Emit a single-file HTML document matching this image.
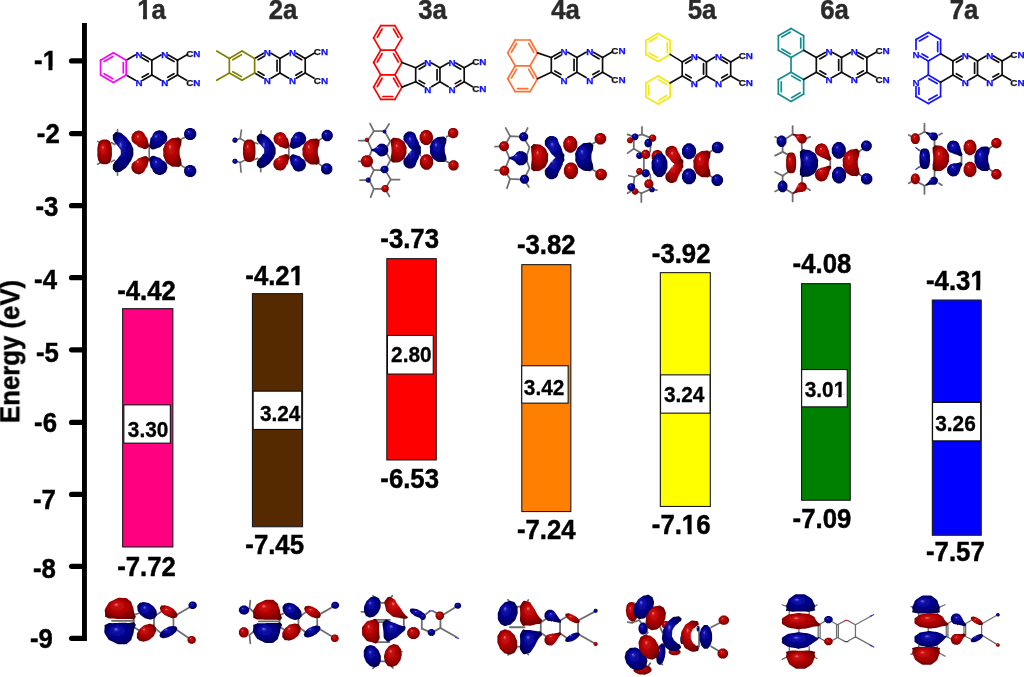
<!DOCTYPE html>
<html><head><meta charset="utf-8"><title>Energy levels</title>
<style>
html,body{margin:0;padding:0;background:#fff;}
body{width:1024px;height:677px;overflow:hidden;font-family:"Liberation Sans",sans-serif;}
svg{display:block;}
text{font-family:"Liberation Sans",sans-serif;font-weight:bold;}
.tk{font-size:27px;fill:#000;stroke:#000;stroke-width:0.45px;}
.yl{font-size:27px;fill:#000;stroke:#000;stroke-width:0.45px;}
.ev{font-size:27px;fill:#000;stroke:#000;stroke-width:0.45px;}
.gp{font-size:21.5px;fill:#000;stroke:#000;stroke-width:0.3px;}
.tt{font-size:27px;fill:#2b2b2b;stroke:#2b2b2b;stroke-width:0.45px;}
</style></head><body>
<svg width="1024" height="677" viewBox="0 0 1024 677">
<rect width="1024" height="677" fill="#fff"/>
<defs><filter id="soft" x="0" y="0" width="1024" height="677" filterUnits="userSpaceOnUse"><feGaussianBlur stdDeviation="0.38"/></filter></defs>
<g filter="url(#soft)">
<g id="axis">
<rect x="82" y="23" width="4.9" height="618.0" fill="#000"/>
<line x1="71.6" y1="60.9" x2="84" y2="60.9" stroke="#000" stroke-width="5.3" stroke-linecap="round"/>
<text transform="translate(34.1,69.9) scale(0.955,1)" text-anchor="start" class="tk">-1</text>
<line x1="71.6" y1="133.6" x2="84" y2="133.6" stroke="#000" stroke-width="5.3" stroke-linecap="round"/>
<text transform="translate(36.8,143.2) scale(0.955,1)" text-anchor="start" class="tk">-2</text>
<line x1="71.6" y1="205.7" x2="84" y2="205.7" stroke="#000" stroke-width="5.3" stroke-linecap="round"/>
<text transform="translate(35.4,215.5) scale(0.955,1)" text-anchor="start" class="tk">-3</text>
<line x1="71.6" y1="277.7" x2="84" y2="277.7" stroke="#000" stroke-width="5.3" stroke-linecap="round"/>
<text transform="translate(34.1,288.6) scale(0.955,1)" text-anchor="start" class="tk">-4</text>
<line x1="71.6" y1="349.8" x2="84" y2="349.8" stroke="#000" stroke-width="5.3" stroke-linecap="round"/>
<text transform="translate(36.0,362.4) scale(0.955,1)" text-anchor="start" class="tk">-5</text>
<line x1="71.6" y1="422.4" x2="84" y2="422.4" stroke="#000" stroke-width="5.3" stroke-linecap="round"/>
<text transform="translate(34.1,432.1) scale(0.955,1)" text-anchor="start" class="tk">-6</text>
<line x1="71.6" y1="494.4" x2="84" y2="494.4" stroke="#000" stroke-width="5.3" stroke-linecap="round"/>
<text transform="translate(32.9,509.1) scale(0.955,1)" text-anchor="start" class="tk">-7</text>
<line x1="71.6" y1="566.3" x2="84" y2="566.3" stroke="#000" stroke-width="5.3" stroke-linecap="round"/>
<text transform="translate(32.9,577.7) scale(0.955,1)" text-anchor="start" class="tk">-8</text>
<line x1="71.6" y1="638.3" x2="84" y2="638.3" stroke="#000" stroke-width="5.3" stroke-linecap="round"/>
<text transform="translate(30.0,647.8) scale(0.955,1)" text-anchor="start" class="tk">-9</text>
<text transform="translate(19.3,351.5) rotate(-90) scale(0.955,1)" text-anchor="middle" class="yl">Energy (eV)</text>
</g>
<g id="bars">
<rect x="122.65" y="308.65" width="50.20" height="238.30" fill="#ff0080" stroke="#1a1a1a" stroke-width="1.1"/>
<rect x="123.85" y="404.85" width="46.50" height="38.30" fill="#fff" stroke="#111" stroke-width="1.1"/>
<text transform="translate(127.8,436.6) scale(0.970,1)" text-anchor="start" class="gp">3.30</text>
<text transform="translate(117.2,299.9) scale(0.955,1)" text-anchor="start" class="ev">-4.42</text>
<text transform="translate(117.2,576.2) scale(0.955,1)" text-anchor="start" class="ev">-7.72</text>
<rect x="252.45" y="293.65" width="50.10" height="233.10" fill="#562b00" stroke="#1a1a1a" stroke-width="1.1"/>
<rect x="253.15" y="391.15" width="48.60" height="38.30" fill="#fff" stroke="#111" stroke-width="1.1"/>
<text transform="translate(259.9,420.7) scale(0.970,1)" text-anchor="start" class="gp">3.24</text>
<text transform="translate(245.3,284.9) scale(0.955,1)" text-anchor="start" class="ev">-4.21</text>
<text transform="translate(245.3,553.5) scale(0.955,1)" text-anchor="start" class="ev">-7.45</text>
<rect x="386.80" y="258.65" width="49.45" height="201.30" fill="#ff0000" stroke="#1a1a1a" stroke-width="1.1"/>
<rect x="387.45" y="335.45" width="45.80" height="38.60" fill="#fff" stroke="#111" stroke-width="1.1"/>
<text transform="translate(391.1,361.8) scale(0.970,1)" text-anchor="start" class="gp">2.80</text>
<text transform="translate(380.3,248.2) scale(0.955,1)" text-anchor="start" class="ev">-3.73</text>
<text transform="translate(380.3,487.8) scale(0.955,1)" text-anchor="start" class="ev">-6.53</text>
<rect x="521.80" y="264.65" width="49.05" height="246.90" fill="#ff8000" stroke="#1a1a1a" stroke-width="1.1"/>
<rect x="521.75" y="365.75" width="46.40" height="37.40" fill="#fff" stroke="#111" stroke-width="1.1"/>
<text transform="translate(523.8,395.3) scale(0.970,1)" text-anchor="start" class="gp">3.42</text>
<text transform="translate(516.9,253.8) scale(0.955,1)" text-anchor="start" class="ev">-3.82</text>
<text transform="translate(516.9,538.7) scale(0.955,1)" text-anchor="start" class="ev">-7.24</text>
<rect x="660.35" y="272.65" width="50.00" height="233.80" fill="#ffff00" stroke="#1a1a1a" stroke-width="1.1"/>
<rect x="660.55" y="374.85" width="49.50" height="38.30" fill="#fff" stroke="#111" stroke-width="1.1"/>
<text transform="translate(663.9,402.2) scale(0.970,1)" text-anchor="start" class="gp">3.24</text>
<text transform="translate(651.8,262.7) scale(0.955,1)" text-anchor="start" class="ev">-3.92</text>
<text transform="translate(651.8,533.9) scale(0.955,1)" text-anchor="start" class="ev">-7.16</text>
<rect x="801.55" y="283.65" width="48.70" height="216.60" fill="#008000" stroke="#1a1a1a" stroke-width="1.1"/>
<rect x="801.65" y="369.55" width="45.60" height="37.30" fill="#fff" stroke="#111" stroke-width="1.1"/>
<text transform="translate(804.7,397.0) scale(0.970,1)" text-anchor="start" class="gp">3.01</text>
<text transform="translate(792.6,272.7) scale(0.955,1)" text-anchor="start" class="ev">-4.08</text>
<text transform="translate(792.6,527.5) scale(0.955,1)" text-anchor="start" class="ev">-7.09</text>
<rect x="932.35" y="300.05" width="48.90" height="235.20" fill="#0000ff" stroke="#1a1a1a" stroke-width="1.1"/>
<rect x="932.55" y="402.45" width="48.10" height="38.40" fill="#fff" stroke="#111" stroke-width="1.1"/>
<text transform="translate(935.2,431.0) scale(0.970,1)" text-anchor="start" class="gp">3.26</text>
<text transform="translate(926.0,289.9) scale(0.955,1)" text-anchor="start" class="ev">-4.31</text>
<text transform="translate(926.0,561.3) scale(0.955,1)" text-anchor="start" class="ev">-7.57</text>
</g>
<g id="titles">
<text transform="translate(151.5,18.8) scale(0.955,1)" text-anchor="middle" class="tt">1a</text>
<text transform="translate(283.0,18.8) scale(0.955,1)" text-anchor="middle" class="tt">2a</text>
<text transform="translate(432.5,18.8) scale(0.955,1)" text-anchor="middle" class="tt">3a</text>
<text transform="translate(565.5,18.8) scale(0.955,1)" text-anchor="middle" class="tt">4a</text>
<text transform="translate(702.0,18.8) scale(0.955,1)" text-anchor="middle" class="tt">5a</text>
<text transform="translate(834.5,18.8) scale(0.955,1)" text-anchor="middle" class="tt">6a</text>
<text transform="translate(964.0,18.8) scale(0.955,1)" text-anchor="middle" class="tt">7a</text>
</g>
<g id="mols" stroke-linecap="round" fill="none">
<line x1="126.22" y1="60.20" x2="135.31" y2="54.95" stroke="#111" stroke-width="1.70"/>
<line x1="142.76" y1="54.95" x2="151.85" y2="60.20" stroke="#111" stroke-width="1.70"/>
<line x1="151.85" y1="60.20" x2="151.85" y2="75.00" stroke="#111" stroke-width="1.70"/>
<line x1="151.85" y1="75.00" x2="142.76" y2="80.25" stroke="#111" stroke-width="1.70"/>
<line x1="135.31" y1="80.25" x2="126.22" y2="75.00" stroke="#111" stroke-width="1.70"/>
<line x1="151.85" y1="60.20" x2="160.94" y2="54.95" stroke="#111" stroke-width="1.70"/>
<line x1="168.39" y1="54.95" x2="177.49" y2="60.20" stroke="#111" stroke-width="1.70"/>
<line x1="177.49" y1="60.20" x2="177.49" y2="75.00" stroke="#111" stroke-width="1.70"/>
<line x1="177.49" y1="75.00" x2="168.39" y2="80.25" stroke="#111" stroke-width="1.70"/>
<line x1="160.94" y1="80.25" x2="151.85" y2="75.00" stroke="#111" stroke-width="1.70"/>
<line x1="142.17" y1="57.96" x2="148.35" y2="61.53" stroke="#111" stroke-width="1.70"/>
<line x1="142.17" y1="77.24" x2="148.35" y2="73.67" stroke="#111" stroke-width="1.70"/>
<line x1="167.81" y1="57.96" x2="173.99" y2="61.53" stroke="#111" stroke-width="1.70"/>
<line x1="167.81" y1="77.24" x2="173.99" y2="73.67" stroke="#111" stroke-width="1.70"/>
<text x="139.03" y="57.53" text-anchor="middle" font-size="9.8" fill="#0a0aff" stroke="#0a0aff" stroke-width="0.25">N</text>
<text x="139.03" y="86.23" text-anchor="middle" font-size="9.8" fill="#0a0aff" stroke="#0a0aff" stroke-width="0.25">N</text>
<text x="164.67" y="57.53" text-anchor="middle" font-size="9.8" fill="#0a0aff" stroke="#0a0aff" stroke-width="0.25">N</text>
<text x="164.67" y="86.23" text-anchor="middle" font-size="9.8" fill="#0a0aff" stroke="#0a0aff" stroke-width="0.25">N</text>
<line x1="177.49" y1="60.20" x2="186.58" y2="54.95" stroke="#111" stroke-width="1.70"/>
<text x="186.20" y="56.75" font-size="9.9"><tspan fill="#111" stroke="#111" stroke-width="0.25">C</tspan><tspan fill="#0a0aff" stroke="#0a0aff" stroke-width="0.25">N</tspan></text>
<line x1="177.49" y1="75.00" x2="186.58" y2="80.25" stroke="#111" stroke-width="1.70"/>
<text x="186.20" y="85.75" font-size="9.9"><tspan fill="#111" stroke="#111" stroke-width="0.25">C</tspan><tspan fill="#0a0aff" stroke="#0a0aff" stroke-width="0.25">N</tspan></text>
<line x1="113.40" y1="52.80" x2="126.22" y2="60.20" stroke="#ff00ff" stroke-width="1.70"/>
<line x1="126.22" y1="60.20" x2="126.22" y2="75.00" stroke="#ff00ff" stroke-width="1.70"/>
<line x1="126.22" y1="75.00" x2="113.40" y2="82.40" stroke="#ff00ff" stroke-width="1.70"/>
<line x1="113.40" y1="82.40" x2="100.58" y2="75.00" stroke="#ff00ff" stroke-width="1.70"/>
<line x1="100.58" y1="75.00" x2="100.58" y2="60.20" stroke="#ff00ff" stroke-width="1.70"/>
<line x1="100.58" y1="60.20" x2="113.40" y2="52.80" stroke="#ff00ff" stroke-width="1.70"/>
<line x1="104.08" y1="61.53" x2="112.80" y2="56.50" stroke="#ff00ff" stroke-width="1.70"/>
<line x1="123.32" y1="62.57" x2="123.32" y2="72.63" stroke="#ff00ff" stroke-width="1.70"/>
<line x1="112.80" y1="78.70" x2="104.08" y2="73.67" stroke="#ff00ff" stroke-width="1.70"/>
<line x1="254.64" y1="58.40" x2="263.56" y2="53.25" stroke="#111" stroke-width="1.70"/>
<line x1="271.01" y1="53.25" x2="279.93" y2="58.40" stroke="#111" stroke-width="1.70"/>
<line x1="279.93" y1="58.40" x2="279.93" y2="73.00" stroke="#111" stroke-width="1.70"/>
<line x1="279.93" y1="73.00" x2="271.01" y2="78.15" stroke="#111" stroke-width="1.70"/>
<line x1="263.56" y1="78.15" x2="254.64" y2="73.00" stroke="#111" stroke-width="1.70"/>
<line x1="279.93" y1="58.40" x2="288.85" y2="53.25" stroke="#111" stroke-width="1.70"/>
<line x1="296.30" y1="53.25" x2="305.22" y2="58.40" stroke="#111" stroke-width="1.70"/>
<line x1="305.22" y1="58.40" x2="305.22" y2="73.00" stroke="#111" stroke-width="1.70"/>
<line x1="305.22" y1="73.00" x2="296.30" y2="78.15" stroke="#111" stroke-width="1.70"/>
<line x1="288.85" y1="78.15" x2="279.93" y2="73.00" stroke="#111" stroke-width="1.70"/>
<line x1="258.12" y1="59.74" x2="264.15" y2="56.26" stroke="#111" stroke-width="1.70"/>
<line x1="258.12" y1="71.66" x2="264.15" y2="75.14" stroke="#111" stroke-width="1.70"/>
<line x1="277.03" y1="60.30" x2="277.03" y2="71.10" stroke="#111" stroke-width="1.70"/>
<line x1="295.72" y1="56.26" x2="301.75" y2="59.74" stroke="#111" stroke-width="1.70"/>
<line x1="295.72" y1="75.14" x2="301.75" y2="71.66" stroke="#111" stroke-width="1.70"/>
<text x="267.29" y="55.83" text-anchor="middle" font-size="9.8" fill="#0a0aff" stroke="#0a0aff" stroke-width="0.25">N</text>
<text x="267.29" y="84.13" text-anchor="middle" font-size="9.8" fill="#0a0aff" stroke="#0a0aff" stroke-width="0.25">N</text>
<text x="292.58" y="55.83" text-anchor="middle" font-size="9.8" fill="#0a0aff" stroke="#0a0aff" stroke-width="0.25">N</text>
<text x="292.58" y="84.13" text-anchor="middle" font-size="9.8" fill="#0a0aff" stroke="#0a0aff" stroke-width="0.25">N</text>
<line x1="305.22" y1="58.40" x2="314.14" y2="53.25" stroke="#111" stroke-width="1.70"/>
<text x="313.76" y="55.05" font-size="9.9"><tspan fill="#111" stroke="#111" stroke-width="0.25">C</tspan><tspan fill="#0a0aff" stroke="#0a0aff" stroke-width="0.25">N</tspan></text>
<line x1="305.22" y1="73.00" x2="314.14" y2="78.15" stroke="#111" stroke-width="1.70"/>
<text x="313.76" y="83.65" font-size="9.9"><tspan fill="#111" stroke="#111" stroke-width="0.25">C</tspan><tspan fill="#0a0aff" stroke="#0a0aff" stroke-width="0.25">N</tspan></text>
<line x1="242.00" y1="51.10" x2="254.64" y2="58.40" stroke="#808000" stroke-width="1.70"/>
<line x1="254.64" y1="58.40" x2="254.64" y2="73.00" stroke="#808000" stroke-width="1.70"/>
<line x1="254.64" y1="73.00" x2="242.00" y2="80.30" stroke="#808000" stroke-width="1.70"/>
<line x1="242.00" y1="80.30" x2="229.36" y2="73.00" stroke="#808000" stroke-width="1.70"/>
<line x1="229.36" y1="73.00" x2="229.36" y2="58.40" stroke="#808000" stroke-width="1.70"/>
<line x1="229.36" y1="58.40" x2="242.00" y2="51.10" stroke="#808000" stroke-width="1.70"/>
<line x1="232.83" y1="59.74" x2="241.43" y2="54.78" stroke="#808000" stroke-width="1.70"/>
<line x1="241.43" y1="76.62" x2="232.83" y2="71.66" stroke="#808000" stroke-width="1.70"/>
<line x1="229.36" y1="58.40" x2="216.71" y2="51.10" stroke="#808000" stroke-width="1.70"/>
<line x1="229.36" y1="73.00" x2="216.71" y2="80.30" stroke="#808000" stroke-width="1.70"/>
<line x1="380.70" y1="25.60" x2="394.90" y2="25.60" stroke="#ff0000" stroke-width="1.70"/>
<line x1="394.90" y1="25.60" x2="402.00" y2="37.90" stroke="#ff0000" stroke-width="1.70"/>
<line x1="402.00" y1="37.90" x2="394.90" y2="50.20" stroke="#ff0000" stroke-width="1.70"/>
<line x1="394.90" y1="50.20" x2="380.70" y2="50.20" stroke="#ff0000" stroke-width="1.70"/>
<line x1="380.70" y1="50.20" x2="373.60" y2="37.90" stroke="#ff0000" stroke-width="1.70"/>
<line x1="373.60" y1="37.90" x2="380.70" y2="25.60" stroke="#ff0000" stroke-width="1.70"/>
<line x1="394.90" y1="50.20" x2="402.00" y2="62.50" stroke="#ff0000" stroke-width="1.70"/>
<line x1="402.00" y1="62.50" x2="394.90" y2="74.79" stroke="#ff0000" stroke-width="1.70"/>
<line x1="394.90" y1="74.79" x2="380.70" y2="74.79" stroke="#ff0000" stroke-width="1.70"/>
<line x1="380.70" y1="74.79" x2="373.60" y2="62.50" stroke="#ff0000" stroke-width="1.70"/>
<line x1="373.60" y1="62.50" x2="380.70" y2="50.20" stroke="#ff0000" stroke-width="1.70"/>
<line x1="394.90" y1="74.79" x2="402.00" y2="87.09" stroke="#ff0000" stroke-width="1.70"/>
<line x1="402.00" y1="87.09" x2="394.90" y2="99.39" stroke="#ff0000" stroke-width="1.70"/>
<line x1="394.90" y1="99.39" x2="380.70" y2="99.39" stroke="#ff0000" stroke-width="1.70"/>
<line x1="380.70" y1="99.39" x2="373.60" y2="87.09" stroke="#ff0000" stroke-width="1.70"/>
<line x1="373.60" y1="87.09" x2="380.70" y2="74.79" stroke="#ff0000" stroke-width="1.70"/>
<line x1="377.25" y1="37.38" x2="382.08" y2="29.02" stroke="#ff0000" stroke-width="1.70"/>
<line x1="393.52" y1="29.02" x2="398.35" y2="37.38" stroke="#ff0000" stroke-width="1.70"/>
<line x1="377.25" y1="61.98" x2="382.08" y2="53.62" stroke="#ff0000" stroke-width="1.70"/>
<line x1="393.52" y1="53.62" x2="398.35" y2="61.98" stroke="#ff0000" stroke-width="1.70"/>
<line x1="377.25" y1="86.57" x2="382.08" y2="78.21" stroke="#ff0000" stroke-width="1.70"/>
<line x1="393.52" y1="78.21" x2="398.35" y2="86.57" stroke="#ff0000" stroke-width="1.70"/>
<line x1="392.63" y1="96.49" x2="382.97" y2="96.49" stroke="#ff0000" stroke-width="1.70"/>
<line x1="415.70" y1="67.79" x2="424.10" y2="62.94" stroke="#111" stroke-width="1.70"/>
<line x1="431.55" y1="62.94" x2="439.95" y2="67.79" stroke="#111" stroke-width="1.70"/>
<line x1="439.95" y1="67.79" x2="439.95" y2="81.79" stroke="#111" stroke-width="1.70"/>
<line x1="439.95" y1="81.79" x2="431.55" y2="86.64" stroke="#111" stroke-width="1.70"/>
<line x1="424.10" y1="86.64" x2="415.70" y2="81.79" stroke="#111" stroke-width="1.70"/>
<line x1="415.70" y1="81.79" x2="415.70" y2="67.79" stroke="#111" stroke-width="1.70"/>
<line x1="439.95" y1="67.79" x2="448.35" y2="62.94" stroke="#111" stroke-width="1.70"/>
<line x1="455.80" y1="62.94" x2="464.20" y2="67.79" stroke="#111" stroke-width="1.70"/>
<line x1="464.20" y1="67.79" x2="464.20" y2="81.79" stroke="#111" stroke-width="1.70"/>
<line x1="464.20" y1="81.79" x2="455.80" y2="86.64" stroke="#111" stroke-width="1.70"/>
<line x1="448.35" y1="86.64" x2="439.95" y2="81.79" stroke="#111" stroke-width="1.70"/>
<line x1="419.09" y1="69.18" x2="424.68" y2="65.95" stroke="#111" stroke-width="1.70"/>
<line x1="419.09" y1="80.40" x2="424.68" y2="83.63" stroke="#111" stroke-width="1.70"/>
<line x1="437.05" y1="69.61" x2="437.05" y2="79.97" stroke="#111" stroke-width="1.70"/>
<line x1="455.21" y1="65.95" x2="460.81" y2="69.18" stroke="#111" stroke-width="1.70"/>
<line x1="455.21" y1="83.63" x2="460.81" y2="80.40" stroke="#111" stroke-width="1.70"/>
<text x="427.82" y="65.52" text-anchor="middle" font-size="9.8" fill="#0a0aff" stroke="#0a0aff" stroke-width="0.25">N</text>
<text x="427.82" y="92.62" text-anchor="middle" font-size="9.8" fill="#0a0aff" stroke="#0a0aff" stroke-width="0.25">N</text>
<text x="452.07" y="65.52" text-anchor="middle" font-size="9.8" fill="#0a0aff" stroke="#0a0aff" stroke-width="0.25">N</text>
<text x="452.07" y="92.62" text-anchor="middle" font-size="9.8" fill="#0a0aff" stroke="#0a0aff" stroke-width="0.25">N</text>
<line x1="464.20" y1="67.79" x2="472.60" y2="62.94" stroke="#111" stroke-width="1.70"/>
<text x="472.22" y="64.74" font-size="9.9"><tspan fill="#111" stroke="#111" stroke-width="0.25">C</tspan><tspan fill="#0a0aff" stroke="#0a0aff" stroke-width="0.25">N</tspan></text>
<line x1="464.20" y1="81.79" x2="472.60" y2="86.64" stroke="#111" stroke-width="1.70"/>
<text x="472.22" y="92.14" font-size="9.9"><tspan fill="#111" stroke="#111" stroke-width="0.25">C</tspan><tspan fill="#0a0aff" stroke="#0a0aff" stroke-width="0.25">N</tspan></text>
<line x1="402.00" y1="62.50" x2="415.70" y2="67.79" stroke="#111" stroke-width="1.70"/>
<line x1="402.00" y1="87.09" x2="415.70" y2="81.79" stroke="#111" stroke-width="1.70"/>
<line x1="515.15" y1="40.00" x2="530.05" y2="40.00" stroke="#ff7033" stroke-width="1.70"/>
<line x1="530.05" y1="40.00" x2="537.50" y2="52.90" stroke="#ff7033" stroke-width="1.70"/>
<line x1="537.50" y1="52.90" x2="530.05" y2="65.80" stroke="#ff7033" stroke-width="1.70"/>
<line x1="530.05" y1="65.80" x2="515.15" y2="65.80" stroke="#ff7033" stroke-width="1.70"/>
<line x1="515.15" y1="65.80" x2="507.70" y2="52.90" stroke="#ff7033" stroke-width="1.70"/>
<line x1="507.70" y1="52.90" x2="515.15" y2="40.00" stroke="#ff7033" stroke-width="1.70"/>
<line x1="530.05" y1="65.80" x2="537.50" y2="78.71" stroke="#ff7033" stroke-width="1.70"/>
<line x1="537.50" y1="78.71" x2="530.05" y2="91.61" stroke="#ff7033" stroke-width="1.70"/>
<line x1="530.05" y1="91.61" x2="515.15" y2="91.61" stroke="#ff7033" stroke-width="1.70"/>
<line x1="515.15" y1="91.61" x2="507.70" y2="78.71" stroke="#ff7033" stroke-width="1.70"/>
<line x1="507.70" y1="78.71" x2="515.15" y2="65.80" stroke="#ff7033" stroke-width="1.70"/>
<line x1="511.40" y1="52.29" x2="516.47" y2="43.51" stroke="#ff7033" stroke-width="1.70"/>
<line x1="528.73" y1="43.51" x2="533.80" y2="52.29" stroke="#ff7033" stroke-width="1.70"/>
<line x1="511.40" y1="78.09" x2="516.47" y2="69.32" stroke="#ff7033" stroke-width="1.70"/>
<line x1="528.73" y1="69.32" x2="533.80" y2="78.09" stroke="#ff7033" stroke-width="1.70"/>
<line x1="527.67" y1="88.71" x2="517.53" y2="88.71" stroke="#ff7033" stroke-width="1.70"/>
<line x1="551.30" y1="57.50" x2="560.39" y2="52.25" stroke="#111" stroke-width="1.70"/>
<line x1="567.84" y1="52.25" x2="576.93" y2="57.50" stroke="#111" stroke-width="1.70"/>
<line x1="576.93" y1="57.50" x2="576.93" y2="72.30" stroke="#111" stroke-width="1.70"/>
<line x1="576.93" y1="72.30" x2="567.84" y2="77.55" stroke="#111" stroke-width="1.70"/>
<line x1="560.39" y1="77.55" x2="551.30" y2="72.30" stroke="#111" stroke-width="1.70"/>
<line x1="551.30" y1="72.30" x2="551.30" y2="57.50" stroke="#111" stroke-width="1.70"/>
<line x1="576.93" y1="57.50" x2="586.03" y2="52.25" stroke="#111" stroke-width="1.70"/>
<line x1="593.48" y1="52.25" x2="602.57" y2="57.50" stroke="#111" stroke-width="1.70"/>
<line x1="602.57" y1="57.50" x2="602.57" y2="72.30" stroke="#111" stroke-width="1.70"/>
<line x1="602.57" y1="72.30" x2="593.48" y2="77.55" stroke="#111" stroke-width="1.70"/>
<line x1="586.03" y1="77.55" x2="576.93" y2="72.30" stroke="#111" stroke-width="1.70"/>
<line x1="554.80" y1="58.83" x2="560.98" y2="55.27" stroke="#111" stroke-width="1.70"/>
<line x1="554.80" y1="70.98" x2="560.98" y2="74.54" stroke="#111" stroke-width="1.70"/>
<line x1="574.03" y1="59.43" x2="574.03" y2="70.38" stroke="#111" stroke-width="1.70"/>
<line x1="592.89" y1="55.27" x2="599.07" y2="58.83" stroke="#111" stroke-width="1.70"/>
<line x1="592.89" y1="74.54" x2="599.07" y2="70.98" stroke="#111" stroke-width="1.70"/>
<text x="564.12" y="54.83" text-anchor="middle" font-size="9.8" fill="#0a0aff" stroke="#0a0aff" stroke-width="0.25">N</text>
<text x="564.12" y="83.53" text-anchor="middle" font-size="9.8" fill="#0a0aff" stroke="#0a0aff" stroke-width="0.25">N</text>
<text x="589.75" y="54.83" text-anchor="middle" font-size="9.8" fill="#0a0aff" stroke="#0a0aff" stroke-width="0.25">N</text>
<text x="589.75" y="83.53" text-anchor="middle" font-size="9.8" fill="#0a0aff" stroke="#0a0aff" stroke-width="0.25">N</text>
<line x1="602.57" y1="57.50" x2="611.66" y2="52.25" stroke="#111" stroke-width="1.70"/>
<text x="611.29" y="54.05" font-size="9.9"><tspan fill="#111" stroke="#111" stroke-width="0.25">C</tspan><tspan fill="#0a0aff" stroke="#0a0aff" stroke-width="0.25">N</tspan></text>
<line x1="602.57" y1="72.30" x2="611.66" y2="77.55" stroke="#111" stroke-width="1.70"/>
<text x="611.29" y="83.05" font-size="9.9"><tspan fill="#111" stroke="#111" stroke-width="0.25">C</tspan><tspan fill="#0a0aff" stroke="#0a0aff" stroke-width="0.25">N</tspan></text>
<line x1="537.50" y1="52.90" x2="551.30" y2="57.50" stroke="#111" stroke-width="1.70"/>
<line x1="537.50" y1="78.71" x2="551.30" y2="72.30" stroke="#111" stroke-width="1.70"/>
<line x1="682.20" y1="61.90" x2="690.60" y2="57.05" stroke="#111" stroke-width="1.70"/>
<line x1="698.05" y1="57.05" x2="706.45" y2="61.90" stroke="#111" stroke-width="1.70"/>
<line x1="706.45" y1="61.90" x2="706.45" y2="75.90" stroke="#111" stroke-width="1.70"/>
<line x1="706.45" y1="75.90" x2="698.05" y2="80.75" stroke="#111" stroke-width="1.70"/>
<line x1="690.60" y1="80.75" x2="682.20" y2="75.90" stroke="#111" stroke-width="1.70"/>
<line x1="682.20" y1="75.90" x2="682.20" y2="61.90" stroke="#111" stroke-width="1.70"/>
<line x1="706.45" y1="61.90" x2="714.85" y2="57.05" stroke="#111" stroke-width="1.70"/>
<line x1="722.30" y1="57.05" x2="730.70" y2="61.90" stroke="#111" stroke-width="1.70"/>
<line x1="730.70" y1="61.90" x2="730.70" y2="75.90" stroke="#111" stroke-width="1.70"/>
<line x1="730.70" y1="75.90" x2="722.30" y2="80.75" stroke="#111" stroke-width="1.70"/>
<line x1="714.85" y1="80.75" x2="706.45" y2="75.90" stroke="#111" stroke-width="1.70"/>
<line x1="685.59" y1="63.29" x2="691.18" y2="60.06" stroke="#111" stroke-width="1.70"/>
<line x1="685.59" y1="74.51" x2="691.18" y2="77.74" stroke="#111" stroke-width="1.70"/>
<line x1="703.55" y1="63.72" x2="703.55" y2="74.08" stroke="#111" stroke-width="1.70"/>
<line x1="721.71" y1="60.06" x2="727.31" y2="63.29" stroke="#111" stroke-width="1.70"/>
<line x1="721.71" y1="77.74" x2="727.31" y2="74.51" stroke="#111" stroke-width="1.70"/>
<text x="694.32" y="59.63" text-anchor="middle" font-size="9.8" fill="#0a0aff" stroke="#0a0aff" stroke-width="0.25">N</text>
<text x="694.32" y="86.73" text-anchor="middle" font-size="9.8" fill="#0a0aff" stroke="#0a0aff" stroke-width="0.25">N</text>
<text x="718.57" y="59.63" text-anchor="middle" font-size="9.8" fill="#0a0aff" stroke="#0a0aff" stroke-width="0.25">N</text>
<text x="718.57" y="86.73" text-anchor="middle" font-size="9.8" fill="#0a0aff" stroke="#0a0aff" stroke-width="0.25">N</text>
<line x1="730.70" y1="61.90" x2="739.10" y2="57.05" stroke="#111" stroke-width="1.70"/>
<text x="738.72" y="58.85" font-size="9.9"><tspan fill="#111" stroke="#111" stroke-width="0.25">C</tspan><tspan fill="#0a0aff" stroke="#0a0aff" stroke-width="0.25">N</tspan></text>
<line x1="730.70" y1="75.90" x2="739.10" y2="80.75" stroke="#111" stroke-width="1.70"/>
<text x="738.72" y="86.25" font-size="9.9"><tspan fill="#111" stroke="#111" stroke-width="0.25">C</tspan><tspan fill="#0a0aff" stroke="#0a0aff" stroke-width="0.25">N</tspan></text>
<line x1="658.00" y1="33.40" x2="670.12" y2="40.40" stroke="#f2ea10" stroke-width="1.70"/>
<line x1="670.12" y1="40.40" x2="670.12" y2="54.40" stroke="#f2ea10" stroke-width="1.70"/>
<line x1="670.12" y1="54.40" x2="658.00" y2="61.40" stroke="#f2ea10" stroke-width="1.70"/>
<line x1="658.00" y1="61.40" x2="645.88" y2="54.40" stroke="#f2ea10" stroke-width="1.70"/>
<line x1="645.88" y1="54.40" x2="645.88" y2="40.40" stroke="#f2ea10" stroke-width="1.70"/>
<line x1="645.88" y1="40.40" x2="658.00" y2="33.40" stroke="#f2ea10" stroke-width="1.70"/>
<line x1="658.00" y1="76.00" x2="670.12" y2="83.00" stroke="#f2ea10" stroke-width="1.70"/>
<line x1="670.12" y1="83.00" x2="670.12" y2="97.00" stroke="#f2ea10" stroke-width="1.70"/>
<line x1="670.12" y1="97.00" x2="658.00" y2="104.00" stroke="#f2ea10" stroke-width="1.70"/>
<line x1="658.00" y1="104.00" x2="645.88" y2="97.00" stroke="#f2ea10" stroke-width="1.70"/>
<line x1="645.88" y1="97.00" x2="645.88" y2="83.00" stroke="#f2ea10" stroke-width="1.70"/>
<line x1="645.88" y1="83.00" x2="658.00" y2="76.00" stroke="#f2ea10" stroke-width="1.70"/>
<line x1="649.27" y1="41.79" x2="657.51" y2="37.03" stroke="#f2ea10" stroke-width="1.70"/>
<line x1="667.22" y1="42.64" x2="667.22" y2="52.16" stroke="#f2ea10" stroke-width="1.70"/>
<line x1="657.51" y1="57.77" x2="649.27" y2="53.01" stroke="#f2ea10" stroke-width="1.70"/>
<line x1="658.49" y1="79.63" x2="666.73" y2="84.39" stroke="#f2ea10" stroke-width="1.70"/>
<line x1="666.73" y1="95.61" x2="658.49" y2="100.37" stroke="#f2ea10" stroke-width="1.70"/>
<line x1="648.78" y1="94.76" x2="648.78" y2="85.24" stroke="#f2ea10" stroke-width="1.70"/>
<line x1="670.12" y1="54.40" x2="682.20" y2="61.90" stroke="#111" stroke-width="1.70"/>
<line x1="670.12" y1="83.00" x2="682.20" y2="75.90" stroke="#111" stroke-width="1.70"/>
<line x1="816.30" y1="57.60" x2="825.22" y2="52.45" stroke="#111" stroke-width="1.70"/>
<line x1="832.67" y1="52.45" x2="841.59" y2="57.60" stroke="#111" stroke-width="1.70"/>
<line x1="841.59" y1="57.60" x2="841.59" y2="72.20" stroke="#111" stroke-width="1.70"/>
<line x1="841.59" y1="72.20" x2="832.67" y2="77.35" stroke="#111" stroke-width="1.70"/>
<line x1="825.22" y1="77.35" x2="816.30" y2="72.20" stroke="#111" stroke-width="1.70"/>
<line x1="816.30" y1="72.20" x2="816.30" y2="57.60" stroke="#111" stroke-width="1.70"/>
<line x1="841.59" y1="57.60" x2="850.51" y2="52.45" stroke="#111" stroke-width="1.70"/>
<line x1="857.96" y1="52.45" x2="866.88" y2="57.60" stroke="#111" stroke-width="1.70"/>
<line x1="866.88" y1="57.60" x2="866.88" y2="72.20" stroke="#111" stroke-width="1.70"/>
<line x1="866.88" y1="72.20" x2="857.96" y2="77.35" stroke="#111" stroke-width="1.70"/>
<line x1="850.51" y1="77.35" x2="841.59" y2="72.20" stroke="#111" stroke-width="1.70"/>
<line x1="819.77" y1="58.94" x2="825.80" y2="55.46" stroke="#111" stroke-width="1.70"/>
<line x1="819.77" y1="70.86" x2="825.80" y2="74.34" stroke="#111" stroke-width="1.70"/>
<line x1="838.69" y1="59.50" x2="838.69" y2="70.30" stroke="#111" stroke-width="1.70"/>
<line x1="857.37" y1="55.46" x2="863.40" y2="58.94" stroke="#111" stroke-width="1.70"/>
<line x1="857.37" y1="74.34" x2="863.40" y2="70.86" stroke="#111" stroke-width="1.70"/>
<text x="828.94" y="55.03" text-anchor="middle" font-size="9.8" fill="#0a0aff" stroke="#0a0aff" stroke-width="0.25">N</text>
<text x="828.94" y="83.33" text-anchor="middle" font-size="9.8" fill="#0a0aff" stroke="#0a0aff" stroke-width="0.25">N</text>
<text x="854.23" y="55.03" text-anchor="middle" font-size="9.8" fill="#0a0aff" stroke="#0a0aff" stroke-width="0.25">N</text>
<text x="854.23" y="83.33" text-anchor="middle" font-size="9.8" fill="#0a0aff" stroke="#0a0aff" stroke-width="0.25">N</text>
<line x1="866.88" y1="57.60" x2="875.80" y2="52.45" stroke="#111" stroke-width="1.70"/>
<text x="875.42" y="54.25" font-size="9.9"><tspan fill="#111" stroke="#111" stroke-width="0.25">C</tspan><tspan fill="#0a0aff" stroke="#0a0aff" stroke-width="0.25">N</tspan></text>
<line x1="866.88" y1="72.20" x2="875.80" y2="77.35" stroke="#111" stroke-width="1.70"/>
<text x="875.42" y="82.85" font-size="9.9"><tspan fill="#111" stroke="#111" stroke-width="0.25">C</tspan><tspan fill="#0a0aff" stroke="#0a0aff" stroke-width="0.25">N</tspan></text>
<line x1="791.01" y1="28.40" x2="803.66" y2="35.70" stroke="#198c8c" stroke-width="1.70"/>
<line x1="803.66" y1="35.70" x2="803.66" y2="50.30" stroke="#198c8c" stroke-width="1.70"/>
<line x1="803.66" y1="50.30" x2="791.01" y2="57.60" stroke="#198c8c" stroke-width="1.70"/>
<line x1="791.01" y1="57.60" x2="778.37" y2="50.30" stroke="#198c8c" stroke-width="1.70"/>
<line x1="778.37" y1="50.30" x2="778.37" y2="35.70" stroke="#198c8c" stroke-width="1.70"/>
<line x1="778.37" y1="35.70" x2="791.01" y2="28.40" stroke="#198c8c" stroke-width="1.70"/>
<line x1="791.01" y1="72.20" x2="803.66" y2="79.50" stroke="#198c8c" stroke-width="1.70"/>
<line x1="803.66" y1="79.50" x2="803.66" y2="94.10" stroke="#198c8c" stroke-width="1.70"/>
<line x1="803.66" y1="94.10" x2="791.01" y2="101.40" stroke="#198c8c" stroke-width="1.70"/>
<line x1="791.01" y1="101.40" x2="778.37" y2="94.10" stroke="#198c8c" stroke-width="1.70"/>
<line x1="778.37" y1="94.10" x2="778.37" y2="79.50" stroke="#198c8c" stroke-width="1.70"/>
<line x1="778.37" y1="79.50" x2="791.01" y2="72.20" stroke="#198c8c" stroke-width="1.70"/>
<line x1="781.84" y1="37.04" x2="790.44" y2="32.08" stroke="#198c8c" stroke-width="1.70"/>
<line x1="800.76" y1="38.04" x2="800.76" y2="47.96" stroke="#198c8c" stroke-width="1.70"/>
<line x1="790.44" y1="53.92" x2="781.84" y2="48.96" stroke="#198c8c" stroke-width="1.70"/>
<line x1="791.59" y1="75.88" x2="800.18" y2="80.84" stroke="#198c8c" stroke-width="1.70"/>
<line x1="800.18" y1="92.76" x2="791.59" y2="97.72" stroke="#198c8c" stroke-width="1.70"/>
<line x1="781.27" y1="91.76" x2="781.27" y2="81.84" stroke="#198c8c" stroke-width="1.70"/>
<line x1="791.01" y1="57.60" x2="791.01" y2="72.20" stroke="#198c8c" stroke-width="1.70"/>
<line x1="803.66" y1="50.30" x2="816.30" y2="57.60" stroke="#111" stroke-width="1.70"/>
<line x1="803.66" y1="79.50" x2="816.30" y2="72.20" stroke="#111" stroke-width="1.70"/>
<line x1="952.90" y1="60.90" x2="961.47" y2="55.95" stroke="#111" stroke-width="1.70"/>
<line x1="968.92" y1="55.95" x2="977.50" y2="60.90" stroke="#111" stroke-width="1.70"/>
<line x1="977.50" y1="60.90" x2="977.50" y2="75.10" stroke="#111" stroke-width="1.70"/>
<line x1="977.50" y1="75.10" x2="968.92" y2="80.05" stroke="#111" stroke-width="1.70"/>
<line x1="961.47" y1="80.05" x2="952.90" y2="75.10" stroke="#111" stroke-width="1.70"/>
<line x1="952.90" y1="75.10" x2="952.90" y2="60.90" stroke="#111" stroke-width="1.70"/>
<line x1="977.50" y1="60.90" x2="986.07" y2="55.95" stroke="#111" stroke-width="1.70"/>
<line x1="993.52" y1="55.95" x2="1002.09" y2="60.90" stroke="#111" stroke-width="1.70"/>
<line x1="1002.09" y1="60.90" x2="1002.09" y2="75.10" stroke="#111" stroke-width="1.70"/>
<line x1="1002.09" y1="75.10" x2="993.52" y2="80.05" stroke="#111" stroke-width="1.70"/>
<line x1="986.07" y1="80.05" x2="977.50" y2="75.10" stroke="#111" stroke-width="1.70"/>
<line x1="956.32" y1="62.28" x2="962.06" y2="58.96" stroke="#111" stroke-width="1.70"/>
<line x1="956.32" y1="73.72" x2="962.06" y2="77.04" stroke="#111" stroke-width="1.70"/>
<line x1="974.60" y1="62.75" x2="974.60" y2="73.25" stroke="#111" stroke-width="1.70"/>
<line x1="992.93" y1="58.96" x2="998.67" y2="62.28" stroke="#111" stroke-width="1.70"/>
<line x1="992.93" y1="77.04" x2="998.67" y2="73.72" stroke="#111" stroke-width="1.70"/>
<text x="965.20" y="58.53" text-anchor="middle" font-size="9.8" fill="#0a0aff" stroke="#0a0aff" stroke-width="0.25">N</text>
<text x="965.20" y="86.03" text-anchor="middle" font-size="9.8" fill="#0a0aff" stroke="#0a0aff" stroke-width="0.25">N</text>
<text x="989.79" y="58.53" text-anchor="middle" font-size="9.8" fill="#0a0aff" stroke="#0a0aff" stroke-width="0.25">N</text>
<text x="989.79" y="86.03" text-anchor="middle" font-size="9.8" fill="#0a0aff" stroke="#0a0aff" stroke-width="0.25">N</text>
<line x1="1002.09" y1="60.90" x2="1010.66" y2="55.95" stroke="#111" stroke-width="1.70"/>
<text x="1010.29" y="57.75" font-size="9.9"><tspan fill="#111" stroke="#111" stroke-width="0.25">C</tspan><tspan fill="#0a0aff" stroke="#0a0aff" stroke-width="0.25">N</tspan></text>
<line x1="1002.09" y1="75.10" x2="1010.66" y2="80.05" stroke="#111" stroke-width="1.70"/>
<text x="1010.29" y="85.55" font-size="9.9"><tspan fill="#111" stroke="#111" stroke-width="0.25">C</tspan><tspan fill="#0a0aff" stroke="#0a0aff" stroke-width="0.25">N</tspan></text>
<line x1="928.30" y1="32.50" x2="940.60" y2="39.60" stroke="#1414ff" stroke-width="1.70"/>
<line x1="940.60" y1="39.60" x2="940.60" y2="53.80" stroke="#1414ff" stroke-width="1.70"/>
<line x1="940.60" y1="53.80" x2="928.30" y2="60.90" stroke="#1414ff" stroke-width="1.70"/>
<line x1="928.30" y1="60.90" x2="919.73" y2="55.95" stroke="#1414ff" stroke-width="1.70"/>
<line x1="916.01" y1="49.50" x2="916.01" y2="39.60" stroke="#1414ff" stroke-width="1.70"/>
<line x1="916.01" y1="39.60" x2="928.30" y2="32.50" stroke="#1414ff" stroke-width="1.70"/>
<line x1="919.42" y1="40.98" x2="927.79" y2="36.15" stroke="#1414ff" stroke-width="1.70"/>
<line x1="937.70" y1="41.87" x2="937.70" y2="51.53" stroke="#1414ff" stroke-width="1.70"/>
<line x1="927.79" y1="57.25" x2="922.05" y2="53.94" stroke="#1414ff" stroke-width="1.70"/>
<line x1="928.30" y1="75.10" x2="940.60" y2="82.20" stroke="#1414ff" stroke-width="1.70"/>
<line x1="940.60" y1="82.20" x2="940.60" y2="96.40" stroke="#1414ff" stroke-width="1.70"/>
<line x1="940.60" y1="96.40" x2="928.30" y2="103.50" stroke="#1414ff" stroke-width="1.70"/>
<line x1="928.30" y1="103.50" x2="916.01" y2="96.40" stroke="#1414ff" stroke-width="1.70"/>
<line x1="916.01" y1="96.40" x2="916.01" y2="86.50" stroke="#1414ff" stroke-width="1.70"/>
<line x1="919.73" y1="80.05" x2="928.30" y2="75.10" stroke="#1414ff" stroke-width="1.70"/>
<line x1="928.82" y1="78.75" x2="937.18" y2="83.58" stroke="#1414ff" stroke-width="1.70"/>
<line x1="937.18" y1="95.02" x2="928.82" y2="99.85" stroke="#1414ff" stroke-width="1.70"/>
<line x1="918.91" y1="94.13" x2="918.91" y2="87.50" stroke="#1414ff" stroke-width="1.70"/>
<text x="916.01" y="57.73" text-anchor="middle" font-size="9.8" fill="#1414ff" stroke="#1414ff" stroke-width="0.25">N</text>
<text x="916.01" y="86.13" text-anchor="middle" font-size="9.8" fill="#1414ff" stroke="#1414ff" stroke-width="0.25">N</text>
<line x1="928.30" y1="60.90" x2="928.30" y2="75.10" stroke="#1414ff" stroke-width="1.70"/>
<line x1="940.60" y1="53.80" x2="952.90" y2="60.90" stroke="#111" stroke-width="1.70"/>
<line x1="940.60" y1="82.20" x2="952.90" y2="75.10" stroke="#111" stroke-width="1.70"/>
</g>
<defs>
<radialGradient id="gr" cx="0.5" cy="0.5" r="0.62" fx="0.36" fy="0.30">
<stop offset="0" stop-color="#f27878"/><stop offset="0.14" stop-color="#cc1010"/><stop offset="0.5" stop-color="#ac0000"/><stop offset="1" stop-color="#560000"/></radialGradient>
<radialGradient id="gb" cx="0.5" cy="0.5" r="0.62" fx="0.36" fy="0.30">
<stop offset="0" stop-color="#7474ec"/><stop offset="0.14" stop-color="#1414ae"/><stop offset="0.5" stop-color="#000088"/><stop offset="1" stop-color="#00003e"/></radialGradient>
<filter id="bl" x="-10%" y="-10%" width="120%" height="120%"><feGaussianBlur stdDeviation="5"/></filter>
</defs>
<g transform="translate(90.00,115.00) scale(0.11719)" filter="url(#bl)" stroke-linecap="round"><line x1="235" y1="125" x2="235" y2="155" stroke="#6e6e6e" stroke-width="14"/><line x1="235" y1="480" x2="235" y2="515" stroke="#6e6e6e" stroke-width="14"/><line x1="65" y1="225" x2="95" y2="242" stroke="#6e6e6e" stroke-width="14"/><line x1="65" y1="420" x2="95" y2="403" stroke="#6e6e6e" stroke-width="14"/><line x1="180" y1="235" x2="212" y2="252" stroke="#6e6e6e" stroke-width="14"/><line x1="180" y1="400" x2="208" y2="385" stroke="#6e6e6e" stroke-width="14"/><line x1="505" y1="262" x2="505" y2="385" stroke="#6e6e6e" stroke-width="14"/><line x1="770" y1="210" x2="818" y2="185" stroke="#6e6e6e" stroke-width="14"/><line x1="770" y1="425" x2="818" y2="455" stroke="#6e6e6e" stroke-width="14"/><path d="M187.0 315.0C187.0 349.4 188.1 339.5 183.5 366.5C178.8 393.6 182.3 380.4 173.0 396.2C163.6 412.1 171.4 406.1 155.4 414.0C139.4 421.9 145.3 420.0 125.0 420.0C104.7 420.0 110.6 421.9 94.6 414.0C78.6 406.1 86.4 412.1 77.0 396.2C67.7 380.4 71.2 393.6 66.5 366.5C61.9 339.5 63.0 349.4 63.0 315.0C63.0 280.6 61.9 290.5 66.5 263.5C71.2 236.4 67.7 249.6 77.0 233.8C86.4 217.9 78.6 223.9 94.6 216.0C110.6 208.1 104.7 210.0 125.0 210.0C145.3 210.0 139.4 208.1 155.4 216.0C171.4 223.9 163.6 217.9 173.0 233.8C182.3 249.6 178.8 236.4 183.5 263.5C188.1 290.5 187.0 280.6 187.0 315.0Z" fill="url(#gr)"/><path d="M238.8 148.0C265.0 152.0 255.7 147.4 286.0 170.0C316.3 192.6 305.2 184.2 329.8 215.8C354.2 247.4 346.1 231.1 359.5 265.0C372.9 298.9 370.0 282.5 370.0 317.5C370.0 352.5 372.9 336.1 359.5 370.0C346.1 403.9 354.2 387.6 329.8 419.2C305.2 450.8 316.3 442.4 286.0 465.0C255.7 487.6 265.0 483.6 238.8 487.0C212.5 490.4 221.8 489.3 207.2 475.1C192.7 461.0 195.0 467.8 195.0 444.6C195.0 421.5 191.8 432.2 207.2 405.6C222.7 379.1 222.7 394.3 241.4 365.0C260.1 335.6 263.2 349.1 263.2 317.5C263.2 285.9 260.1 299.4 241.4 270.0C222.7 240.7 222.7 256.5 207.2 229.4C191.8 202.2 195.0 212.4 195.0 188.7C195.0 164.9 192.7 171.7 207.2 158.2C221.8 144.6 212.5 144.0 238.8 148.0Z" fill="url(#gb)"/><path d="M392.1 252.5C371.7 238.4 380.0 249.7 367.6 234.3C355.1 219.0 358.3 225.9 354.9 206.5C351.5 187.1 350.9 194.7 357.4 176.0C363.8 157.4 359.6 163.7 374.3 150.6C389.0 137.4 382.2 140.9 401.5 136.5C420.7 132.1 413.1 131.9 432.0 137.4C451.0 142.9 444.4 139.0 458.3 153.1C472.2 167.1 461.9 157.7 473.7 179.5C485.5 201.3 487.6 184.4 493.6 218.5C499.7 252.7 513.6 262.6 492.0 282.0C470.4 301.4 462.0 286.5 428.8 276.7C395.5 266.8 412.5 266.7 392.1 252.5Z" fill="url(#gr)"/><path d="M473.5 461.2C461.7 482.7 471.9 473.6 457.8 487.4C443.8 501.3 450.4 497.5 431.4 502.8C412.3 508.1 420.0 507.9 400.8 503.3C381.6 498.7 388.3 502.3 373.8 489.0C359.2 475.6 363.4 482.0 357.1 463.3C350.9 444.6 351.4 452.2 355.0 432.8C358.7 413.4 355.4 420.3 368.0 405.1C380.6 389.9 372.4 400.8 392.8 387.2C413.1 373.5 396.0 373.2 429.1 364.2C462.2 355.1 470.6 340.4 492.0 360.0C513.4 379.6 499.5 389.3 493.3 423.0C487.1 456.8 485.4 439.7 473.5 461.2Z" fill="url(#gr)"/><path d="M531.0 179.9C542.3 157.2 532.3 166.6 546.8 151.3C561.2 136.1 554.3 140.4 574.4 134.0C594.4 127.7 586.3 128.1 606.9 132.3C627.5 136.5 620.2 132.9 636.2 146.6C652.2 160.2 647.5 153.6 654.9 173.3C662.2 193.0 661.4 184.9 658.3 205.7C655.1 226.5 658.3 219.0 645.5 235.7C632.7 252.3 640.4 241.0 619.8 255.7C599.2 270.3 617.6 269.8 583.7 279.5C549.8 289.3 541.5 305.1 518.0 285.0C494.5 264.9 508.8 254.3 513.1 219.3C517.5 184.2 519.8 202.5 531.0 179.9Z" fill="url(#gb)"/><path d="M619.5 386.2C640.0 400.6 632.4 389.5 645.3 406.1C658.2 422.7 655.0 415.2 658.2 436.0C661.5 456.7 662.3 448.7 655.0 468.4C647.8 488.1 652.4 481.4 636.5 495.2C620.6 508.9 627.9 505.3 607.3 509.6C586.7 513.9 594.8 514.3 574.7 508.1C554.6 501.8 561.6 506.1 547.0 490.9C532.5 475.7 542.4 484.9 531.1 462.5C519.9 440.0 517.7 458.4 513.3 423.5C508.9 388.7 494.6 378.2 518.0 358.0C541.4 337.8 549.7 353.5 583.5 362.9C617.3 372.3 598.9 371.8 619.5 386.2Z" fill="url(#gb)"/><path d="M730.7 195.0C696.8 199.1 702.0 192.5 669.1 217.2C636.3 241.9 646.5 235.3 632.2 269.1C617.8 302.9 625.0 283.9 626.0 318.5C627.0 353.1 618.8 337.4 635.2 372.8C651.7 408.2 642.4 401.7 675.3 424.7C708.1 447.8 702.0 439.5 733.8 442.0C765.6 444.5 755.4 446.1 770.8 432.1C786.2 418.1 782.1 437.9 780.0 400.0C777.9 362.1 764.6 372.8 764.6 318.5C764.6 264.2 777.9 274.9 780.0 237.0C782.1 199.1 787.2 218.9 770.8 204.9C754.3 190.9 764.6 190.9 730.7 195.0Z" fill="url(#gr)"/><path d="M907.0 162.0C907.0 179.3 908.7 173.0 900.0 188.0C891.4 203.0 896.0 198.4 881.0 207.0C866.0 215.7 872.3 214.0 855.0 214.0C837.7 214.0 844.0 215.7 829.0 207.0C814.0 198.4 818.6 203.0 810.0 188.0C801.3 173.0 803.0 179.3 803.0 162.0C803.0 144.7 801.3 151.0 810.0 136.0C818.6 121.0 814.0 125.6 829.0 117.0C844.0 108.3 837.7 110.0 855.0 110.0C872.3 110.0 866.0 108.3 881.0 117.0C896.0 125.6 891.4 121.0 900.0 136.0C908.7 151.0 907.0 144.7 907.0 162.0Z" fill="url(#gb)"/><path d="M907.0 478.0C907.0 495.3 908.7 489.0 900.0 504.0C891.4 519.0 896.0 514.4 881.0 523.0C866.0 531.7 872.3 530.0 855.0 530.0C837.7 530.0 844.0 531.7 829.0 523.0C814.0 514.4 818.6 519.0 810.0 504.0C801.3 489.0 803.0 495.3 803.0 478.0C803.0 460.7 801.3 467.0 810.0 452.0C818.6 437.0 814.0 441.6 829.0 433.0C844.0 424.3 837.7 426.0 855.0 426.0C872.3 426.0 866.0 424.3 881.0 433.0C896.0 441.6 891.4 437.0 900.0 452.0C908.7 467.0 907.0 460.7 907.0 478.0Z" fill="url(#gb)"/></g>
<g transform="translate(225.00,115.00) scale(0.11719)" filter="url(#bl)" stroke-linecap="round"><line x1="140" y1="128" x2="130" y2="200" stroke="#6e6e6e" stroke-width="14"/><line x1="130" y1="200" x2="170" y2="225" stroke="#6e6e6e" stroke-width="14"/><line x1="130" y1="200" x2="95" y2="212" stroke="#6e6e6e" stroke-width="14"/><line x1="130" y1="405" x2="137" y2="487" stroke="#6e6e6e" stroke-width="14"/><line x1="130" y1="405" x2="170" y2="385" stroke="#6e6e6e" stroke-width="14"/><line x1="130" y1="405" x2="95" y2="395" stroke="#6e6e6e" stroke-width="14"/><line x1="308" y1="135" x2="308" y2="165" stroke="#6e6e6e" stroke-width="14"/><line x1="305" y1="450" x2="305" y2="485" stroke="#6e6e6e" stroke-width="14"/><line x1="545" y1="262" x2="545" y2="370" stroke="#6e6e6e" stroke-width="14"/><line x1="800" y1="215" x2="835" y2="195" stroke="#6e6e6e" stroke-width="14"/><line x1="800" y1="415" x2="835" y2="440" stroke="#6e6e6e" stroke-width="14"/><line x1="250" y1="235" x2="280" y2="245" stroke="#6e6e6e" stroke-width="14"/><line x1="250" y1="380" x2="280" y2="370" stroke="#6e6e6e" stroke-width="14"/><path d="M107.0 215.0C107.0 222.3 107.7 219.6 104.1 226.0C100.4 232.4 102.4 230.4 96.0 234.1C89.6 237.7 92.3 237.0 85.0 237.0C77.7 237.0 80.4 237.7 74.0 234.1C67.6 230.4 69.6 232.4 65.9 226.0C62.3 219.6 63.0 222.3 63.0 215.0C63.0 207.7 62.3 210.4 65.9 204.0C69.6 197.6 67.6 199.6 74.0 195.9C80.4 192.3 77.7 193.0 85.0 193.0C92.3 193.0 89.6 192.3 96.0 195.9C102.4 199.6 100.4 197.6 104.1 204.0C107.7 210.4 107.0 207.7 107.0 215.0Z" fill="url(#gb)"/><path d="M107.0 395.0C107.0 402.3 107.7 399.6 104.1 406.0C100.4 412.4 102.4 410.4 96.0 414.1C89.6 417.7 92.3 417.0 85.0 417.0C77.7 417.0 80.4 417.7 74.0 414.1C67.6 410.4 69.6 412.4 65.9 406.0C62.3 399.6 63.0 402.3 63.0 395.0C63.0 387.7 62.3 390.4 65.9 384.0C69.6 377.6 67.6 379.6 74.0 375.9C80.4 372.3 77.7 373.0 85.0 373.0C92.3 373.0 89.6 372.3 96.0 375.9C102.4 379.6 100.4 377.6 104.1 384.0C107.7 390.4 107.0 387.7 107.0 395.0Z" fill="url(#gb)"/><path d="M260.0 305.0C260.0 336.4 261.0 327.4 257.0 352.1C253.0 376.9 256.0 364.8 248.0 379.3C240.0 393.7 246.7 388.3 233.0 395.5C219.4 402.8 224.3 401.0 207.0 401.0C189.7 401.0 194.6 402.8 181.0 395.5C167.3 388.3 174.0 393.7 166.0 379.3C158.0 364.8 161.0 376.9 157.0 352.1C153.0 327.4 154.0 336.4 154.0 305.0C154.0 273.6 153.0 282.6 157.0 257.9C161.0 233.1 158.0 245.2 166.0 230.7C174.0 216.3 167.3 221.7 181.0 214.5C194.6 207.2 189.7 209.0 207.0 209.0C224.3 209.0 219.4 207.2 233.0 214.5C246.7 221.7 240.0 216.3 248.0 230.7C256.0 245.2 253.0 233.1 257.0 257.9C261.0 282.6 260.0 273.6 260.0 305.0Z" fill="url(#gr)"/><path d="M312.0 162.0C336.0 165.4 327.5 161.5 355.2 180.8C382.9 200.2 372.8 192.9 395.2 220.0C417.6 247.1 410.1 233.1 422.4 262.1C434.7 291.1 432.0 277.0 432.0 307.0C432.0 337.0 434.7 323.0 422.4 352.0C410.1 381.0 417.6 366.9 395.2 394.0C372.8 421.1 382.9 413.8 355.2 433.2C327.5 452.5 336.0 449.1 312.0 452.0C288.0 454.9 296.5 453.9 283.2 441.8C269.9 429.8 272.0 435.6 272.0 415.8C272.0 395.9 269.1 405.1 283.2 382.4C297.3 359.7 297.4 372.7 314.4 347.6C331.5 322.5 334.4 334.1 334.4 307.0C334.4 279.9 331.5 291.5 314.4 266.4C297.4 241.3 297.3 254.8 283.2 231.6C269.1 208.4 272.0 217.1 272.0 196.8C272.0 176.5 269.9 182.3 283.2 170.7C296.5 159.1 288.0 158.6 312.0 162.0Z" fill="url(#gb)"/><path d="M450.0 254.9C431.6 242.4 438.8 252.3 427.5 238.2C416.1 224.1 419.0 230.5 415.8 212.7C412.7 194.8 412.2 201.8 418.1 184.7C424.0 167.6 420.1 173.4 433.6 161.3C447.1 149.2 440.9 152.4 458.6 148.4C476.2 144.4 469.2 144.2 486.6 149.2C504.0 154.3 498.0 150.7 510.8 163.6C523.5 176.4 514.4 168.2 524.9 187.8C535.4 207.5 537.1 191.8 542.2 222.5C547.2 253.2 559.9 262.2 540.0 280.0C520.1 297.8 512.6 284.2 482.6 275.9C452.6 267.5 468.4 267.5 450.0 254.9Z" fill="url(#gr)"/><path d="M522.6 434.3C511.6 453.8 521.0 445.7 507.9 458.3C494.9 470.8 501.0 467.4 483.5 472.1C466.0 476.8 473.0 476.7 455.4 472.3C437.9 467.9 444.0 471.3 430.8 458.9C417.5 446.6 421.3 452.5 415.7 435.2C410.1 418.0 410.6 425.0 414.1 407.2C417.5 389.4 414.5 395.7 426.2 381.9C437.9 368.0 430.4 377.9 449.1 365.7C467.8 353.4 452.1 353.0 482.4 345.1C512.7 337.2 520.5 323.8 540.0 342.0C559.5 360.2 546.6 368.9 540.8 399.7C535.0 430.5 533.5 414.8 522.6 434.3Z" fill="url(#gr)"/><path d="M576.3 186.6C586.9 166.7 577.9 174.6 591.4 161.2C604.9 147.7 598.6 151.4 616.9 146.2C635.3 141.0 627.9 141.2 646.5 145.6C665.1 149.9 658.6 146.5 672.7 159.3C686.8 172.2 682.8 166.0 688.9 184.1C695.0 202.2 694.5 194.8 691.0 213.6C687.6 232.4 690.7 225.7 678.6 240.4C666.5 255.2 673.5 245.5 654.7 257.9C635.9 270.2 652.7 270.2 622.2 277.5C591.6 284.9 583.8 298.9 563.0 280.0C542.2 261.1 555.4 252.0 559.8 220.9C564.3 189.7 565.8 206.5 576.3 186.6Z" fill="url(#gb)"/><path d="M653.9 368.6C672.3 381.3 665.6 371.5 677.4 386.5C689.2 401.5 686.2 394.8 689.2 413.6C692.3 432.5 693.0 425.1 686.5 443.1C680.0 461.0 684.2 454.9 669.8 467.5C655.4 480.0 662.0 476.7 643.3 480.7C624.6 484.7 632.0 485.0 613.8 479.4C595.5 473.9 601.8 477.7 588.5 464.0C575.3 450.2 584.0 458.3 574.0 438.2C564.0 418.2 562.1 435.0 558.4 403.9C554.8 372.8 541.8 363.5 563.0 345.0C584.2 326.5 591.7 340.6 622.0 348.5C652.2 356.4 635.4 355.9 653.9 368.6Z" fill="url(#gb)"/><path d="M759.9 203.0C728.2 206.7 733.0 200.8 702.3 222.7C671.6 244.6 681.2 238.8 667.8 268.7C654.3 298.6 661.0 281.8 662.0 312.5C663.0 343.2 655.3 329.3 670.6 360.7C686.0 392.1 677.4 386.2 708.1 406.7C738.8 427.1 733.0 419.8 762.8 422.0C792.6 424.2 783.0 425.7 797.4 413.2C811.8 400.8 807.9 418.3 806.0 384.8C804.1 351.2 791.6 360.7 791.6 312.5C791.6 264.3 804.1 273.8 806.0 240.2C807.9 206.7 812.7 224.2 797.4 211.8C782.0 199.3 791.6 199.3 759.9 203.0Z" fill="url(#gr)"/><path d="M920.0 175.0C920.0 191.0 921.6 185.1 913.6 199.0C905.6 212.9 909.9 208.6 896.0 216.6C882.1 224.6 888.0 223.0 872.0 223.0C856.0 223.0 861.9 224.6 848.0 216.6C834.1 208.6 838.4 212.9 830.4 199.0C822.4 185.1 824.0 191.0 824.0 175.0C824.0 159.0 822.4 164.9 830.4 151.0C838.4 137.1 834.1 141.4 848.0 133.4C861.9 125.4 856.0 127.0 872.0 127.0C888.0 127.0 882.1 125.4 896.0 133.4C909.9 141.4 905.6 137.1 913.6 151.0C921.6 164.9 920.0 159.0 920.0 175.0Z" fill="url(#gb)"/><path d="M916.0 460.0C916.0 476.0 917.6 470.1 909.6 484.0C901.6 497.9 905.9 493.6 892.0 501.6C878.1 509.6 884.0 508.0 868.0 508.0C852.0 508.0 857.9 509.6 844.0 501.6C830.1 493.6 834.4 497.9 826.4 484.0C818.4 470.1 820.0 476.0 820.0 460.0C820.0 444.0 818.4 449.9 826.4 436.0C834.4 422.1 830.1 426.4 844.0 418.4C857.9 410.4 852.0 412.0 868.0 412.0C884.0 412.0 878.1 410.4 892.0 418.4C905.9 426.4 901.6 422.1 909.6 436.0C917.6 449.9 916.0 444.0 916.0 460.0Z" fill="url(#gb)"/></g>
<g transform="translate(355.00,118.00) scale(0.12552)" filter="url(#bl)" stroke-linecap="round"><path d="M150 105 L235 105 L280 185 L240 258 L135 255 L100 180Z" fill="none" stroke="#6e6e6e" stroke-width="14" stroke-linejoin="round"/><path d="M135 255 L100 340 L150 415 L240 415 L282 335 L240 258" fill="none" stroke="#6e6e6e" stroke-width="14" stroke-linejoin="round"/><path d="M150 415 L112 495 L150 565 L240 565 L285 490 L240 415" fill="none" stroke="#6e6e6e" stroke-width="14" stroke-linejoin="round"/><line x1="120" y1="45" x2="150" y2="105" stroke="#6e6e6e" stroke-width="14"/><line x1="272" y1="48" x2="235" y2="105" stroke="#6e6e6e" stroke-width="14"/><line x1="30" y1="180" x2="100" y2="180" stroke="#6e6e6e" stroke-width="14"/><line x1="285" y1="490" x2="355" y2="490" stroke="#6e6e6e" stroke-width="14"/><line x1="40" y1="495" x2="112" y2="495" stroke="#6e6e6e" stroke-width="14"/><line x1="150" y1="565" x2="125" y2="630" stroke="#6e6e6e" stroke-width="14"/><line x1="240" y1="565" x2="275" y2="625" stroke="#6e6e6e" stroke-width="14"/><line x1="30" y1="345" x2="60" y2="345" stroke="#6e6e6e" stroke-width="14"/><line x1="730" y1="150" x2="760" y2="135" stroke="#6e6e6e" stroke-width="14"/><line x1="725" y1="345" x2="760" y2="362" stroke="#6e6e6e" stroke-width="14"/><line x1="505" y1="215" x2="520" y2="300" stroke="#6e6e6e" stroke-width="14"/><path d="M250.0 108.0C250.0 113.0 250.5 111.2 248.0 115.5C245.5 119.8 246.8 118.5 242.5 121.0C238.2 123.5 240.0 123.0 235.0 123.0C230.0 123.0 231.8 123.5 227.5 121.0C223.2 118.5 224.5 119.8 222.0 115.5C219.5 111.2 220.0 113.0 220.0 108.0C220.0 103.0 219.5 104.8 222.0 100.5C224.5 96.2 223.2 97.5 227.5 95.0C231.8 92.5 230.0 93.0 235.0 93.0C240.0 93.0 238.2 92.5 242.5 95.0C246.8 97.5 245.5 96.2 248.0 100.5C250.5 104.8 250.0 103.0 250.0 108.0Z" fill="url(#gb)"/><path d="M112.0 175.0C112.0 180.7 112.6 178.6 109.7 183.5C106.9 188.4 108.4 186.9 103.5 189.7C98.6 192.6 100.7 192.0 95.0 192.0C89.3 192.0 91.4 192.6 86.5 189.7C81.6 186.9 83.1 188.4 80.3 183.5C77.4 178.6 78.0 180.7 78.0 175.0C78.0 169.3 77.4 171.4 80.3 166.5C83.1 161.6 81.6 163.1 86.5 160.3C91.4 157.4 89.3 158.0 95.0 158.0C100.7 158.0 98.6 157.4 103.5 160.3C108.4 163.1 106.9 161.6 109.7 166.5C112.6 171.4 112.0 169.3 112.0 175.0Z" fill="url(#gr)"/><path d="M193.0 210.1C211.2 199.8 201.4 204.2 217.5 205.1C233.7 205.9 227.7 204.0 241.4 212.6C255.2 221.1 250.9 216.6 258.7 230.7C266.6 244.9 265.0 238.8 265.0 255.0C265.0 271.2 266.6 265.1 258.7 279.3C250.9 293.4 255.2 288.9 241.4 297.4C227.7 306.0 233.7 304.1 217.5 304.9C201.4 305.8 211.2 310.2 193.0 299.9C174.7 289.5 184.5 288.9 162.8 273.9C141.1 258.9 128.0 267.6 128.0 255.0C128.0 242.4 141.1 251.1 162.8 236.1C184.5 221.1 174.7 220.5 193.0 210.1Z" fill="url(#gb)"/><path d="M143.0 345.0C143.0 361.0 144.6 355.1 136.6 369.0C128.6 382.9 132.9 378.6 119.0 386.6C105.1 394.6 111.0 393.0 95.0 393.0C79.0 393.0 84.9 394.6 71.0 386.6C57.1 378.6 61.4 382.9 53.4 369.0C45.4 355.1 47.0 361.0 47.0 345.0C47.0 329.0 45.4 334.9 53.4 321.0C61.4 307.1 57.1 311.4 71.0 303.4C84.9 295.4 79.0 297.0 95.0 297.0C111.0 297.0 105.1 295.4 119.0 303.4C132.9 311.4 128.6 307.1 136.6 321.0C144.6 334.9 143.0 329.0 143.0 345.0Z" fill="url(#gr)"/><path d="M267.0 410.0C267.0 420.0 268.0 416.3 262.7 425.0C257.4 433.7 260.2 431.0 251.0 436.0C241.8 441.0 245.7 440.0 235.0 440.0C224.3 440.0 228.2 441.0 219.0 436.0C209.8 431.0 212.6 433.7 207.3 425.0C202.0 416.3 203.0 420.0 203.0 410.0C203.0 400.0 202.0 403.7 207.3 395.0C212.6 386.3 209.8 389.0 219.0 384.0C228.2 379.0 224.3 380.0 235.0 380.0C245.7 380.0 241.8 379.0 251.0 384.0C260.2 389.0 257.4 386.3 262.7 395.0C268.0 403.7 267.0 400.0 267.0 410.0Z" fill="url(#gb)"/><path d="M125.0 495.0C125.0 501.7 125.7 499.2 122.3 505.0C119.0 510.8 120.8 509.0 115.0 512.3C109.2 515.7 111.7 515.0 105.0 515.0C98.3 515.0 100.8 515.7 95.0 512.3C89.2 509.0 91.0 510.8 87.7 505.0C84.3 499.2 85.0 501.7 85.0 495.0C85.0 488.3 84.3 490.8 87.7 485.0C91.0 479.2 89.2 481.0 95.0 477.7C100.8 474.3 98.3 475.0 105.0 475.0C111.7 475.0 109.2 474.3 115.0 477.7C120.8 481.0 119.0 479.2 122.3 485.0C125.7 490.8 125.0 488.3 125.0 495.0Z" fill="url(#gb)"/><path d="M269.0 563.0C269.0 572.7 269.9 569.1 265.1 577.5C260.3 585.9 262.9 583.3 254.5 588.1C246.1 592.9 249.7 592.0 240.0 592.0C230.3 592.0 233.9 592.9 225.5 588.1C217.1 583.3 219.7 585.9 214.9 577.5C210.1 569.1 211.0 572.7 211.0 563.0C211.0 553.3 210.1 556.9 214.9 548.5C219.7 540.1 217.1 542.7 225.5 537.9C233.9 533.1 230.3 534.0 240.0 534.0C249.7 534.0 246.1 533.1 254.5 537.9C262.9 542.7 260.3 540.1 265.1 548.5C269.9 556.9 269.0 553.3 269.0 563.0Z" fill="url(#gr)"/><path d="M325.0 160.0C352.5 163.2 348.3 158.1 375.0 177.6C401.7 197.1 393.3 191.8 405.0 218.5C416.7 245.2 410.8 230.2 410.0 257.5C409.2 284.8 415.8 272.4 402.5 300.4C389.2 328.3 396.7 323.2 370.0 341.4C343.3 359.6 348.3 353.1 322.5 355.0C296.7 356.9 305.0 358.2 292.5 347.2C280.0 336.1 285.4 351.8 285.0 321.9C284.6 292.0 291.2 300.4 291.2 257.5C291.2 214.6 284.6 223.1 285.0 193.2C285.4 163.2 279.2 178.9 292.5 167.8C305.8 156.8 297.5 156.8 325.0 160.0Z" fill="url(#gr)"/><path d="M409.5 203.5C388.8 179.6 399.8 199.1 392.0 184.2C384.1 169.3 385.6 175.6 386.0 158.8C386.4 142.0 384.6 148.3 393.1 133.7C401.6 119.2 397.0 123.8 411.5 115.3C426.0 106.7 419.7 108.5 436.5 108.0C453.4 107.5 447.0 106.1 462.0 113.8C476.9 121.6 472.0 117.2 481.3 131.3C490.6 145.3 478.9 126.3 489.8 155.9C500.8 185.6 505.9 175.5 514.3 220.2C522.7 264.9 535.0 278.1 515.0 290.0C495.0 301.9 489.3 284.6 454.1 255.8C419.0 227.0 430.2 227.4 409.5 203.5Z" fill="url(#gb)"/><path d="M489.8 354.1C478.9 383.7 490.6 364.7 481.3 378.7C472.0 392.8 476.9 388.4 462.0 396.2C447.0 403.9 453.4 402.5 436.5 402.0C419.7 401.5 426.0 403.3 411.5 394.7C397.0 386.2 401.6 390.8 393.1 376.3C384.6 361.7 386.4 368.0 386.0 351.2C385.6 334.4 384.1 340.7 392.0 325.8C399.8 310.9 388.8 330.4 409.5 306.5C430.2 282.6 419.0 283.0 454.1 254.2C489.3 225.4 495.0 208.1 515.0 220.0C535.0 231.9 522.7 245.1 514.3 289.8C505.9 334.5 500.8 324.4 489.8 354.1Z" fill="url(#gb)"/><path d="M621.0 155.0C621.0 175.0 622.7 167.7 613.9 185.0C605.1 202.3 609.8 197.0 594.5 207.0C579.2 217.0 585.7 215.0 568.0 215.0C550.3 215.0 556.8 217.0 541.5 207.0C526.2 197.0 530.9 202.3 522.1 185.0C513.3 167.7 515.0 175.0 515.0 155.0C515.0 135.0 513.3 142.3 522.1 125.0C530.9 107.7 526.2 113.0 541.5 103.0C556.8 93.0 550.3 95.0 568.0 95.0C585.7 95.0 579.2 93.0 594.5 103.0C609.8 113.0 605.1 107.7 613.9 125.0C622.7 142.3 621.0 135.0 621.0 155.0Z" fill="url(#gr)"/><path d="M623.0 350.0C623.0 370.7 624.7 363.1 615.9 381.0C607.1 398.9 611.8 393.4 596.5 403.7C581.2 414.0 587.7 412.0 570.0 412.0C552.3 412.0 558.8 414.0 543.5 403.7C528.2 393.4 532.9 398.9 524.1 381.0C515.3 363.1 517.0 370.7 517.0 350.0C517.0 329.3 515.3 336.9 524.1 319.0C532.9 301.1 528.2 306.6 543.5 296.3C558.8 286.0 552.3 288.0 570.0 288.0C587.7 288.0 581.2 286.0 596.5 296.3C611.8 306.6 607.1 301.1 615.9 319.0C624.7 336.9 623.0 329.3 623.0 350.0Z" fill="url(#gr)"/><path d="M686.4 150.0C657.8 153.3 662.1 148.0 634.4 168.0C606.7 188.0 615.3 182.7 603.2 210.0C591.1 237.3 597.1 222.0 598.0 250.0C598.9 278.0 591.9 265.3 605.8 294.0C619.7 322.7 611.9 317.3 639.6 336.0C667.3 354.7 662.1 348.0 689.0 350.0C715.9 352.0 707.2 353.3 720.2 342.0C733.2 330.7 729.7 346.7 728.0 316.0C726.3 285.3 715.0 294.0 715.0 250.0C715.0 206.0 726.3 214.7 728.0 184.0C729.7 153.3 734.1 169.3 720.2 158.0C706.3 146.7 715.0 146.7 686.4 150.0Z" fill="url(#gb)"/><path d="M823.0 120.0C823.0 133.7 824.3 128.7 817.5 140.5C810.7 152.3 814.3 148.7 802.5 155.5C790.7 162.3 795.7 161.0 782.0 161.0C768.3 161.0 773.3 162.3 761.5 155.5C749.7 148.7 753.3 152.3 746.5 140.5C739.7 128.7 741.0 133.7 741.0 120.0C741.0 106.3 739.7 111.3 746.5 99.5C753.3 87.7 749.7 91.3 761.5 84.5C773.3 77.7 768.3 79.0 782.0 79.0C795.7 79.0 790.7 77.7 802.5 84.5C814.3 91.3 810.7 87.7 817.5 99.5C824.3 111.3 823.0 106.3 823.0 120.0Z" fill="url(#gr)"/><path d="M826.0 378.0C826.0 391.7 827.3 386.7 820.5 398.5C813.7 410.3 817.3 406.7 805.5 413.5C793.7 420.3 798.7 419.0 785.0 419.0C771.3 419.0 776.3 420.3 764.5 413.5C752.7 406.7 756.3 410.3 749.5 398.5C742.7 386.7 744.0 391.7 744.0 378.0C744.0 364.3 742.7 369.3 749.5 357.5C756.3 345.7 752.7 349.3 764.5 342.5C776.3 335.7 771.3 337.0 785.0 337.0C798.7 337.0 793.7 335.7 805.5 342.5C817.3 349.3 813.7 345.7 820.5 357.5C827.3 369.3 826.0 364.3 826.0 378.0Z" fill="url(#gr)"/></g>
<g transform="translate(490.00,118.00) scale(0.12552)" filter="url(#bl)" stroke-linecap="round"><path d="M160 145 L265 150 L315 235 L285 320 L155 320 L115 225Z" fill="none" stroke="#6e6e6e" stroke-width="14" stroke-linejoin="round"/><path d="M155 320 L115 420 L160 485 L270 490 L315 400 L285 320" fill="none" stroke="#6e6e6e" stroke-width="14" stroke-linejoin="round"/><line x1="125" y1="80" x2="160" y2="145" stroke="#6e6e6e" stroke-width="14"/><line x1="300" y1="80" x2="265" y2="150" stroke="#6e6e6e" stroke-width="14"/><line x1="40" y1="228" x2="115" y2="225" stroke="#6e6e6e" stroke-width="14"/><line x1="40" y1="415" x2="115" y2="420" stroke="#6e6e6e" stroke-width="14"/><line x1="160" y1="485" x2="135" y2="560" stroke="#6e6e6e" stroke-width="14"/><line x1="270" y1="490" x2="310" y2="550" stroke="#6e6e6e" stroke-width="14"/><line x1="810" y1="210" x2="845" y2="190" stroke="#6e6e6e" stroke-width="14"/><line x1="815" y1="410" x2="850" y2="430" stroke="#6e6e6e" stroke-width="14"/><line x1="570" y1="270" x2="575" y2="370" stroke="#6e6e6e" stroke-width="14"/><path d="M304.0 150.0C304.0 162.0 305.2 157.6 299.2 168.0C293.2 178.4 296.4 175.2 286.0 181.2C275.6 187.2 280.0 186.0 268.0 186.0C256.0 186.0 260.4 187.2 250.0 181.2C239.6 175.2 242.8 178.4 236.8 168.0C230.8 157.6 232.0 162.0 232.0 150.0C232.0 138.0 230.8 142.4 236.8 132.0C242.8 121.6 239.6 124.8 250.0 118.8C260.4 112.8 256.0 114.0 268.0 114.0C280.0 114.0 275.6 112.8 286.0 118.8C296.4 124.8 293.2 121.6 299.2 132.0C305.2 142.4 304.0 138.0 304.0 150.0Z" fill="url(#gb)"/><path d="M151.0 225.0C151.0 238.0 152.3 233.2 145.8 244.5C139.3 255.8 142.8 252.3 131.5 258.8C120.2 265.3 125.0 264.0 112.0 264.0C99.0 264.0 103.8 265.3 92.5 258.8C81.2 252.3 84.7 255.8 78.2 244.5C71.7 233.2 73.0 238.0 73.0 225.0C73.0 212.0 71.7 216.8 78.2 205.5C84.7 194.2 81.2 197.7 92.5 191.2C103.8 184.7 99.0 186.0 112.0 186.0C125.0 186.0 120.2 184.7 131.5 191.2C142.8 197.7 139.3 194.2 145.8 205.5C152.3 216.8 151.0 212.0 151.0 225.0Z" fill="url(#gr)"/><path d="M220.3 269.7C239.9 258.1 229.7 263.2 247.8 264.1C265.9 265.0 259.2 262.9 274.6 272.5C290.0 282.1 285.2 277.0 294.0 292.8C302.8 308.7 301.0 301.9 301.0 320.0C301.0 338.1 302.8 331.3 294.0 347.2C285.2 363.0 290.0 357.9 274.6 367.5C259.2 377.1 265.9 375.0 247.8 375.9C229.7 376.8 239.9 381.9 220.3 370.3C200.8 358.7 212.0 357.9 189.2 341.2C166.4 324.4 152.0 334.1 152.0 320.0C152.0 305.9 166.4 315.6 189.2 298.8C212.0 282.1 200.8 281.3 220.3 269.7Z" fill="url(#gb)"/><path d="M154.0 420.0C154.0 433.0 155.3 428.2 148.8 439.5C142.3 450.8 145.8 447.3 134.5 453.8C123.2 460.3 128.0 459.0 115.0 459.0C102.0 459.0 106.8 460.3 95.5 453.8C84.2 447.3 87.7 450.8 81.2 439.5C74.7 428.2 76.0 433.0 76.0 420.0C76.0 407.0 74.7 411.8 81.2 400.5C87.7 389.2 84.2 392.7 95.5 386.2C106.8 379.7 102.0 381.0 115.0 381.0C128.0 381.0 123.2 379.7 134.5 386.2C145.8 392.7 142.3 389.2 148.8 400.5C155.3 411.8 154.0 407.0 154.0 420.0Z" fill="url(#gr)"/><path d="M311.0 488.0C311.0 500.0 312.2 495.6 306.2 506.0C300.2 516.4 303.4 513.2 293.0 519.2C282.6 525.2 287.0 524.0 275.0 524.0C263.0 524.0 267.4 525.2 257.0 519.2C246.6 513.2 249.8 516.4 243.8 506.0C237.8 495.6 239.0 500.0 239.0 488.0C239.0 476.0 237.8 480.4 243.8 470.0C249.8 459.6 246.6 462.8 257.0 456.8C267.4 450.8 263.0 452.0 275.0 452.0C287.0 452.0 282.6 450.8 293.0 456.8C303.4 462.8 300.2 459.6 306.2 470.0C312.2 480.4 311.0 476.0 311.0 488.0Z" fill="url(#gb)"/><path d="M370.9 210.0C400.4 213.5 395.9 207.9 424.5 229.1C453.1 250.3 444.1 244.6 456.6 273.6C469.1 302.6 462.9 286.3 462.0 316.0C461.1 345.7 468.3 332.3 454.0 362.6C439.7 393.0 447.7 387.4 419.1 407.2C390.5 426.9 395.9 419.9 368.2 422.0C340.5 424.1 349.4 425.5 336.0 413.5C322.6 401.5 329.3 418.5 328.0 386.0C326.7 353.5 332.0 362.6 332.0 316.0C332.0 269.4 326.7 278.5 328.0 246.0C329.3 213.5 321.7 230.5 336.0 218.5C350.3 206.5 341.4 206.5 370.9 210.0Z" fill="url(#gr)"/><path d="M461.9 244.0C438.2 215.9 451.6 239.3 443.3 223.6C435.0 207.8 436.6 214.5 437.0 196.7C437.4 179.0 435.5 185.6 444.5 170.2C453.5 154.9 448.7 159.7 464.0 150.7C479.3 141.6 472.7 143.5 490.5 143.0C508.3 142.5 501.5 141.0 517.3 149.2C533.1 157.4 528.0 152.8 537.8 167.6C547.7 182.4 533.5 159.4 546.8 193.7C560.1 227.9 566.1 218.3 577.8 270.4C589.5 322.5 603.2 337.4 582.0 350.0C560.8 362.6 554.2 343.4 514.2 308.0C474.1 272.7 485.5 272.1 461.9 244.0Z" fill="url(#gb)"/><path d="M546.8 436.3C533.5 470.6 547.7 447.6 537.8 462.4C528.0 477.2 533.1 472.6 517.3 480.8C501.5 489.0 508.3 487.5 490.5 487.0C472.7 486.5 479.3 488.4 464.0 479.3C448.7 470.3 453.5 475.1 444.5 459.8C435.5 444.4 437.4 451.0 437.0 433.3C436.6 415.5 435.0 422.2 443.3 406.4C451.6 390.7 438.2 414.1 461.9 386.0C485.5 357.9 474.1 357.3 514.2 322.0C554.2 286.6 560.8 267.4 582.0 280.0C603.2 292.6 589.5 307.5 577.8 359.6C566.1 411.7 560.1 402.1 546.8 436.3Z" fill="url(#gb)"/><path d="M696.0 210.0C696.0 232.0 697.8 223.9 688.5 243.0C679.2 262.1 684.2 256.2 668.0 267.2C651.8 278.2 658.7 276.0 640.0 276.0C621.3 276.0 628.2 278.2 612.0 267.2C595.8 256.2 600.8 262.1 591.5 243.0C582.2 223.9 584.0 232.0 584.0 210.0C584.0 188.0 582.2 196.1 591.5 177.0C600.8 157.9 595.8 163.8 612.0 152.8C628.2 141.8 621.3 144.0 640.0 144.0C658.7 144.0 651.8 141.8 668.0 152.8C684.2 163.8 679.2 157.9 688.5 177.0C697.8 196.1 696.0 188.0 696.0 210.0Z" fill="url(#gr)"/><path d="M701.0 420.0C701.0 442.0 702.8 433.9 693.5 453.0C684.2 472.1 689.2 466.2 673.0 477.2C656.8 488.2 663.7 486.0 645.0 486.0C626.3 486.0 633.2 488.2 617.0 477.2C600.8 466.2 605.8 472.1 596.5 453.0C587.2 433.9 589.0 442.0 589.0 420.0C589.0 398.0 587.2 406.1 596.5 387.0C605.8 367.9 600.8 373.8 617.0 362.8C633.2 351.8 626.3 354.0 645.0 354.0C663.7 354.0 656.8 351.8 673.0 362.8C689.2 373.8 684.2 367.9 693.5 387.0C702.8 406.1 701.0 398.0 701.0 420.0Z" fill="url(#gr)"/><path d="M776.6 198.0C745.3 201.7 750.1 195.8 719.8 218.2C689.5 240.6 698.9 234.6 685.7 265.2C672.4 295.8 679.1 278.6 680.0 310.0C680.9 341.4 673.4 327.2 688.5 359.3C703.7 391.4 695.1 385.4 725.4 406.3C755.7 427.2 750.1 419.8 779.4 422.0C808.7 424.2 799.3 425.7 813.5 413.0C827.7 400.3 823.9 418.3 822.0 383.9C820.1 349.6 807.8 359.3 807.8 310.0C807.8 260.7 820.1 270.4 822.0 236.1C823.9 201.7 828.6 219.7 813.5 207.0C798.3 194.3 807.8 194.3 776.6 198.0Z" fill="url(#gb)"/><path d="M926.0 165.0C926.0 180.3 927.5 174.7 919.8 188.0C912.2 201.3 916.3 197.2 903.0 204.8C889.7 212.5 895.3 211.0 880.0 211.0C864.7 211.0 870.3 212.5 857.0 204.8C843.7 197.2 847.8 201.3 840.2 188.0C832.5 174.7 834.0 180.3 834.0 165.0C834.0 149.7 832.5 155.3 840.2 142.0C847.8 128.7 843.7 132.8 857.0 125.2C870.3 117.5 864.7 119.0 880.0 119.0C895.3 119.0 889.7 117.5 903.0 125.2C916.3 132.8 912.2 128.7 919.8 142.0C927.5 155.3 926.0 149.7 926.0 165.0Z" fill="url(#gr)"/><path d="M931.0 450.0C931.0 465.3 932.5 459.7 924.8 473.0C917.2 486.3 921.3 482.2 908.0 489.8C894.7 497.5 900.3 496.0 885.0 496.0C869.7 496.0 875.3 497.5 862.0 489.8C848.7 482.2 852.8 486.3 845.2 473.0C837.5 459.7 839.0 465.3 839.0 450.0C839.0 434.7 837.5 440.3 845.2 427.0C852.8 413.7 848.7 417.8 862.0 410.2C875.3 402.5 869.7 404.0 885.0 404.0C900.3 404.0 894.7 402.5 908.0 410.2C921.3 417.8 917.2 413.7 924.8 427.0C932.5 440.3 931.0 434.7 931.0 450.0Z" fill="url(#gr)"/></g>
<g transform="translate(620.00,118.00) scale(0.12552)" filter="url(#bl)" stroke-linecap="round"><line x1="175" y1="70" x2="175" y2="130" stroke="#6e6e6e" stroke-width="14"/><line x1="60" y1="130" x2="110" y2="150" stroke="#6e6e6e" stroke-width="14"/><line x1="175" y1="130" x2="110" y2="150" stroke="#6e6e6e" stroke-width="14"/><line x1="175" y1="130" x2="250" y2="160" stroke="#6e6e6e" stroke-width="14"/><line x1="110" y1="150" x2="110" y2="245" stroke="#6e6e6e" stroke-width="14"/><line x1="60" y1="280" x2="110" y2="245" stroke="#6e6e6e" stroke-width="14"/><line x1="110" y1="245" x2="190" y2="290" stroke="#6e6e6e" stroke-width="14"/><line x1="250" y1="160" x2="240" y2="270" stroke="#6e6e6e" stroke-width="14"/><line x1="170" y1="600" x2="170" y2="670" stroke="#6e6e6e" stroke-width="14"/><line x1="60" y1="600" x2="100" y2="575" stroke="#6e6e6e" stroke-width="14"/><line x1="70" y1="460" x2="115" y2="470" stroke="#6e6e6e" stroke-width="14"/><line x1="260" y1="570" x2="295" y2="575" stroke="#6e6e6e" stroke-width="14"/><line x1="115" y1="470" x2="105" y2="570" stroke="#6e6e6e" stroke-width="14"/><line x1="105" y1="570" x2="170" y2="600" stroke="#6e6e6e" stroke-width="14"/><line x1="170" y1="600" x2="250" y2="565" stroke="#6e6e6e" stroke-width="14"/><line x1="250" y1="565" x2="240" y2="450" stroke="#6e6e6e" stroke-width="14"/><line x1="115" y1="470" x2="190" y2="430" stroke="#6e6e6e" stroke-width="14"/><line x1="190" y1="290" x2="190" y2="430" stroke="#6e6e6e" stroke-width="14"/><line x1="715" y1="270" x2="745" y2="252" stroke="#6e6e6e" stroke-width="14"/><line x1="715" y1="460" x2="745" y2="478" stroke="#6e6e6e" stroke-width="14"/><line x1="490" y1="330" x2="490" y2="420" stroke="#6e6e6e" stroke-width="14"/><path d="M104.0 178.0C104.0 186.0 104.8 183.1 100.8 190.0C96.8 196.9 98.9 194.8 92.0 198.8C85.1 202.8 88.0 202.0 80.0 202.0C72.0 202.0 74.9 202.8 68.0 198.8C61.1 194.8 63.2 196.9 59.2 190.0C55.2 183.1 56.0 186.0 56.0 178.0C56.0 170.0 55.2 172.9 59.2 166.0C63.2 159.1 61.1 161.2 68.0 157.2C74.9 153.2 72.0 154.0 80.0 154.0C88.0 154.0 85.1 153.2 92.0 157.2C98.9 161.2 96.8 159.1 100.8 166.0C104.8 172.9 104.0 170.0 104.0 178.0Z" fill="url(#gr)"/><path d="M147.0 150.0C147.0 159.0 147.9 155.7 143.4 163.5C138.9 171.3 141.3 168.9 133.5 173.4C125.7 177.9 129.0 177.0 120.0 177.0C111.0 177.0 114.3 177.9 106.5 173.4C98.7 168.9 101.1 171.3 96.6 163.5C92.1 155.7 93.0 159.0 93.0 150.0C93.0 141.0 92.1 144.3 96.6 136.5C101.1 128.7 98.7 131.1 106.5 126.6C114.3 122.1 111.0 123.0 120.0 123.0C129.0 123.0 125.7 122.1 133.5 126.6C141.3 131.1 138.9 128.7 143.4 136.5C147.9 144.3 147.0 141.0 147.0 150.0Z" fill="url(#gb)"/><path d="M289.0 160.0C289.0 169.7 289.9 166.1 285.1 174.5C280.3 182.9 282.9 180.3 274.5 185.1C266.1 189.9 269.7 189.0 260.0 189.0C250.3 189.0 253.9 189.9 245.5 185.1C237.1 180.3 239.7 182.9 234.9 174.5C230.1 166.1 231.0 169.7 231.0 160.0C231.0 150.3 230.1 153.9 234.9 145.5C239.7 137.1 237.1 139.7 245.5 134.9C253.9 130.1 250.3 131.0 260.0 131.0C269.7 131.0 266.1 130.1 274.5 134.9C282.9 139.7 280.3 137.1 285.1 145.5C289.9 153.9 289.0 150.3 289.0 160.0Z" fill="url(#gr)"/><path d="M255.0 200.0C255.0 211.3 256.0 207.2 251.0 217.0C246.0 226.8 248.7 223.8 240.0 229.4C231.3 235.1 235.0 234.0 225.0 234.0C215.0 234.0 218.7 235.1 210.0 229.4C201.3 223.8 204.0 226.8 199.0 217.0C194.0 207.2 195.0 211.3 195.0 200.0C195.0 188.7 194.0 192.8 199.0 183.0C204.0 173.2 201.3 176.2 210.0 170.6C218.7 164.9 215.0 166.0 225.0 166.0C235.0 166.0 231.3 164.9 240.0 170.6C248.7 176.2 246.0 173.2 251.0 183.0C256.0 192.8 255.0 188.7 255.0 200.0Z" fill="url(#gb)"/><path d="M181.0 300.0C181.0 308.7 181.8 305.5 177.5 313.0C173.2 320.5 175.5 318.2 168.0 322.5C160.5 326.8 163.7 326.0 155.0 326.0C146.3 326.0 149.5 326.8 142.0 322.5C134.5 318.2 136.8 320.5 132.5 313.0C128.2 305.5 129.0 308.7 129.0 300.0C129.0 291.3 128.2 294.5 132.5 287.0C136.8 279.5 134.5 281.8 142.0 277.5C149.5 273.2 146.3 274.0 155.0 274.0C163.7 274.0 160.5 273.2 168.0 277.5C175.5 281.8 173.2 279.5 177.5 287.0C181.8 294.5 181.0 291.3 181.0 300.0Z" fill="url(#gb)"/><path d="M241.0 290.0C241.0 302.0 242.2 297.6 236.2 308.0C230.2 318.4 233.4 315.2 223.0 321.2C212.6 327.2 217.0 326.0 205.0 326.0C193.0 326.0 197.4 327.2 187.0 321.2C176.6 315.2 179.8 318.4 173.8 308.0C167.8 297.6 169.0 302.0 169.0 290.0C169.0 278.0 167.8 282.4 173.8 272.0C179.8 261.6 176.6 264.8 187.0 258.8C197.4 252.8 193.0 254.0 205.0 254.0C217.0 254.0 212.6 252.8 223.0 258.8C233.4 264.8 230.2 261.6 236.2 272.0C242.2 282.4 241.0 278.0 241.0 290.0Z" fill="url(#gr)"/><path d="M181.0 425.0C181.0 433.7 181.8 430.5 177.5 438.0C173.2 445.5 175.5 443.2 168.0 447.5C160.5 451.8 163.7 451.0 155.0 451.0C146.3 451.0 149.5 451.8 142.0 447.5C134.5 443.2 136.8 445.5 132.5 438.0C128.2 430.5 129.0 433.7 129.0 425.0C129.0 416.3 128.2 419.5 132.5 412.0C136.8 404.5 134.5 406.8 142.0 402.5C149.5 398.2 146.3 399.0 155.0 399.0C163.7 399.0 160.5 398.2 168.0 402.5C175.5 406.8 173.2 404.5 177.5 412.0C181.8 419.5 181.0 416.3 181.0 425.0Z" fill="url(#gr)"/><path d="M237.0 440.0C237.0 450.7 238.0 446.8 232.7 456.0C227.4 465.2 230.2 462.4 221.0 467.7C211.8 473.0 215.7 472.0 205.0 472.0C194.3 472.0 198.2 473.0 189.0 467.7C179.8 462.4 182.6 465.2 177.3 456.0C172.0 446.8 173.0 450.7 173.0 440.0C173.0 429.3 172.0 433.2 177.3 424.0C182.6 414.8 179.8 417.6 189.0 412.3C198.2 407.0 194.3 408.0 205.0 408.0C215.7 408.0 211.8 407.0 221.0 412.3C230.2 417.6 227.4 414.8 232.7 424.0C238.0 433.2 237.0 429.3 237.0 440.0Z" fill="url(#gb)"/><path d="M277.0 570.0C277.0 577.3 277.7 574.6 274.1 581.0C270.4 587.4 272.4 585.4 266.0 589.1C259.6 592.7 262.3 592.0 255.0 592.0C247.7 592.0 250.4 592.7 244.0 589.1C237.6 585.4 239.6 587.4 235.9 581.0C232.3 574.6 233.0 577.3 233.0 570.0C233.0 562.7 232.3 565.4 235.9 559.0C239.6 552.6 237.6 554.6 244.0 550.9C250.4 547.3 247.7 548.0 255.0 548.0C262.3 548.0 259.6 547.3 266.0 550.9C272.4 554.6 270.4 552.6 274.1 559.0C277.7 565.4 277.0 562.7 277.0 570.0Z" fill="url(#gb)"/><path d="M266.0 525.0C266.0 537.0 267.2 532.6 261.2 543.0C255.2 553.4 258.4 550.2 248.0 556.2C237.6 562.2 242.0 561.0 230.0 561.0C218.0 561.0 222.4 562.2 212.0 556.2C201.6 550.2 204.8 553.4 198.8 543.0C192.8 532.6 194.0 537.0 194.0 525.0C194.0 513.0 192.8 517.4 198.8 507.0C204.8 496.6 201.6 499.8 212.0 493.8C222.4 487.8 218.0 489.0 230.0 489.0C242.0 489.0 237.6 487.8 248.0 493.8C258.4 499.8 255.2 496.6 261.2 507.0C267.2 517.4 266.0 513.0 266.0 525.0Z" fill="url(#gr)"/><path d="M146.0 585.0C146.0 593.7 146.8 590.5 142.5 598.0C138.2 605.5 140.5 603.2 133.0 607.5C125.5 611.8 128.7 611.0 120.0 611.0C111.3 611.0 114.5 611.8 107.0 607.5C99.5 603.2 101.8 605.5 97.5 598.0C93.2 590.5 94.0 593.7 94.0 585.0C94.0 576.3 93.2 579.5 97.5 572.0C101.8 564.5 99.5 566.8 107.0 562.5C114.5 558.2 111.3 559.0 120.0 559.0C128.7 559.0 125.5 558.2 133.0 562.5C140.5 566.8 138.2 564.5 142.5 572.0C146.8 579.5 146.0 576.3 146.0 585.0Z" fill="url(#gr)"/><path d="M121.0 550.0C121.0 560.3 122.0 556.6 116.8 565.5C111.7 574.4 114.4 571.7 105.5 576.8C96.6 582.0 100.3 581.0 90.0 581.0C79.7 581.0 83.4 582.0 74.5 576.8C65.6 571.7 68.3 574.4 63.2 565.5C58.0 556.6 59.0 560.3 59.0 550.0C59.0 539.7 58.0 543.4 63.2 534.5C68.3 525.6 65.6 528.3 74.5 523.2C83.4 518.0 79.7 519.0 90.0 519.0C100.3 519.0 96.6 518.0 105.5 523.2C114.4 528.3 111.7 525.6 116.8 534.5C122.0 543.4 121.0 539.7 121.0 550.0Z" fill="url(#gb)"/><path d="M344.0 305.0C344.0 321.7 345.5 315.6 337.8 330.0C330.2 344.4 334.3 340.0 321.0 348.3C307.7 356.6 313.3 355.0 298.0 355.0C282.7 355.0 288.3 356.6 275.0 348.3C261.7 340.0 265.8 344.4 258.2 330.0C250.5 315.6 252.0 321.7 252.0 305.0C252.0 288.3 250.5 294.4 258.2 280.0C265.8 265.6 261.7 270.0 275.0 261.7C288.3 253.4 282.7 255.0 298.0 255.0C313.3 255.0 307.7 253.4 321.0 261.7C334.3 270.0 330.2 265.6 337.8 280.0C345.5 294.4 344.0 288.3 344.0 305.0Z" fill="url(#gr)"/><path d="M378.0 375.0C378.0 407.0 380.1 395.3 369.6 423.0C359.1 450.7 364.7 442.1 346.5 458.1C328.3 474.1 336.0 471.0 315.0 471.0C294.0 471.0 301.7 474.1 283.5 458.1C265.3 442.1 270.9 450.7 260.4 423.0C249.9 395.3 252.0 407.0 252.0 375.0C252.0 343.0 249.9 354.7 260.4 327.0C270.9 299.3 265.3 307.9 283.5 291.9C301.7 275.9 294.0 279.0 315.0 279.0C336.0 279.0 328.3 275.9 346.5 291.9C364.7 307.9 359.1 299.3 369.6 327.0C380.1 354.7 378.0 343.0 378.0 375.0Z" fill="url(#gb)"/><path d="M386.6 315.0C364.7 291.7 377.0 311.2 368.9 297.3C360.7 283.3 362.4 289.3 362.0 273.2C361.6 257.0 360.2 263.1 367.7 248.8C375.2 234.4 371.0 239.1 384.6 230.2C398.1 221.3 392.2 223.3 408.3 222.1C424.4 220.9 418.3 219.8 433.0 226.6C447.7 233.4 442.8 229.4 452.4 242.5C461.9 255.5 448.9 236.5 461.6 265.8C474.3 295.1 479.0 285.6 490.5 330.4C502.0 375.1 514.7 387.7 496.0 400.0C477.3 412.3 470.8 395.6 434.3 367.2C397.8 338.9 408.4 338.4 386.6 315.0Z" fill="url(#gr)"/><path d="M461.8 472.5C449.2 503.7 462.4 482.8 453.3 496.1C444.2 509.5 448.9 505.4 434.5 512.7C420.0 519.9 426.2 518.6 410.0 518.0C393.8 517.3 399.8 519.1 386.0 510.7C372.2 502.3 376.5 506.8 368.5 492.7C360.5 478.7 362.2 484.7 362.0 468.5C361.8 452.4 360.3 458.4 368.0 444.2C375.7 430.0 363.2 451.3 385.1 425.9C407.0 400.4 396.7 399.7 433.7 367.7C470.7 335.8 476.9 318.4 496.0 330.0C515.1 341.6 502.5 355.2 491.1 402.7C479.7 450.2 474.4 441.4 461.8 472.5Z" fill="url(#gr)"/><path d="M606.0 265.0C606.0 286.0 607.8 278.3 598.5 296.5C589.2 314.7 594.2 309.1 578.0 319.6C561.8 330.1 568.7 328.0 550.0 328.0C531.3 328.0 538.2 330.1 522.0 319.6C505.8 309.1 510.8 314.7 501.5 296.5C492.2 278.3 494.0 286.0 494.0 265.0C494.0 244.0 492.2 251.7 501.5 233.5C510.8 215.3 505.8 220.9 522.0 210.4C538.2 199.9 531.3 202.0 550.0 202.0C568.7 202.0 561.8 199.9 578.0 210.4C594.2 220.9 589.2 215.3 598.5 233.5C607.8 251.7 606.0 244.0 606.0 265.0Z" fill="url(#gb)"/><path d="M606.0 465.0C606.0 486.0 607.8 478.3 598.5 496.5C589.2 514.7 594.2 509.1 578.0 519.6C561.8 530.1 568.7 528.0 550.0 528.0C531.3 528.0 538.2 530.1 522.0 519.6C505.8 509.1 510.8 514.7 501.5 496.5C492.2 478.3 494.0 486.0 494.0 465.0C494.0 444.0 492.2 451.7 501.5 433.5C510.8 415.3 505.8 420.9 522.0 410.4C538.2 399.9 531.3 402.0 550.0 402.0C568.7 402.0 561.8 399.9 578.0 410.4C594.2 420.9 589.2 415.3 598.5 433.5C607.8 451.7 606.0 444.0 606.0 465.0Z" fill="url(#gb)"/><path d="M677.1 260.0C647.6 263.5 652.1 257.9 623.5 279.1C594.9 300.3 603.9 294.6 591.4 323.6C578.9 352.6 585.1 336.3 586.0 366.0C586.9 395.7 579.7 382.3 594.0 412.6C608.3 443.0 600.3 437.4 628.9 457.2C657.5 476.9 652.1 469.9 679.8 472.0C707.5 474.1 698.6 475.5 712.0 463.5C725.4 451.5 721.8 468.5 720.0 436.0C718.2 403.5 706.6 412.6 706.6 366.0C706.6 319.4 718.2 328.5 720.0 296.0C721.8 263.5 726.3 280.5 712.0 268.5C697.7 256.5 706.6 256.5 677.1 260.0Z" fill="url(#gr)"/><path d="M824.0 235.0C824.0 250.3 825.5 244.7 817.8 258.0C810.2 271.3 814.3 267.2 801.0 274.8C787.7 282.5 793.3 281.0 778.0 281.0C762.7 281.0 768.3 282.5 755.0 274.8C741.7 267.2 745.8 271.3 738.2 258.0C730.5 244.7 732.0 250.3 732.0 235.0C732.0 219.7 730.5 225.3 738.2 212.0C745.8 198.7 741.7 202.8 755.0 195.2C768.3 187.5 762.7 189.0 778.0 189.0C793.3 189.0 787.7 187.5 801.0 195.2C814.3 202.8 810.2 198.7 817.8 212.0C825.5 225.3 824.0 219.7 824.0 235.0Z" fill="url(#gb)"/><path d="M821.0 495.0C821.0 510.3 822.5 504.7 814.8 518.0C807.2 531.3 811.3 527.2 798.0 534.8C784.7 542.5 790.3 541.0 775.0 541.0C759.7 541.0 765.3 542.5 752.0 534.8C738.7 527.2 742.8 531.3 735.2 518.0C727.5 504.7 729.0 510.3 729.0 495.0C729.0 479.7 727.5 485.3 735.2 472.0C742.8 458.7 738.7 462.8 752.0 455.2C765.3 447.5 759.7 449.0 775.0 449.0C790.3 449.0 784.7 447.5 798.0 455.2C811.3 462.8 807.2 458.7 814.8 472.0C822.5 485.3 821.0 479.7 821.0 495.0Z" fill="url(#gb)"/></g>
<g transform="translate(760.00,118.00) scale(0.12552)" filter="url(#bl)" stroke-linecap="round"><line x1="260" y1="65" x2="260" y2="130" stroke="#6e6e6e" stroke-width="14"/><line x1="260" y1="130" x2="205" y2="165" stroke="#6e6e6e" stroke-width="14"/><line x1="260" y1="130" x2="315" y2="150" stroke="#6e6e6e" stroke-width="14"/><line x1="120" y1="150" x2="150" y2="165" stroke="#6e6e6e" stroke-width="14"/><line x1="375" y1="160" x2="400" y2="150" stroke="#6e6e6e" stroke-width="14"/><line x1="180" y1="225" x2="180" y2="270" stroke="#6e6e6e" stroke-width="14"/><line x1="120" y1="300" x2="180" y2="270" stroke="#6e6e6e" stroke-width="14"/><line x1="180" y1="270" x2="222" y2="292" stroke="#6e6e6e" stroke-width="14"/><line x1="332" y1="205" x2="335" y2="255" stroke="#6e6e6e" stroke-width="14"/><line x1="120" y1="430" x2="180" y2="460" stroke="#6e6e6e" stroke-width="14"/><line x1="180" y1="460" x2="180" y2="500" stroke="#6e6e6e" stroke-width="14"/><line x1="180" y1="460" x2="225" y2="430" stroke="#6e6e6e" stroke-width="14"/><line x1="335" y1="468" x2="335" y2="515" stroke="#6e6e6e" stroke-width="14"/><line x1="260" y1="600" x2="260" y2="665" stroke="#6e6e6e" stroke-width="14"/><line x1="260" y1="600" x2="212" y2="572" stroke="#6e6e6e" stroke-width="14"/><line x1="120" y1="585" x2="150" y2="570" stroke="#6e6e6e" stroke-width="14"/><line x1="375" y1="560" x2="400" y2="575" stroke="#6e6e6e" stroke-width="14"/><line x1="560" y1="320" x2="560" y2="400" stroke="#6e6e6e" stroke-width="14"/><line x1="785" y1="270" x2="815" y2="250" stroke="#6e6e6e" stroke-width="14"/><line x1="785" y1="445" x2="815" y2="465" stroke="#6e6e6e" stroke-width="14"/><path d="M211.0 185.0C211.0 200.3 212.3 194.7 205.8 208.0C199.3 221.3 202.8 217.2 191.5 224.8C180.2 232.5 185.0 231.0 172.0 231.0C159.0 231.0 163.8 232.5 152.5 224.8C141.2 217.2 144.7 221.3 138.2 208.0C131.7 194.7 133.0 200.3 133.0 185.0C133.0 169.7 131.7 175.3 138.2 162.0C144.7 148.7 141.2 152.8 152.5 145.2C163.8 137.5 159.0 139.0 172.0 139.0C185.0 139.0 180.2 137.5 191.5 145.2C202.8 152.8 199.3 148.7 205.8 162.0C212.3 175.3 211.0 169.7 211.0 185.0Z" fill="url(#gb)"/><path d="M335.5 127.0C354.2 127.7 343.2 125.9 353.9 132.0C364.5 138.1 361.1 134.8 367.5 145.3C373.9 155.8 372.5 151.3 373.0 163.6C373.4 175.9 374.5 171.2 368.9 182.2C363.3 193.1 366.5 189.6 356.3 196.5C346.1 203.4 350.6 201.8 338.3 202.9C326.1 203.9 330.8 204.7 319.6 199.7C308.3 194.7 316.3 202.6 304.6 187.9C293.0 173.2 298.9 175.6 284.7 155.6C270.5 135.7 257.7 136.5 262.0 128.0C266.3 119.5 273.2 130.3 297.7 130.0C322.2 129.7 316.8 126.3 335.5 127.0Z" fill="url(#gr)"/><path d="M288.0 358.0C288.0 385.2 288.7 377.3 285.7 398.7C282.7 420.1 285.0 409.7 278.9 422.2C272.9 434.7 278.0 430.0 267.6 436.3C257.3 442.5 261.1 441.0 248.0 441.0C234.9 441.0 238.7 442.5 228.4 436.3C218.0 430.0 223.1 434.7 217.1 422.2C211.0 409.7 213.3 420.1 210.3 398.7C207.3 377.3 208.0 385.2 208.0 358.0C208.0 330.8 207.3 338.7 210.3 317.3C213.3 295.9 211.0 306.3 217.1 293.8C223.1 281.3 218.0 286.0 228.4 279.7C238.7 273.5 234.9 275.0 248.0 275.0C261.1 275.0 257.3 273.5 267.6 279.7C278.0 286.0 272.9 281.3 278.9 293.8C285.0 306.3 282.7 295.9 285.7 317.3C288.7 338.7 288.0 330.8 288.0 358.0Z" fill="url(#gr)"/><path d="M364.1 252.0C395.8 255.6 391.0 249.8 421.7 271.4C452.4 293.0 442.8 287.3 456.2 316.8C469.7 346.3 463.0 329.8 462.0 360.0C461.0 390.2 468.7 376.6 453.4 407.5C438.0 438.5 446.6 432.7 415.9 452.9C385.2 473.0 391.0 465.8 361.2 468.0C331.4 470.2 341.0 471.6 326.6 459.4C312.2 447.1 319.0 464.4 318.0 431.3C317.0 398.2 323.8 407.5 323.8 360.0C323.8 312.5 317.0 321.8 318.0 288.7C319.0 255.6 311.3 272.9 326.6 260.6C342.0 248.4 332.4 248.4 364.1 252.0Z" fill="url(#gb)"/><path d="M219.0 545.0C219.0 560.3 220.3 554.7 213.8 568.0C207.3 581.3 210.8 577.2 199.5 584.8C188.2 592.5 193.0 591.0 180.0 591.0C167.0 591.0 171.8 592.5 160.5 584.8C149.2 577.2 152.7 581.3 146.2 568.0C139.7 554.7 141.0 560.3 141.0 545.0C141.0 529.7 139.7 535.3 146.2 522.0C152.7 508.7 149.2 512.8 160.5 505.2C171.8 497.5 167.0 499.0 180.0 499.0C193.0 499.0 188.2 497.5 199.5 505.2C210.8 512.8 207.3 508.7 213.8 522.0C220.3 535.3 219.0 529.7 219.0 545.0Z" fill="url(#gb)"/><path d="M301.6 531.9C312.1 514.7 304.2 524.6 314.5 518.0C324.9 511.4 320.4 512.8 332.7 512.1C344.9 511.3 340.3 510.4 351.4 515.7C362.5 521.0 358.8 517.9 366.0 528.0C373.1 538.0 371.4 533.5 372.8 545.7C374.1 558.0 374.8 553.3 370.1 564.6C365.4 576.0 368.2 572.2 358.6 579.8C348.9 587.4 360.8 583.1 341.2 587.5C321.5 591.9 325.9 588.1 299.5 592.9C273.1 597.7 267.6 609.8 262.0 602.0C256.4 594.2 269.7 592.9 282.9 569.5C296.1 546.1 291.0 549.1 301.6 531.9Z" fill="url(#gr)"/><path d="M470.6 303.3C449.8 291.8 460.2 300.8 449.6 287.8C439.0 274.7 441.7 280.6 438.8 264.1C435.9 247.5 435.4 254.0 440.8 238.1C446.3 222.2 442.7 227.6 455.2 216.3C467.7 205.1 461.9 208.1 478.3 204.3C494.7 200.6 488.2 200.4 504.4 205.0C520.6 209.7 515.0 206.4 526.8 218.3C538.7 230.2 530.9 218.9 540.0 240.8C549.2 262.7 547.0 252.6 554.3 284.0C561.6 315.4 576.1 322.3 562.0 335.0C547.9 347.7 542.6 332.6 512.1 322.0C481.6 311.4 491.4 314.7 470.6 303.3Z" fill="url(#gr)"/><path d="M538.6 470.6C528.9 490.3 536.3 481.0 523.5 491.8C510.6 502.6 516.4 499.8 499.9 503.0C483.4 506.3 489.9 506.7 473.9 501.4C457.9 496.2 463.4 499.7 451.9 487.4C440.5 475.1 443.6 480.8 439.5 464.5C435.5 448.2 435.4 454.7 439.8 438.4C444.2 422.2 441.0 427.8 452.7 415.8C464.4 403.7 454.6 410.5 475.0 402.2C495.3 394.0 484.8 396.8 513.9 391.0C542.9 385.3 549.1 371.1 562.0 385.0C574.9 398.9 560.4 404.1 552.5 432.6C544.7 461.1 548.3 450.8 538.6 470.6Z" fill="url(#gr)"/><path d="M684.0 258.0C684.0 280.0 685.8 271.9 676.5 291.0C667.2 310.1 672.2 304.2 656.0 315.2C639.8 326.2 646.7 324.0 628.0 324.0C609.3 324.0 616.2 326.2 600.0 315.2C583.8 304.2 588.8 310.1 579.5 291.0C570.2 271.9 572.0 280.0 572.0 258.0C572.0 236.0 570.2 244.1 579.5 225.0C588.8 205.9 583.8 211.8 600.0 200.8C616.2 189.8 609.3 192.0 628.0 192.0C646.7 192.0 639.8 189.8 656.0 200.8C672.2 211.8 667.2 205.9 676.5 225.0C685.8 244.1 684.0 236.0 684.0 258.0Z" fill="url(#gb)"/><path d="M686.0 455.0C686.0 477.0 687.8 468.9 678.5 488.0C669.2 507.1 674.2 501.2 658.0 512.2C641.8 523.2 648.7 521.0 630.0 521.0C611.3 521.0 618.2 523.2 602.0 512.2C585.8 501.2 590.8 507.1 581.5 488.0C572.2 468.9 574.0 477.0 574.0 455.0C574.0 433.0 572.2 441.1 581.5 422.0C590.8 402.9 585.8 408.8 602.0 397.8C618.2 386.8 611.3 389.0 630.0 389.0C648.7 389.0 641.8 386.8 658.0 397.8C674.2 408.8 669.2 402.9 678.5 422.0C687.8 441.1 686.0 433.0 686.0 455.0Z" fill="url(#gb)"/><path d="M749.8 248.0C720.7 251.6 725.1 245.9 697.0 267.3C668.8 288.7 677.6 283.0 665.3 312.2C653.0 341.4 659.1 325.0 660.0 355.0C660.9 385.0 653.8 371.4 667.9 402.1C682.0 432.8 674.1 427.0 702.2 447.0C730.4 467.0 725.1 459.9 752.4 462.0C779.7 464.1 770.9 465.6 784.1 453.4C797.3 441.3 793.8 458.4 792.0 425.6C790.2 392.8 778.8 402.1 778.8 355.0C778.8 307.9 790.2 317.2 792.0 284.4C793.8 251.6 798.2 268.7 784.1 256.6C770.0 244.4 778.8 244.4 749.8 248.0Z" fill="url(#gr)"/><path d="M891.0 222.0C891.0 236.3 892.4 231.1 885.2 243.5C878.1 255.9 881.9 252.1 869.5 259.2C857.1 266.4 862.3 265.0 848.0 265.0C833.7 265.0 838.9 266.4 826.5 259.2C814.1 252.1 817.9 255.9 810.8 243.5C803.6 231.1 805.0 236.3 805.0 222.0C805.0 207.7 803.6 212.9 810.8 200.5C817.9 188.1 814.1 191.9 826.5 184.8C838.9 177.6 833.7 179.0 848.0 179.0C862.3 179.0 857.1 177.6 869.5 184.8C881.9 191.9 878.1 188.1 885.2 200.5C892.4 212.9 891.0 207.7 891.0 222.0Z" fill="url(#gb)"/><path d="M895.0 485.0C895.0 500.0 896.5 494.5 889.0 507.5C881.5 520.5 885.5 516.5 872.5 524.0C859.5 531.5 865.0 530.0 850.0 530.0C835.0 530.0 840.5 531.5 827.5 524.0C814.5 516.5 818.5 520.5 811.0 507.5C803.5 494.5 805.0 500.0 805.0 485.0C805.0 470.0 803.5 475.5 811.0 462.5C818.5 449.5 814.5 453.5 827.5 446.0C840.5 438.5 835.0 440.0 850.0 440.0C865.0 440.0 859.5 438.5 872.5 446.0C885.5 453.5 881.5 449.5 889.0 462.5C896.5 475.5 895.0 470.0 895.0 485.0Z" fill="url(#gb)"/></g>
<g transform="translate(900.00,118.00) scale(0.12552)" filter="url(#bl)" stroke-linecap="round"><line x1="195" y1="45" x2="195" y2="110" stroke="#6e6e6e" stroke-width="14"/><line x1="195" y1="110" x2="150" y2="135" stroke="#6e6e6e" stroke-width="14"/><line x1="195" y1="110" x2="230" y2="125" stroke="#6e6e6e" stroke-width="14"/><line x1="70" y1="135" x2="95" y2="150" stroke="#6e6e6e" stroke-width="14"/><line x1="310" y1="135" x2="335" y2="122" stroke="#6e6e6e" stroke-width="14"/><line x1="275" y1="175" x2="275" y2="228" stroke="#6e6e6e" stroke-width="14"/><line x1="150" y1="255" x2="185" y2="272" stroke="#6e6e6e" stroke-width="14"/><line x1="195" y1="540" x2="195" y2="605" stroke="#6e6e6e" stroke-width="14"/><line x1="195" y1="540" x2="150" y2="515" stroke="#6e6e6e" stroke-width="14"/><line x1="195" y1="540" x2="230" y2="525" stroke="#6e6e6e" stroke-width="14"/><line x1="70" y1="520" x2="95" y2="505" stroke="#6e6e6e" stroke-width="14"/><line x1="310" y1="520" x2="335" y2="535" stroke="#6e6e6e" stroke-width="14"/><line x1="275" y1="418" x2="275" y2="470" stroke="#6e6e6e" stroke-width="14"/><line x1="150" y1="392" x2="185" y2="378" stroke="#6e6e6e" stroke-width="14"/><line x1="490" y1="290" x2="490" y2="372" stroke="#6e6e6e" stroke-width="14"/><line x1="708" y1="245" x2="740" y2="222" stroke="#6e6e6e" stroke-width="14"/><line x1="708" y1="405" x2="740" y2="428" stroke="#6e6e6e" stroke-width="14"/><line x1="125" y1="235" x2="150" y2="255" stroke="#3030e0" stroke-width="9"/><line x1="125" y1="410" x2="150" y2="392" stroke="#3030e0" stroke-width="9"/><path d="M158.0 165.0C158.0 179.3 159.2 174.1 153.2 186.5C147.2 198.9 150.4 195.1 140.0 202.2C129.6 209.4 134.0 208.0 122.0 208.0C110.0 208.0 114.4 209.4 104.0 202.2C93.6 195.1 96.8 198.9 90.8 186.5C84.8 174.1 86.0 179.3 86.0 165.0C86.0 150.7 84.8 155.9 90.8 143.5C96.8 131.1 93.6 134.9 104.0 127.8C114.4 120.6 110.0 122.0 122.0 122.0C134.0 122.0 129.6 120.6 140.0 127.8C150.4 134.9 147.2 131.1 153.2 143.5C159.2 155.9 158.0 150.7 158.0 165.0Z" fill="url(#gr)"/><path d="M270.4 116.0C286.9 116.9 276.9 115.1 285.9 120.2C294.9 125.4 292.0 122.6 297.4 131.4C302.7 140.3 301.6 136.5 302.0 146.8C302.4 157.2 303.2 153.3 298.5 162.5C293.8 171.7 296.5 168.7 287.9 174.5C279.3 180.3 283.1 179.0 272.8 179.9C262.5 180.8 266.4 181.4 257.0 177.2C247.5 173.0 254.9 180.0 244.4 167.2C233.9 154.5 238.7 156.4 225.5 139.0C212.4 121.6 201.3 122.2 205.0 115.0C208.7 107.8 214.7 117.1 236.5 117.4C258.3 117.7 254.0 115.1 270.4 116.0Z" fill="url(#gb)"/><path d="M239.0 325.0C239.0 351.8 239.8 344.1 236.6 365.3C233.4 386.4 235.8 376.1 229.5 388.4C223.2 400.8 228.4 396.1 217.6 402.3C206.8 408.5 210.7 407.0 197.0 407.0C183.3 407.0 187.2 408.5 176.4 402.3C165.6 396.1 170.8 400.8 164.5 388.4C158.2 376.1 160.6 386.4 157.4 365.3C154.2 344.1 155.0 351.8 155.0 325.0C155.0 298.2 154.2 305.9 157.4 284.7C160.6 263.6 158.2 273.9 164.5 261.6C170.8 249.2 165.6 253.9 176.4 247.7C187.2 241.5 183.3 243.0 197.0 243.0C210.7 243.0 206.8 241.5 217.6 247.7C228.4 253.9 223.2 249.2 229.5 261.6C235.8 273.9 233.4 263.6 236.6 284.7C239.8 305.9 239.0 298.2 239.0 325.0Z" fill="url(#gb)"/><path d="M301.6 220.0C330.2 223.4 325.9 218.0 353.6 238.2C381.3 258.4 372.7 253.0 384.8 280.6C396.9 308.2 390.9 292.7 390.0 321.0C389.1 349.3 396.1 336.5 382.2 365.4C368.3 394.4 376.1 389.0 348.4 407.9C320.7 426.7 325.9 420.0 299.0 422.0C272.1 424.0 280.8 425.4 267.8 413.9C254.8 402.5 260.9 418.6 260.0 387.7C259.1 356.7 265.2 365.4 265.2 321.0C265.2 276.6 259.1 285.3 260.0 254.3C260.9 223.4 253.9 239.5 267.8 228.1C281.7 216.6 273.0 216.6 301.6 220.0Z" fill="url(#gr)"/><path d="M158.0 485.0C158.0 499.3 159.2 494.1 153.2 506.5C147.2 518.9 150.4 515.1 140.0 522.2C129.6 529.4 134.0 528.0 122.0 528.0C110.0 528.0 114.4 529.4 104.0 522.2C93.6 515.1 96.8 518.9 90.8 506.5C84.8 494.1 86.0 499.3 86.0 485.0C86.0 470.7 84.8 475.9 90.8 463.5C96.8 451.1 93.6 454.9 104.0 447.8C114.4 440.6 110.0 442.0 122.0 442.0C134.0 442.0 129.6 440.6 140.0 447.8C150.4 454.9 147.2 451.1 153.2 463.5C159.2 475.9 158.0 470.7 158.0 485.0Z" fill="url(#gr)"/><path d="M244.0 481.4C254.3 468.3 246.9 475.5 256.3 471.1C265.6 466.7 261.7 467.4 272.0 468.1C282.4 468.7 278.6 467.5 287.3 473.1C296.0 478.6 293.3 475.7 298.2 484.8C303.1 493.9 302.1 490.1 302.0 500.4C301.9 510.8 302.9 506.9 297.8 515.9C292.6 524.9 295.4 522.0 286.6 527.4C277.7 532.7 287.8 530.6 271.2 532.0C254.6 533.4 258.8 530.6 236.7 531.7C214.7 532.7 208.8 542.1 205.0 535.0C201.2 527.9 212.3 528.2 225.3 510.3C238.3 492.5 233.6 494.5 244.0 481.4Z" fill="url(#gb)"/><path d="M407.8 276.9C388.4 267.6 397.8 274.9 387.2 262.7C376.6 250.5 379.4 256.1 376.1 240.2C372.7 224.4 372.5 230.6 377.2 215.2C382.0 199.7 378.7 205.1 390.4 193.9C402.1 182.7 396.7 185.7 412.3 181.6C427.9 177.5 421.7 177.6 437.4 181.6C453.0 185.6 447.6 182.5 459.3 193.6C471.1 204.7 464.1 195.0 472.7 214.9C481.2 234.7 478.5 224.7 484.9 253.1C491.4 281.5 505.1 287.4 492.0 300.0C478.9 312.6 473.5 298.6 445.5 290.9C417.4 283.2 427.2 286.3 407.8 276.9Z" fill="url(#gb)"/><path d="M470.5 435.7C461.2 453.1 467.7 445.6 454.7 455.2C441.7 464.8 447.5 462.5 431.5 464.6C415.4 466.7 421.6 467.4 406.6 461.5C391.6 455.5 396.6 459.2 386.4 446.7C376.1 434.2 378.7 439.9 375.8 424.0C372.9 408.1 372.5 414.3 377.6 399.0C382.8 383.7 379.4 388.9 391.4 378.0C403.3 367.1 394.7 372.0 413.5 366.3C432.4 360.6 421.7 363.0 447.9 360.9C474.0 358.8 480.5 345.9 492.0 360.0C503.5 374.1 489.7 377.9 482.5 403.1C475.4 428.3 479.8 418.4 470.5 435.7Z" fill="url(#gb)"/><path d="M609.0 235.0C609.0 255.3 610.7 247.9 602.2 265.5C593.7 283.1 598.2 277.7 583.5 287.8C568.8 298.0 575.0 296.0 558.0 296.0C541.0 296.0 547.2 298.0 532.5 287.8C517.8 277.7 522.3 283.1 513.8 265.5C505.3 247.9 507.0 255.3 507.0 235.0C507.0 214.7 505.3 222.1 513.8 204.5C522.3 186.9 517.8 192.3 532.5 182.2C547.2 172.0 541.0 174.0 558.0 174.0C575.0 174.0 568.8 172.0 583.5 182.2C598.2 192.3 593.7 186.9 602.2 204.5C610.7 222.1 609.0 214.7 609.0 235.0Z" fill="url(#gr)"/><path d="M609.0 410.0C609.0 430.3 610.7 422.9 602.2 440.5C593.7 458.1 598.2 452.7 583.5 462.8C568.8 473.0 575.0 471.0 558.0 471.0C541.0 471.0 547.2 473.0 532.5 462.8C517.8 452.7 522.3 458.1 513.8 440.5C505.3 422.9 507.0 430.3 507.0 410.0C507.0 389.7 505.3 397.1 513.8 379.5C522.3 361.9 517.8 367.3 532.5 357.2C547.2 347.0 541.0 349.0 558.0 349.0C575.0 349.0 568.8 347.0 583.5 357.2C598.2 367.3 593.7 361.9 602.2 379.5C610.7 397.1 609.0 389.7 609.0 410.0Z" fill="url(#gr)"/><path d="M675.6 228.0C649.2 231.2 653.2 226.1 627.6 245.5C602.0 264.9 610.0 259.7 598.8 286.2C587.6 312.7 593.2 297.8 594.0 325.0C594.8 352.2 588.4 339.9 601.2 367.7C614.0 395.5 606.8 390.3 632.4 408.4C658.0 426.5 653.2 420.1 678.0 422.0C702.8 423.9 694.8 425.2 706.8 414.2C718.8 403.2 715.6 418.8 714.0 389.0C712.4 359.3 702.0 367.7 702.0 325.0C702.0 282.3 712.4 290.7 714.0 261.0C715.6 231.2 719.6 246.8 706.8 235.8C694.0 224.8 702.0 224.8 675.6 228.0Z" fill="url(#gb)"/><path d="M809.0 200.0C809.0 213.7 810.3 208.7 803.5 220.5C796.7 232.3 800.3 228.7 788.5 235.5C776.7 242.3 781.7 241.0 768.0 241.0C754.3 241.0 759.3 242.3 747.5 235.5C735.7 228.7 739.3 232.3 732.5 220.5C725.7 208.7 727.0 213.7 727.0 200.0C727.0 186.3 725.7 191.3 732.5 179.5C739.3 167.7 735.7 171.3 747.5 164.5C759.3 157.7 754.3 159.0 768.0 159.0C781.7 159.0 776.7 157.7 788.5 164.5C800.3 171.3 796.7 167.7 803.5 179.5C810.3 191.3 809.0 186.3 809.0 200.0Z" fill="url(#gr)"/><path d="M809.0 448.0C809.0 461.7 810.3 456.7 803.5 468.5C796.7 480.3 800.3 476.7 788.5 483.5C776.7 490.3 781.7 489.0 768.0 489.0C754.3 489.0 759.3 490.3 747.5 483.5C735.7 476.7 739.3 480.3 732.5 468.5C725.7 456.7 727.0 461.7 727.0 448.0C727.0 434.3 725.7 439.3 732.5 427.5C739.3 415.7 735.7 419.3 747.5 412.5C759.3 405.7 754.3 407.0 768.0 407.0C781.7 407.0 776.7 405.7 788.5 412.5C800.3 419.3 796.7 415.7 803.5 427.5C810.3 439.3 809.0 434.3 809.0 448.0Z" fill="url(#gr)"/></g>
<g transform="translate(95.00,585.00) scale(0.12552)" filter="url(#bl)" stroke-linecap="round"><line x1="310" y1="230" x2="310" y2="345" stroke="#6e6e6e" stroke-width="14"/><line x1="470" y1="240" x2="470" y2="335" stroke="#6e6e6e" stroke-width="14"/><line x1="625" y1="250" x2="625" y2="335" stroke="#6e6e6e" stroke-width="14"/><line x1="655" y1="235" x2="758" y2="175" stroke="#6e6e6e" stroke-width="14"/><line x1="655" y1="360" x2="752" y2="427" stroke="#6e6e6e" stroke-width="14"/><line x1="310" y1="240" x2="348" y2="225" stroke="#6e6e6e" stroke-width="14"/><line x1="310" y1="335" x2="348" y2="360" stroke="#6e6e6e" stroke-width="14"/><line x1="490" y1="238" x2="525" y2="215" stroke="#6e6e6e" stroke-width="14"/><line x1="485" y1="350" x2="520" y2="380" stroke="#6e6e6e" stroke-width="14"/><line x1="135" y1="285" x2="300" y2="285" stroke="#6e6e6e" stroke-width="14"/><path d="M80.4 229.9C78.8 197.6 71.6 201.5 94.8 164.8C118.0 128.0 108.4 140.3 150.0 119.7C191.6 99.1 178.8 102.4 219.6 103.0C260.4 103.6 246.0 100.8 272.4 121.4C298.8 142.0 285.6 131.9 298.8 164.8C312.0 197.6 305.6 186.2 312.0 219.9C318.4 253.6 335.2 249.1 318.0 265.8C300.8 282.5 313.2 269.2 260.4 270.0C207.6 270.8 213.2 271.1 159.6 268.3C106.0 265.5 126.0 274.5 99.6 261.6C73.2 248.8 82.0 262.2 80.4 229.9Z" fill="url(#gr)"/><path d="M76.4 342.8C74.8 375.7 67.5 371.7 91.1 409.1C114.7 446.5 104.9 434.0 147.2 455.0C189.5 476.0 176.5 472.6 218.0 472.0C259.4 471.4 244.8 474.3 271.6 453.3C298.5 432.3 285.1 442.5 298.5 409.1C311.9 375.7 305.4 387.3 311.9 353.0C318.4 318.7 335.5 323.2 318.0 306.2C300.5 289.2 313.1 302.9 259.4 302.0C205.8 301.1 211.5 300.9 157.0 303.7C102.5 306.5 122.8 297.5 96.0 310.5C69.1 323.5 78.1 309.9 76.4 342.8Z" fill="url(#gb)"/><path d="M484.6 253.8C473.5 269.6 479.9 265.4 458.7 271.0C437.5 276.6 446.6 276.7 421.0 270.5C395.4 264.4 404.9 268.8 381.7 252.5C358.5 236.3 365.9 243.8 351.4 221.8C336.8 199.8 340.1 208.4 338.1 186.5C336.1 164.7 334.3 172.1 345.4 156.2C356.5 140.4 350.1 144.6 371.3 139.0C392.5 133.4 383.4 133.3 409.0 139.5C434.6 145.6 425.1 141.2 448.3 157.5C471.5 173.7 464.1 166.2 478.6 188.2C493.2 210.2 489.9 201.6 491.9 223.5C493.9 245.3 495.7 237.9 484.6 253.8Z" fill="url(#gb)"/><path d="M477.0 327.7C488.9 342.9 486.7 335.6 485.9 357.5C485.0 379.4 487.8 370.7 474.4 393.4C461.0 416.1 468.0 408.3 445.7 425.7C423.4 443.1 432.7 438.3 407.4 445.7C382.1 453.2 391.3 452.6 369.8 448.2C348.4 443.7 354.9 447.6 343.0 432.3C331.1 417.1 333.3 424.4 334.1 402.5C335.0 380.6 332.2 389.3 345.6 366.6C359.0 343.9 352.0 351.7 374.3 334.3C396.6 316.9 387.3 321.7 412.6 314.3C437.9 306.8 428.7 307.4 450.2 311.8C471.6 316.3 465.1 312.4 477.0 327.7Z" fill="url(#gr)"/><path d="M652.8 251.0C646.5 262.0 651.0 259.2 634.5 262.4C618.0 265.5 625.6 266.0 603.5 260.5C581.3 255.0 589.9 258.6 568.0 245.9C546.1 233.2 553.5 239.0 537.6 222.5C521.8 206.0 526.0 212.4 520.5 196.5C515.0 180.7 514.8 186.0 521.2 175.0C527.5 164.0 523.0 166.8 539.5 163.6C556.0 160.5 548.4 160.0 570.5 165.5C592.7 171.0 584.1 167.4 606.0 180.1C627.9 192.8 620.5 187.0 636.4 203.5C652.2 220.0 648.0 213.6 653.5 229.5C659.0 245.3 659.2 240.0 652.8 251.0Z" fill="url(#gr)"/><path d="M652.1 339.3C657.7 349.9 657.9 344.9 651.6 360.0C645.3 375.1 649.7 369.1 633.2 384.7C616.6 400.3 624.3 394.9 601.9 406.8C579.5 418.7 588.3 415.4 566.1 420.4C543.9 425.4 551.4 425.0 535.3 421.8C519.3 418.6 523.5 421.3 517.9 410.7C512.3 400.1 512.1 405.1 518.4 390.0C524.7 374.9 520.3 380.9 536.8 365.3C553.4 349.7 545.7 355.1 568.1 343.2C590.5 331.3 581.7 334.6 603.9 329.6C626.1 324.6 618.6 325.0 634.7 328.2C650.7 331.4 646.5 328.7 652.1 339.3Z" fill="url(#gb)"/><path d="M811.0 162.0C811.0 172.0 812.1 168.3 806.6 177.0C801.1 185.7 804.0 183.0 794.5 188.0C785.0 193.0 789.0 192.0 778.0 192.0C767.0 192.0 771.0 193.0 761.5 188.0C752.0 183.0 754.9 185.7 749.4 177.0C743.9 168.3 745.0 172.0 745.0 162.0C745.0 152.0 743.9 155.7 749.4 147.0C754.9 138.3 752.0 141.0 761.5 136.0C771.0 131.0 767.0 132.0 778.0 132.0C789.0 132.0 785.0 131.0 794.5 136.0C804.0 141.0 801.1 138.3 806.6 147.0C812.1 155.7 811.0 152.0 811.0 162.0Z" fill="url(#gb)"/><path d="M803.0 438.0C803.0 448.3 804.1 444.6 798.6 453.5C793.1 462.4 796.0 459.7 786.5 464.8C777.0 470.0 781.0 469.0 770.0 469.0C759.0 469.0 763.0 470.0 753.5 464.8C744.0 459.7 746.9 462.4 741.4 453.5C735.9 444.6 737.0 448.3 737.0 438.0C737.0 427.7 735.9 431.4 741.4 422.5C746.9 413.6 744.0 416.3 753.5 411.2C763.0 406.0 759.0 407.0 770.0 407.0C781.0 407.0 777.0 406.0 786.5 411.2C796.0 416.3 793.1 413.6 798.6 422.5C804.1 431.4 803.0 427.7 803.0 438.0Z" fill="url(#gr)"/></g>
<g transform="translate(230.00,585.00) scale(0.12552)" filter="url(#bl)" stroke-linecap="round"><line x1="162" y1="125" x2="155" y2="185" stroke="#6e6e6e" stroke-width="14"/><line x1="155" y1="185" x2="188" y2="215" stroke="#6e6e6e" stroke-width="14"/><line x1="155" y1="400" x2="162" y2="465" stroke="#6e6e6e" stroke-width="14"/><line x1="155" y1="400" x2="188" y2="370" stroke="#6e6e6e" stroke-width="14"/><line x1="395" y1="235" x2="395" y2="340" stroke="#6e6e6e" stroke-width="14"/><line x1="545" y1="250" x2="545" y2="325" stroke="#6e6e6e" stroke-width="14"/><line x1="695" y1="255" x2="695" y2="332" stroke="#6e6e6e" stroke-width="14"/><line x1="720" y1="230" x2="818" y2="175" stroke="#6e6e6e" stroke-width="14"/><line x1="720" y1="355" x2="812" y2="410" stroke="#6e6e6e" stroke-width="14"/><line x1="230" y1="290" x2="390" y2="290" stroke="#6e6e6e" stroke-width="14"/><line x1="400" y1="240" x2="430" y2="225" stroke="#6e6e6e" stroke-width="14"/><line x1="400" y1="335" x2="430" y2="355" stroke="#6e6e6e" stroke-width="14"/><line x1="565" y1="245" x2="598" y2="220" stroke="#6e6e6e" stroke-width="14"/><line x1="560" y1="345" x2="598" y2="372" stroke="#6e6e6e" stroke-width="14"/><path d="M153.0 200.0C153.0 212.0 154.3 207.6 147.5 218.0C140.7 228.4 144.3 225.2 132.5 231.2C120.7 237.2 125.7 236.0 112.0 236.0C98.3 236.0 103.3 237.2 91.5 231.2C79.7 225.2 83.3 228.4 76.5 218.0C69.7 207.6 71.0 212.0 71.0 200.0C71.0 188.0 69.7 192.4 76.5 182.0C83.3 171.6 79.7 174.8 91.5 168.8C103.3 162.8 98.3 164.0 112.0 164.0C125.7 164.0 120.7 162.8 132.5 168.8C144.3 174.8 140.7 171.6 147.5 182.0C154.3 192.4 153.0 188.0 153.0 200.0Z" fill="url(#gb)"/><path d="M149.0 378.0C149.0 391.7 150.3 386.7 143.8 398.5C137.3 410.3 140.8 406.7 129.5 413.5C118.2 420.3 123.0 419.0 110.0 419.0C97.0 419.0 101.8 420.3 90.5 413.5C79.2 406.7 82.7 410.3 76.2 398.5C69.7 386.7 71.0 391.7 71.0 378.0C71.0 364.3 69.7 369.3 76.2 357.5C82.7 345.7 79.2 349.3 90.5 342.5C101.8 335.7 97.0 337.0 110.0 337.0C123.0 337.0 118.2 335.7 129.5 342.5C140.8 349.3 137.3 345.7 143.8 357.5C150.3 369.3 149.0 364.3 149.0 378.0Z" fill="url(#gr)"/><path d="M185.2 238.8C183.8 208.1 177.0 211.8 198.8 176.8C220.5 141.8 211.5 153.5 250.5 133.9C289.5 114.3 277.5 117.5 315.8 118.0C354.0 118.5 340.5 115.9 365.2 135.5C390.0 155.1 377.6 145.6 390.0 176.8C402.4 208.1 396.4 197.2 402.4 229.3C408.4 261.4 424.1 257.1 408.0 273.0C391.9 288.9 403.5 276.2 354.0 277.0C304.5 277.8 309.8 278.1 259.5 275.4C209.2 272.8 228.0 281.2 203.2 269.0C178.5 256.9 186.8 269.6 185.2 238.8Z" fill="url(#gr)"/><path d="M185.2 341.2C183.8 371.9 177.0 368.2 198.8 403.2C220.5 438.2 211.5 426.5 250.5 446.1C289.5 465.7 277.5 462.5 315.8 462.0C354.0 461.5 340.5 464.1 365.2 444.5C390.0 424.9 377.6 434.4 390.0 403.2C402.4 371.9 396.4 382.8 402.4 350.7C408.4 318.6 424.1 322.9 408.0 307.0C391.9 291.1 403.5 303.8 354.0 303.0C304.5 302.2 309.8 301.9 259.5 304.6C209.2 307.2 228.0 298.8 203.2 311.0C178.5 323.1 186.8 310.4 185.2 341.2Z" fill="url(#gb)"/><path d="M563.0 259.4C552.0 274.5 558.2 270.6 537.4 275.4C516.6 280.3 525.6 280.6 500.5 273.9C475.4 267.2 484.7 271.8 462.1 255.3C439.4 238.8 446.6 246.4 432.5 224.5C418.4 202.7 421.5 211.2 419.7 189.9C417.9 168.6 416.1 175.7 427.0 160.6C438.0 145.5 431.8 149.4 452.6 144.6C473.4 139.7 464.4 139.4 489.5 146.1C514.6 152.8 505.3 148.2 527.9 164.7C550.6 181.2 543.4 173.6 557.5 195.5C571.6 217.3 568.5 208.8 570.3 230.1C572.1 251.4 573.9 244.3 563.0 259.4Z" fill="url(#gb)"/><path d="M554.6 324.5C566.1 339.2 564.0 332.2 563.2 353.3C562.4 374.5 565.1 366.0 552.2 388.0C539.3 409.9 546.0 402.3 524.5 419.1C502.9 436.0 511.9 431.2 487.5 438.5C463.2 445.7 472.0 445.1 451.3 440.8C430.6 436.5 436.9 440.2 425.4 425.5C413.9 410.8 416.0 417.8 416.8 396.7C417.6 375.5 414.9 384.0 427.8 362.0C440.7 340.1 434.0 347.7 455.5 330.9C477.1 314.0 468.1 318.8 492.5 311.5C516.8 304.3 508.0 304.9 528.7 309.2C549.4 313.5 543.1 309.8 554.6 324.5Z" fill="url(#gr)"/><path d="M718.7 252.1C712.4 262.7 716.7 260.0 700.9 263.0C685.1 265.9 692.3 266.4 671.4 261.0C650.4 255.6 658.5 259.1 637.9 246.7C617.4 234.4 624.3 239.9 609.6 223.9C595.0 207.9 598.8 214.1 594.0 198.7C589.2 183.4 588.9 188.5 595.3 177.9C601.6 167.3 597.3 170.0 613.1 167.0C628.9 164.1 621.7 163.6 642.6 169.0C663.6 174.4 655.5 170.9 676.1 183.3C696.6 195.6 689.7 190.1 704.4 206.1C719.0 222.1 715.2 215.9 720.0 231.3C724.8 246.6 725.1 241.5 718.7 252.1Z" fill="url(#gr)"/><path d="M718.0 335.1C723.6 345.3 723.6 340.4 718.0 355.1C712.4 369.7 716.5 363.9 701.2 379.1C685.8 394.2 693.0 389.0 672.0 400.6C651.0 412.2 659.2 409.0 638.2 414.0C617.2 418.9 624.3 418.6 608.9 415.5C593.6 412.5 597.7 415.1 592.0 404.9C586.4 394.7 586.4 399.6 592.0 384.9C597.6 370.3 593.5 376.1 608.8 360.9C624.2 345.8 617.0 351.0 638.0 339.4C659.0 327.8 650.8 331.0 671.8 326.0C692.8 321.1 685.7 321.4 701.1 324.5C716.4 327.5 712.3 324.9 718.0 335.1Z" fill="url(#gb)"/><path d="M869.0 162.0C869.0 171.3 870.0 167.9 864.8 176.0C859.7 184.1 862.4 181.6 853.5 186.2C844.6 190.9 848.3 190.0 838.0 190.0C827.7 190.0 831.4 190.9 822.5 186.2C813.6 181.6 816.3 184.1 811.2 176.0C806.0 167.9 807.0 171.3 807.0 162.0C807.0 152.7 806.0 156.1 811.2 148.0C816.3 139.9 813.6 142.4 822.5 137.8C831.4 133.1 827.7 134.0 838.0 134.0C848.3 134.0 844.6 133.1 853.5 137.8C862.4 142.4 859.7 139.9 864.8 148.0C870.0 156.1 869.0 152.7 869.0 162.0Z" fill="url(#gb)"/><path d="M866.0 425.0C866.0 435.0 867.0 431.3 861.8 440.0C856.7 448.7 859.4 446.0 850.5 451.0C841.6 456.0 845.3 455.0 835.0 455.0C824.7 455.0 828.4 456.0 819.5 451.0C810.6 446.0 813.3 448.7 808.2 440.0C803.0 431.3 804.0 435.0 804.0 425.0C804.0 415.0 803.0 418.7 808.2 410.0C813.3 401.3 810.6 404.0 819.5 399.0C828.4 394.0 824.7 395.0 835.0 395.0C845.3 395.0 841.6 394.0 850.5 399.0C859.4 404.0 856.7 401.3 861.8 410.0C867.0 418.7 866.0 415.0 866.0 425.0Z" fill="url(#gr)"/></g>
<g transform="translate(355.00,590.00) scale(0.12850)" filter="url(#bl)" stroke-linecap="round"><line x1="150" y1="232" x2="272" y2="232" stroke="#6e6e6e" stroke-width="14"/><line x1="205" y1="100" x2="240" y2="100" stroke="#6e6e6e" stroke-width="14"/><line x1="185" y1="250" x2="228" y2="250" stroke="#6e6e6e" stroke-width="14"/><line x1="160" y1="405" x2="268" y2="405" stroke="#6e6e6e" stroke-width="14"/><line x1="205" y1="555" x2="238" y2="555" stroke="#6e6e6e" stroke-width="14"/><line x1="380" y1="215" x2="380" y2="292" stroke="#6e6e6e" stroke-width="14"/><line x1="690" y1="190" x2="782" y2="135" stroke="#6e6e6e" stroke-width="14"/><line x1="665" y1="295" x2="792" y2="367" stroke="#6e6e6e" stroke-width="14"/><line x1="520" y1="215" x2="520" y2="300" stroke="#6e6e6e" stroke-width="14"/><line x1="520" y1="300" x2="572" y2="322" stroke="#6e6e6e" stroke-width="14"/><line x1="620" y1="320" x2="665" y2="295" stroke="#6e6e6e" stroke-width="14"/><line x1="665" y1="230" x2="665" y2="295" stroke="#6e6e6e" stroke-width="14"/><line x1="548" y1="190" x2="582" y2="165" stroke="#6e6e6e" stroke-width="14"/><line x1="610" y1="165" x2="642" y2="185" stroke="#6e6e6e" stroke-width="14"/><line x1="140" y1="45" x2="150" y2="60" stroke="#6e6e6e" stroke-width="14"/><line x1="290" y1="45" x2="280" y2="60" stroke="#6e6e6e" stroke-width="14"/><line x1="50" y1="170" x2="65" y2="170" stroke="#6e6e6e" stroke-width="14"/><line x1="140" y1="610" x2="150" y2="598" stroke="#6e6e6e" stroke-width="14"/><line x1="295" y1="605" x2="285" y2="595" stroke="#6e6e6e" stroke-width="14"/><line x1="365" y1="480" x2="352" y2="480" stroke="#6e6e6e" stroke-width="14"/><line x1="578" y1="162" x2="604" y2="162" stroke="#3838e8" stroke-width="9"/><line x1="783" y1="370" x2="806" y2="376" stroke="#3838e8" stroke-width="9"/><path d="M189.4 157.4C177.5 182.7 183.7 174.3 164.3 192.0C145.0 209.8 153.1 205.2 131.4 210.6C109.8 216.0 117.6 216.6 99.5 208.1C81.4 199.7 86.8 205.3 77.1 185.3C67.3 165.2 69.0 174.3 70.2 148.1C71.3 121.9 68.8 132.0 80.6 106.6C92.5 81.3 86.3 89.7 105.7 72.0C125.0 54.2 116.9 58.8 138.6 53.4C160.2 48.0 152.4 47.4 170.5 55.9C188.6 64.3 183.2 58.7 192.9 78.7C202.7 98.8 201.0 89.7 199.8 115.9C198.7 142.1 201.2 132.0 189.4 157.4Z" fill="url(#gb)"/><path d="M242.0 72.0C260.7 49.3 260.0 48.0 292.0 64.0C324.0 80.0 308.0 80.7 338.0 120.0C368.0 159.3 358.7 149.7 382.0 182.0C405.3 214.3 422.0 205.7 408.0 217.0C394.0 228.3 385.3 225.7 340.0 216.0C294.7 206.3 306.7 216.0 272.0 188.0C237.3 160.0 246.0 170.7 236.0 132.0C226.0 93.3 223.3 94.7 242.0 72.0Z" fill="url(#gr)"/><path d="M125.0 235.0C158.3 226.7 154.0 211.7 175.0 240.0C196.0 268.3 186.3 266.7 188.0 320.0C189.7 373.3 201.0 371.7 180.0 400.0C159.0 428.3 160.0 413.3 125.0 405.0C90.0 396.7 98.3 403.3 75.0 375.0C51.7 346.7 55.0 356.7 55.0 320.0C55.0 283.3 51.7 293.3 75.0 265.0C98.3 236.7 91.7 243.3 125.0 235.0Z" fill="url(#gr)"/><path d="M228.0 240.0C251.0 216.7 249.3 238.7 290.0 250.0C330.7 261.3 315.7 260.0 350.0 274.0C384.3 288.0 392.3 268.3 393.0 292.0C393.7 315.7 385.7 314.0 352.0 345.0C318.3 376.0 329.3 369.3 292.0 385.0C254.7 400.7 263.7 413.7 240.0 392.0C216.3 370.3 225.0 370.7 221.0 320.0C217.0 269.3 205.0 263.3 228.0 240.0Z" fill="url(#gb)"/><path d="M192.5 491.8C203.5 519.0 201.3 508.3 201.3 535.7C201.2 563.1 203.4 553.7 192.3 574.0C181.2 594.4 187.1 588.9 168.0 596.6C148.8 604.3 156.9 604.2 134.8 597.3C112.7 590.4 120.8 595.6 101.7 575.9C82.6 556.2 88.5 565.4 77.5 538.2C66.5 511.0 68.7 521.7 68.7 494.3C68.8 466.9 66.6 476.3 77.7 456.0C88.8 435.6 82.9 441.1 102.0 433.4C121.2 425.7 113.1 425.8 135.2 432.7C157.3 439.6 149.2 434.4 168.3 454.1C187.4 473.8 181.5 464.6 192.5 491.8Z" fill="url(#gb)"/><path d="M358.8 527.1C351.2 555.4 356.0 545.6 338.8 567.3C321.6 589.0 329.4 582.9 307.2 592.2C285.0 601.4 293.5 600.7 272.2 595.0C251.0 589.3 258.0 594.2 243.4 575.1C228.8 556.0 232.5 565.1 228.4 537.7C224.4 510.3 223.7 521.3 231.2 492.9C238.8 464.6 234.0 474.4 251.2 452.7C268.4 431.0 260.6 437.1 282.8 427.8C305.0 418.6 296.5 419.3 317.8 425.0C339.0 430.7 332.0 425.8 346.6 444.9C361.2 464.0 357.5 454.9 361.6 482.3C365.6 509.7 366.3 498.7 358.8 527.1Z" fill="url(#gr)"/><path d="M547.3 210.9C543.4 219.0 546.8 217.0 533.5 219.2C520.2 221.4 526.5 221.8 507.4 217.5C488.3 213.2 495.9 215.9 476.2 206.3C456.4 196.6 463.2 200.9 448.1 188.5C432.9 176.2 437.2 180.9 430.7 169.1C424.2 157.2 424.7 161.2 428.7 153.1C432.6 145.0 429.2 147.0 442.5 144.8C455.8 142.6 449.5 142.2 468.6 146.5C487.7 150.8 480.1 148.1 499.8 157.7C519.6 167.4 512.8 163.1 527.9 175.5C543.1 187.8 538.8 183.1 545.3 194.9C551.8 206.8 551.3 202.8 547.3 210.9Z" fill="url(#gb)"/><path d="M550.0 208.0C550.0 216.7 550.7 213.5 547.1 221.0C543.4 228.5 545.4 226.2 539.0 230.5C532.6 234.8 535.3 234.0 528.0 234.0C520.7 234.0 523.4 234.8 517.0 230.5C510.6 226.2 512.6 228.5 508.9 221.0C505.3 213.5 506.0 216.7 506.0 208.0C506.0 199.3 505.3 202.5 508.9 195.0C512.6 187.5 510.6 189.8 517.0 185.5C523.4 181.2 520.7 182.0 528.0 182.0C535.3 182.0 532.6 181.2 539.0 185.5C545.4 189.8 543.4 187.5 547.1 195.0C550.7 202.5 550.0 199.3 550.0 208.0Z" fill="url(#gb)"/><path d="M504.0 335.0C504.0 350.3 505.6 344.7 497.4 358.0C489.3 371.3 493.6 367.2 479.5 374.8C465.4 382.5 471.3 381.0 455.0 381.0C438.7 381.0 444.6 382.5 430.5 374.8C416.4 367.2 420.7 371.3 412.6 358.0C404.4 344.7 406.0 350.3 406.0 335.0C406.0 319.7 404.4 325.3 412.6 312.0C420.7 298.7 416.4 302.8 430.5 295.2C444.6 287.5 438.7 289.0 455.0 289.0C471.3 289.0 465.4 287.5 479.5 295.2C493.6 302.8 489.3 298.7 497.4 312.0C505.6 325.3 504.0 319.7 504.0 335.0Z" fill="url(#gr)"/><path d="M693.0 200.0C693.0 211.0 694.1 207.0 688.6 216.5C683.1 226.0 686.0 223.1 676.5 228.6C667.0 234.1 671.0 233.0 660.0 233.0C649.0 233.0 653.0 234.1 643.5 228.6C634.0 223.1 636.9 226.0 631.4 216.5C625.9 207.0 627.0 211.0 627.0 200.0C627.0 189.0 625.9 193.0 631.4 183.5C636.9 174.0 634.0 176.9 643.5 171.4C653.0 165.9 649.0 167.0 660.0 167.0C671.0 167.0 667.0 165.9 676.5 171.4C686.0 176.9 683.1 174.0 688.6 183.5C694.1 193.0 693.0 189.0 693.0 200.0Z" fill="url(#gr)"/><path d="M624.0 330.0C624.0 339.0 624.9 335.7 620.1 343.5C615.3 351.3 617.9 348.9 609.5 353.4C601.1 357.9 604.7 357.0 595.0 357.0C585.3 357.0 588.9 357.9 580.5 353.4C572.1 348.9 574.7 351.3 569.9 343.5C565.1 335.7 566.0 339.0 566.0 330.0C566.0 321.0 565.1 324.3 569.9 316.5C574.7 308.7 572.1 311.1 580.5 306.6C588.9 302.1 585.3 303.0 595.0 303.0C604.7 303.0 601.1 302.1 609.5 306.6C617.9 311.1 615.3 308.7 620.1 316.5C624.9 324.3 624.0 321.0 624.0 330.0Z" fill="url(#gb)"/><path d="M826.0 122.0C826.0 129.7 826.8 126.9 822.5 133.5C818.2 140.1 820.5 138.1 813.0 141.9C805.5 145.8 808.7 145.0 800.0 145.0C791.3 145.0 794.5 145.8 787.0 141.9C779.5 138.1 781.8 140.1 777.5 133.5C773.2 126.9 774.0 129.7 774.0 122.0C774.0 114.3 773.2 117.1 777.5 110.5C781.8 103.9 779.5 105.9 787.0 102.1C794.5 98.2 791.3 99.0 800.0 99.0C808.7 99.0 805.5 98.2 813.0 102.1C820.5 105.9 818.2 103.9 822.5 110.5C826.8 117.1 826.0 114.3 826.0 122.0Z" fill="url(#gb)"/></g>
<g transform="translate(490.00,590.00) scale(0.12850)" filter="url(#bl)" stroke-linecap="round"><line x1="155" y1="290" x2="268" y2="290" stroke="#6e6e6e" stroke-width="14"/><line x1="215" y1="130" x2="242" y2="130" stroke="#6e6e6e" stroke-width="14"/><line x1="215" y1="440" x2="242" y2="440" stroke="#6e6e6e" stroke-width="14"/><line x1="395" y1="250" x2="395" y2="332" stroke="#6e6e6e" stroke-width="14"/><line x1="690" y1="235" x2="812" y2="170" stroke="#6e6e6e" stroke-width="14"/><line x1="690" y1="345" x2="812" y2="415" stroke="#6e6e6e" stroke-width="14"/><line x1="685" y1="240" x2="685" y2="342" stroke="#6e6e6e" stroke-width="14"/><line x1="545" y1="250" x2="545" y2="332" stroke="#6e6e6e" stroke-width="14"/><line x1="550" y1="235" x2="592" y2="210" stroke="#6e6e6e" stroke-width="14"/><line x1="550" y1="340" x2="592" y2="370" stroke="#6e6e6e" stroke-width="14"/><line x1="140" y1="75" x2="150" y2="90" stroke="#6e6e6e" stroke-width="14"/><line x1="298" y1="78" x2="290" y2="92" stroke="#6e6e6e" stroke-width="14"/><line x1="140" y1="505" x2="150" y2="492" stroke="#6e6e6e" stroke-width="14"/><line x1="298" y1="502" x2="290" y2="490" stroke="#6e6e6e" stroke-width="14"/><line x1="398" y1="250" x2="432" y2="228" stroke="#6e6e6e" stroke-width="14"/><line x1="398" y1="335" x2="432" y2="358" stroke="#6e6e6e" stroke-width="14"/><path d="M205.7 209.3C193.3 239.9 200.1 229.6 178.1 251.6C156.1 273.5 165.4 267.8 139.7 275.2C114.0 282.6 123.5 282.9 100.9 273.8C78.4 264.7 85.4 271.0 72.0 247.8C58.7 224.6 61.4 235.3 60.8 204.2C60.3 173.2 58.0 185.3 70.3 154.7C82.7 124.1 75.9 134.4 97.9 112.4C119.9 90.5 110.6 96.2 136.3 88.8C162.0 81.4 152.5 81.1 175.1 90.2C197.6 99.3 190.6 93.0 204.0 116.2C217.3 139.4 214.6 128.7 215.2 159.8C215.7 190.8 218.0 178.7 205.7 209.3Z" fill="url(#gb)"/><path d="M245.0 105.0C265.0 74.0 265.0 83.7 295.0 92.0C325.0 100.3 309.3 95.7 335.0 130.0C360.7 164.3 349.7 155.7 372.0 195.0C394.3 234.3 411.0 223.0 402.0 248.0C393.0 273.0 382.3 260.3 345.0 270.0C307.7 279.7 323.3 279.7 290.0 277.0C256.7 274.3 263.3 292.7 245.0 262.0C226.7 231.3 235.0 237.3 235.0 185.0C235.0 132.7 225.0 136.0 245.0 105.0Z" fill="url(#gr)"/><path d="M202.7 377.7C215.0 408.3 212.7 396.2 212.2 427.2C211.6 458.3 214.3 447.6 201.0 470.8C187.6 494.0 194.6 487.7 172.1 496.8C149.5 505.9 159.0 505.6 133.3 498.2C107.6 490.8 116.9 496.5 94.9 474.6C72.9 452.6 79.7 462.9 67.3 432.3C55.0 401.7 57.3 413.8 57.8 382.8C58.4 351.7 55.7 362.4 69.0 339.2C82.4 316.0 75.4 322.3 97.9 313.2C120.5 304.1 111.0 304.4 136.7 311.8C162.4 319.2 153.1 313.5 175.1 335.4C197.1 357.4 190.3 347.1 202.7 377.7Z" fill="url(#gr)"/><path d="M245.0 480.0C265.0 510.7 265.0 500.3 295.0 492.0C325.0 483.7 309.3 489.0 335.0 455.0C360.7 421.0 349.7 429.3 372.0 390.0C394.3 350.7 411.0 361.0 402.0 337.0C393.0 313.0 382.3 326.3 345.0 318.0C307.7 309.7 323.3 309.7 290.0 312.0C256.7 314.3 263.3 295.7 245.0 325.0C226.7 354.3 235.0 348.3 235.0 400.0C235.0 451.7 225.0 449.3 245.0 480.0Z" fill="url(#gb)"/><path d="M463.7 241.8C442.4 237.2 454.7 242.3 443.0 234.2C431.3 226.1 434.9 230.3 428.6 217.5C422.2 204.7 423.4 210.1 424.0 195.9C424.7 181.7 423.1 186.9 430.6 174.8C438.1 162.7 434.1 166.5 446.5 159.6C459.0 152.6 453.6 154.0 467.9 154.0C482.1 154.0 476.8 152.6 489.2 159.5C501.7 166.3 491.7 157.7 505.3 174.6C518.9 191.6 514.5 185.2 530.1 210.3C545.6 235.5 559.8 237.4 552.0 250.0C544.2 262.6 536.2 250.8 506.7 248.1C477.3 245.3 484.9 246.4 463.7 241.8Z" fill="url(#gb)"/><path d="M505.5 411.1C491.9 428.2 502.0 419.4 489.6 426.4C477.2 433.3 482.5 431.9 468.2 432.0C454.0 432.1 459.3 433.4 446.9 426.6C434.4 419.7 438.4 423.5 430.8 411.5C423.2 399.4 424.9 404.7 424.1 390.5C423.3 376.3 422.2 381.7 428.4 368.8C434.6 356.0 431.0 360.2 442.7 352.0C454.3 343.8 442.0 349.1 463.3 344.3C484.6 339.4 477.0 340.5 506.6 337.4C536.1 334.4 544.1 322.5 552.0 335.0C559.9 347.5 545.7 349.6 530.2 375.0C514.7 400.3 519.0 393.9 505.5 411.1Z" fill="url(#gr)"/><path d="M695.7 251.0C691.5 258.2 694.8 256.6 682.2 257.7C669.7 258.8 675.6 259.6 658.0 254.2C640.4 248.9 647.4 252.0 629.5 241.7C611.6 231.3 617.7 235.8 604.3 223.2C590.9 210.7 594.6 215.4 589.2 204.0C583.9 192.6 584.1 196.2 588.3 189.0C592.5 181.8 589.2 183.4 601.8 182.3C614.3 181.2 608.4 180.4 626.0 185.8C643.6 191.1 636.6 188.0 654.5 198.3C672.4 208.7 666.3 204.2 679.7 216.8C693.1 229.3 689.4 224.6 694.8 236.0C700.1 247.4 699.9 243.8 695.7 251.0Z" fill="url(#gr)"/><path d="M696.7 338.9C700.7 346.3 701.0 342.6 695.3 353.8C689.5 365.1 693.4 360.5 679.5 372.6C665.7 384.6 672.0 380.4 653.7 390.1C635.5 399.8 642.6 396.9 624.8 401.7C607.0 406.4 613.0 405.8 600.5 404.2C587.9 402.7 591.2 404.5 587.3 397.1C583.3 389.7 583.0 393.4 588.7 382.2C594.5 370.9 590.6 375.5 604.5 363.4C618.3 351.4 612.0 355.6 630.3 345.9C648.5 336.2 641.4 339.1 659.2 334.3C677.0 329.6 671.0 330.2 683.5 331.8C696.1 333.3 692.8 331.5 696.7 338.9Z" fill="url(#gb)"/><path d="M838.0 162.0C838.0 167.3 838.5 165.4 835.9 170.0C833.2 174.6 834.6 173.2 830.0 175.9C825.4 178.5 827.3 178.0 822.0 178.0C816.7 178.0 818.6 178.5 814.0 175.9C809.4 173.2 810.8 174.6 808.1 170.0C805.5 165.4 806.0 167.3 806.0 162.0C806.0 156.7 805.5 158.6 808.1 154.0C810.8 149.4 809.4 150.8 814.0 148.1C818.6 145.5 816.7 146.0 822.0 146.0C827.3 146.0 825.4 145.5 830.0 148.1C834.6 150.8 833.2 149.4 835.9 154.0C838.5 158.6 838.0 156.7 838.0 162.0Z" fill="url(#gb)"/><path d="M838.0 420.0C838.0 425.3 838.5 423.4 835.9 428.0C833.2 432.6 834.6 431.2 830.0 433.9C825.4 436.5 827.3 436.0 822.0 436.0C816.7 436.0 818.6 436.5 814.0 433.9C809.4 431.2 810.8 432.6 808.1 428.0C805.5 423.4 806.0 425.3 806.0 420.0C806.0 414.7 805.5 416.6 808.1 412.0C810.8 407.4 809.4 408.8 814.0 406.1C818.6 403.5 816.7 404.0 822.0 404.0C827.3 404.0 825.4 403.5 830.0 406.1C834.6 408.8 833.2 407.4 835.9 412.0C838.5 416.6 838.0 414.7 838.0 420.0Z" fill="url(#gr)"/></g>
<g transform="translate(620.00,590.00) scale(0.12850)" filter="url(#bl)" stroke-linecap="round"><line x1="710" y1="290" x2="778" y2="255" stroke="#6e6e6e" stroke-width="14"/><line x1="710" y1="440" x2="772" y2="477" stroke="#6e6e6e" stroke-width="14"/><line x1="95" y1="255" x2="150" y2="235" stroke="#6e6e6e" stroke-width="14"/><line x1="100" y1="100" x2="130" y2="110" stroke="#6e6e6e" stroke-width="14"/><line x1="190" y1="655" x2="200" y2="620" stroke="#6e6e6e" stroke-width="14"/><line x1="235" y1="570" x2="215" y2="600" stroke="#6e6e6e" stroke-width="14"/><line x1="300" y1="560" x2="330" y2="580" stroke="#6e6e6e" stroke-width="14"/><line x1="615" y1="290" x2="615" y2="440" stroke="#6e6e6e" stroke-width="14"/><line x1="150" y1="235" x2="215" y2="330" stroke="#6e6e6e" stroke-width="14"/><line x1="215" y1="330" x2="160" y2="420" stroke="#6e6e6e" stroke-width="14"/><line x1="60" y1="250" x2="95" y2="255" stroke="#6e6e6e" stroke-width="14"/><line x1="250" y1="150" x2="330" y2="330" stroke="#6e6e6e" stroke-width="14"/><line x1="300" y1="540" x2="330" y2="420" stroke="#6e6e6e" stroke-width="14"/><path d="M135.6 163.9C139.1 189.0 139.2 179.6 135.0 202.3C130.8 225.1 133.8 217.8 122.9 232.1C112.1 246.4 117.1 243.2 102.6 245.3C88.1 247.3 93.7 249.0 79.4 238.2C65.0 227.5 69.9 233.6 59.6 212.9C49.2 192.2 52.0 201.2 48.4 176.1C44.9 151.0 44.8 160.4 49.0 137.7C53.2 114.9 50.2 122.2 61.1 107.9C71.9 93.6 66.9 96.8 81.4 94.7C95.9 92.7 90.3 91.0 104.6 101.8C119.0 112.5 114.1 106.4 124.4 127.1C134.8 147.8 132.0 138.8 135.6 163.9Z" fill="url(#gr)"/><path d="M280.0 175.0C280.0 191.7 281.3 185.6 274.6 200.0C268.0 214.4 271.5 210.0 260.0 218.3C248.5 226.6 253.3 225.0 240.0 225.0C226.7 225.0 231.5 226.6 220.0 218.3C208.5 210.0 212.0 214.4 205.4 200.0C198.7 185.6 200.0 191.7 200.0 175.0C200.0 158.3 198.7 164.4 205.4 150.0C212.0 135.6 208.5 140.0 220.0 131.7C231.5 123.4 226.7 125.0 240.0 125.0C253.3 125.0 248.5 123.4 260.0 131.7C271.5 140.0 268.0 135.6 274.6 150.0C281.3 164.4 280.0 158.3 280.0 175.0Z" fill="url(#gb)"/><path d="M216.0 300.0C216.0 315.3 217.2 309.7 211.2 323.0C205.2 336.3 208.4 332.2 198.0 339.8C187.6 347.5 192.0 346.0 180.0 346.0C168.0 346.0 172.4 347.5 162.0 339.8C151.6 332.2 154.8 336.3 148.8 323.0C142.8 309.7 144.0 315.3 144.0 300.0C144.0 284.7 142.8 290.3 148.8 277.0C154.8 263.7 151.6 267.8 162.0 260.2C172.4 252.5 168.0 254.0 180.0 254.0C192.0 254.0 187.6 252.5 198.0 260.2C208.4 267.8 205.2 263.7 211.2 277.0C217.2 290.3 216.0 284.7 216.0 300.0Z" fill="url(#gb)"/><path d="M242.7 168.0C225.0 196.3 233.4 187.1 208.4 205.6C183.5 224.1 193.4 219.7 167.9 223.5C142.5 227.2 151.2 228.8 132.0 216.8C112.8 204.8 118.1 212.0 110.3 187.4C102.5 162.9 102.9 173.7 108.6 143.2C114.2 112.7 109.7 124.2 127.3 96.0C145.0 67.7 136.6 76.9 161.6 58.4C186.5 39.9 176.6 44.3 202.1 40.5C227.5 36.8 218.8 35.2 238.0 47.2C257.2 59.2 251.9 52.0 259.7 76.6C267.5 101.1 267.1 90.3 261.4 120.8C255.8 151.3 260.3 139.8 242.7 168.0Z" fill="url(#gb)"/><path d="M339.8 249.9C324.2 279.3 331.9 269.6 308.1 289.6C284.2 309.6 293.9 304.7 268.2 309.9C242.6 315.1 251.7 316.2 231.1 305.3C210.5 294.3 216.5 301.2 206.4 277.0C196.4 252.8 197.7 263.7 201.0 232.7C204.3 201.7 200.5 213.6 216.2 184.1C231.8 154.7 224.1 164.4 247.9 144.4C271.8 124.4 262.1 129.3 287.8 124.1C313.4 118.9 304.3 117.8 324.9 128.7C345.5 139.7 339.5 132.8 349.6 157.0C359.6 181.2 358.3 170.3 355.0 201.3C351.7 232.3 355.5 220.4 339.8 249.9Z" fill="url(#gr)"/><path d="M245.0 620.0C245.0 632.7 247.3 628.0 235.6 639.0C224.0 650.0 230.2 646.6 210.0 652.9C189.8 659.2 198.3 658.0 175.0 658.0C151.7 658.0 160.2 659.2 140.0 652.9C119.8 646.6 126.0 650.0 114.4 639.0C102.7 628.0 105.0 632.7 105.0 620.0C105.0 607.3 102.7 612.0 114.4 601.0C126.0 590.0 119.8 593.4 140.0 587.1C160.2 580.8 151.7 582.0 175.0 582.0C198.3 582.0 189.8 580.8 210.0 587.1C230.2 593.4 224.0 590.0 235.6 601.0C247.3 612.0 245.0 607.3 245.0 620.0Z" fill="url(#gr)"/><path d="M351.7 504.7C347.9 531.8 350.4 522.0 341.5 544.7C332.5 567.4 336.6 560.5 325.0 572.7C313.3 584.9 317.8 582.8 306.6 581.2C295.4 579.6 299.1 582.9 291.3 568.0C283.5 553.1 285.5 560.7 283.1 536.5C280.8 512.3 280.5 522.3 284.3 495.3C288.1 468.2 285.6 478.0 294.5 455.3C303.5 432.6 299.4 439.5 311.0 427.3C322.7 415.1 318.2 417.2 329.4 418.8C340.6 420.4 336.9 417.1 344.7 432.0C352.5 446.9 350.5 439.3 352.9 463.5C355.2 487.7 355.5 477.7 351.7 504.7Z" fill="url(#gb)"/><path d="M471.0 482.0C471.0 490.7 472.5 487.5 464.8 495.0C457.2 502.5 461.3 500.2 448.0 504.5C434.7 508.8 440.3 508.0 425.0 508.0C409.7 508.0 415.3 508.8 402.0 504.5C388.7 500.2 392.8 502.5 385.2 495.0C377.5 487.5 379.0 490.7 379.0 482.0C379.0 473.3 377.5 476.5 385.2 469.0C392.8 461.5 388.7 463.8 402.0 459.5C415.3 455.2 409.7 456.0 425.0 456.0C440.3 456.0 434.7 455.2 448.0 459.5C461.3 463.8 457.2 461.5 464.8 469.0C472.5 476.5 471.0 473.3 471.0 482.0Z" fill="url(#gr)"/><path d="M386.0 272.0C386.0 282.0 387.0 278.3 382.0 287.0C377.0 295.7 379.7 293.0 371.0 298.0C362.3 303.0 366.0 302.0 356.0 302.0C346.0 302.0 349.7 303.0 341.0 298.0C332.3 293.0 335.0 295.7 330.0 287.0C325.0 278.3 326.0 282.0 326.0 272.0C326.0 262.0 325.0 265.7 330.0 257.0C335.0 248.3 332.3 251.0 341.0 246.0C349.7 241.0 346.0 242.0 356.0 242.0C366.0 242.0 362.3 241.0 371.0 246.0C379.7 251.0 377.0 248.3 382.0 257.0C387.0 265.7 386.0 262.0 386.0 272.0Z" fill="url(#gr)"/><path d="M183.0 484.8C204.2 508.3 198.3 498.0 207.0 527.1C215.7 556.2 215.2 545.2 209.0 572.0C202.9 598.9 207.9 590.2 188.6 607.6C169.2 625.0 178.4 620.9 151.1 624.2C123.7 627.5 134.6 629.2 106.6 617.5C78.6 605.8 88.2 612.7 67.0 589.2C45.8 565.7 51.7 576.0 43.0 546.9C34.3 517.8 34.8 528.8 41.0 502.0C47.1 475.1 42.1 483.8 61.4 466.4C80.8 449.0 71.6 453.1 98.9 449.8C126.3 446.5 115.4 444.8 143.4 456.5C171.4 468.2 161.8 461.3 183.0 484.8Z" fill="url(#gb)"/><path d="M288.6 411.2C304.2 440.6 300.6 428.8 303.5 459.9C306.5 491.0 308.0 480.1 297.4 504.6C286.9 529.0 293.1 522.0 271.9 533.3C250.8 544.6 260.0 543.3 233.9 538.4C207.7 533.4 217.6 538.3 193.4 518.4C169.3 498.6 177.1 508.2 161.4 478.8C145.8 449.4 149.4 461.2 146.5 430.1C143.5 399.0 142.0 409.9 152.6 385.4C163.1 361.0 156.9 368.0 178.1 356.7C199.2 345.4 190.0 346.7 216.1 351.6C242.3 356.6 232.4 351.7 256.6 371.6C280.7 391.4 272.9 381.8 288.6 411.2Z" fill="url(#gr)"/><path d="M440.0 207.0C415.7 211.3 424.3 200.7 395.0 225.0C365.7 249.3 373.7 240.0 352.0 280.0C330.3 320.0 335.3 301.7 330.0 345.0C324.7 388.3 324.0 373.3 336.0 410.0C348.0 446.7 338.0 433.0 366.0 455.0C394.0 477.0 388.0 473.7 420.0 476.0C452.0 478.3 445.3 476.7 462.0 462.0C478.7 447.3 477.3 450.0 470.0 432.0C462.7 414.0 458.7 426.0 440.0 408.0C421.3 390.0 425.3 401.3 414.0 378.0C402.7 354.7 404.0 366.7 406.0 338.0C408.0 309.3 403.7 319.3 420.0 292.0C436.3 264.7 436.0 274.7 455.0 256.0C474.0 237.3 472.7 250.7 477.0 236.0C481.3 221.3 480.3 221.7 468.0 212.0C455.7 202.3 464.3 202.7 440.0 207.0Z" fill="url(#gb)"/><path d="M495.0 385.0C495.0 397.0 495.4 392.6 493.3 403.0C491.1 413.4 492.3 410.2 488.5 416.2C484.7 422.2 486.3 421.0 482.0 421.0C477.7 421.0 479.3 422.2 475.5 416.2C471.7 410.2 472.9 413.4 470.7 403.0C468.6 392.6 469.0 397.0 469.0 385.0C469.0 373.0 468.6 377.4 470.7 367.0C472.9 356.6 471.7 359.8 475.5 353.8C479.3 347.8 477.7 349.0 482.0 349.0C486.3 349.0 484.7 347.8 488.5 353.8C492.3 359.8 491.1 356.6 493.3 367.0C495.4 377.4 495.0 373.0 495.0 385.0Z" fill="url(#gb)"/><path d="M616.0 300.0C616.0 307.3 616.3 304.6 614.7 311.0C613.0 317.4 613.9 315.4 611.0 319.1C608.1 322.7 609.3 322.0 606.0 322.0C602.7 322.0 603.9 322.7 601.0 319.1C598.1 315.4 599.0 317.4 597.3 311.0C595.7 304.6 596.0 307.3 596.0 300.0C596.0 292.7 595.7 295.4 597.3 289.0C599.0 282.6 598.1 284.6 601.0 280.9C603.9 277.3 602.7 278.0 606.0 278.0C609.3 278.0 608.1 277.3 611.0 280.9C613.9 284.6 613.0 282.6 614.7 289.0C616.3 295.4 616.0 292.7 616.0 300.0Z" fill="url(#gb)"/><path d="M612.0 452.0C612.0 458.7 612.3 456.2 610.7 462.0C609.0 467.8 609.9 466.0 607.0 469.3C604.1 472.7 605.3 472.0 602.0 472.0C598.7 472.0 599.9 472.7 597.0 469.3C594.1 466.0 595.0 467.8 593.3 462.0C591.7 456.2 592.0 458.7 592.0 452.0C592.0 445.3 591.7 447.8 593.3 442.0C595.0 436.2 594.1 438.0 597.0 434.7C599.9 431.3 598.7 432.0 602.0 432.0C605.3 432.0 604.1 431.3 607.0 434.7C609.9 438.0 609.0 436.2 610.7 442.0C612.3 447.8 612.0 445.3 612.0 452.0Z" fill="url(#gb)"/><path d="M582.0 240.0C555.3 237.3 562.0 234.0 532.0 254.0C502.0 274.0 510.7 264.7 492.0 300.0C473.3 335.3 476.7 320.0 476.0 360.0C475.3 400.0 472.0 385.0 490.0 420.0C508.0 455.0 497.3 445.7 530.0 465.0C562.7 484.3 561.3 481.0 588.0 478.0C614.7 475.0 610.0 472.0 610.0 456.0C610.0 440.0 604.0 448.7 588.0 430.0C572.0 411.3 574.3 423.3 562.0 400.0C549.7 376.7 551.0 388.0 551.0 360.0C551.0 332.0 549.0 340.7 562.0 316.0C575.0 291.3 573.3 304.0 590.0 286.0C606.7 268.0 614.7 277.3 612.0 262.0C609.3 246.7 608.7 242.7 582.0 240.0Z" fill="url(#gr)"/><path d="M717.0 365.0C717.0 395.7 718.6 384.4 710.4 411.0C702.3 437.6 706.6 429.3 692.5 444.7C678.4 460.0 684.3 457.0 668.0 457.0C651.7 457.0 657.6 460.0 643.5 444.7C629.4 429.3 633.7 437.6 625.6 411.0C617.4 384.4 619.0 395.7 619.0 365.0C619.0 334.3 617.4 345.6 625.6 319.0C633.7 292.4 629.4 300.7 643.5 285.3C657.6 270.0 651.7 273.0 668.0 273.0C684.3 273.0 678.4 270.0 692.5 285.3C706.6 300.7 702.3 292.4 710.4 319.0C718.6 345.6 717.0 334.3 717.0 365.0Z" fill="url(#gb)"/><path d="M849.0 235.0C849.0 247.0 850.3 242.6 843.5 253.0C836.7 263.4 840.3 260.2 828.5 266.2C816.7 272.2 821.7 271.0 808.0 271.0C794.3 271.0 799.3 272.2 787.5 266.2C775.7 260.2 779.3 263.4 772.5 253.0C765.7 242.6 767.0 247.0 767.0 235.0C767.0 223.0 765.7 227.4 772.5 217.0C779.3 206.6 775.7 209.8 787.5 203.8C799.3 197.8 794.3 199.0 808.0 199.0C821.7 199.0 816.7 197.8 828.5 203.8C840.3 209.8 836.7 206.6 843.5 217.0C850.3 227.4 849.0 223.0 849.0 235.0Z" fill="url(#gr)"/><path d="M841.0 495.0C841.0 508.0 842.3 503.2 835.5 514.5C828.7 525.8 832.3 522.3 820.5 528.8C808.7 535.3 813.7 534.0 800.0 534.0C786.3 534.0 791.3 535.3 779.5 528.8C767.7 522.3 771.3 525.8 764.5 514.5C757.7 503.2 759.0 508.0 759.0 495.0C759.0 482.0 757.7 486.8 764.5 475.5C771.3 464.2 767.7 467.7 779.5 461.2C791.3 454.7 786.3 456.0 800.0 456.0C813.7 456.0 808.7 454.7 820.5 461.2C832.3 467.7 828.7 464.2 835.5 475.5C842.3 486.8 841.0 482.0 841.0 495.0Z" fill="url(#gr)"/></g>
<g transform="translate(770.00,590.00) scale(0.12850)" filter="url(#bl)" stroke-linecap="round"><line x1="150" y1="160" x2="150" y2="198" stroke="#6e6e6e" stroke-width="10"/><line x1="305" y1="160" x2="305" y2="198" stroke="#6e6e6e" stroke-width="10"/><line x1="95" y1="115" x2="132" y2="130" stroke="#6e6e6e" stroke-width="10"/><line x1="345" y1="130" x2="367" y2="115" stroke="#6e6e6e" stroke-width="10"/><line x1="225" y1="298" x2="225" y2="338" stroke="#6e6e6e" stroke-width="10"/><line x1="150" y1="442" x2="150" y2="482" stroke="#6e6e6e" stroke-width="10"/><line x1="305" y1="442" x2="305" y2="482" stroke="#6e6e6e" stroke-width="10"/><line x1="95" y1="540" x2="132" y2="520" stroke="#6e6e6e" stroke-width="10"/><line x1="345" y1="520" x2="367" y2="535" stroke="#6e6e6e" stroke-width="10"/><line x1="375" y1="270" x2="375" y2="370" stroke="#6e6e6e" stroke-width="10"/><line x1="390" y1="270" x2="390" y2="370" stroke="#6e6e6e" stroke-width="10"/><line x1="380" y1="270" x2="432" y2="240" stroke="#6e6e6e" stroke-width="10"/><line x1="480" y1="245" x2="525" y2="270" stroke="#6e6e6e" stroke-width="10"/><line x1="518" y1="270" x2="518" y2="370" stroke="#6e6e6e" stroke-width="10"/><line x1="532" y1="270" x2="532" y2="370" stroke="#6e6e6e" stroke-width="10"/><line x1="525" y1="270" x2="582" y2="240" stroke="#6e6e6e" stroke-width="10"/><line x1="610" y1="240" x2="665" y2="270" stroke="#6e6e6e" stroke-width="10"/><line x1="665" y1="270" x2="665" y2="365" stroke="#6e6e6e" stroke-width="10"/><line x1="665" y1="365" x2="610" y2="395" stroke="#6e6e6e" stroke-width="10"/><line x1="582" y1="400" x2="525" y2="370" stroke="#6e6e6e" stroke-width="10"/><line x1="525" y1="370" x2="490" y2="390" stroke="#6e6e6e" stroke-width="10"/><line x1="380" y1="370" x2="432" y2="400" stroke="#6e6e6e" stroke-width="10"/><line x1="665" y1="270" x2="792" y2="200" stroke="#6e6e6e" stroke-width="10"/><line x1="665" y1="365" x2="792" y2="435" stroke="#6e6e6e" stroke-width="10"/><line x1="583" y1="236" x2="607" y2="236" stroke="#d03030" stroke-width="9"/><line x1="583" y1="402" x2="607" y2="402" stroke="#3030e0" stroke-width="9"/><line x1="780" y1="205" x2="806" y2="192" stroke="#3030e8" stroke-width="9"/><line x1="780" y1="430" x2="808" y2="444" stroke="#3030e8" stroke-width="9"/><path d="M233.6 33.0C277.6 33.0 265.9 29.4 301.8 51.9C337.7 74.4 326.0 70.8 341.4 100.5C356.8 130.2 350.9 119.9 348.0 141.0C345.1 162.2 369.3 154.9 332.6 163.9C295.9 172.9 301.1 168.0 238.0 168.0C174.9 168.0 180.1 172.9 143.4 163.9C106.7 154.9 130.9 162.2 128.0 141.0C125.1 119.9 120.7 130.2 134.6 100.5C148.5 70.8 136.8 74.4 169.8 51.9C202.8 29.4 189.6 33.0 233.6 33.0Z" fill="url(#gb)"/><path d="M181.5 185.4C227.7 177.4 208.0 179.0 255.2 183.0C302.4 187.0 286.7 177.4 323.1 197.3C359.5 217.1 342.8 216.6 364.4 242.5C386.0 268.4 399.8 259.9 388.0 275.0C376.2 290.1 373.2 278.7 329.0 287.7C284.8 296.7 304.4 298.0 255.2 302.0C206.1 306.0 227.7 307.6 181.5 299.6C135.3 291.7 146.1 297.2 116.6 278.2C87.1 259.2 93.0 266.3 93.0 242.5C93.0 218.7 87.1 225.8 116.6 206.8C146.1 187.8 135.3 193.3 181.5 185.4Z" fill="url(#gr)"/><path d="M181.5 335.4C227.7 327.4 208.0 329.0 255.2 333.0C302.4 337.0 286.7 335.4 323.1 347.3C359.5 359.2 342.8 362.8 364.4 368.7C386.0 374.6 399.8 349.1 388.0 365.0C376.2 380.9 373.2 387.3 329.0 416.3C284.8 445.3 304.4 440.9 255.2 452.0C206.1 463.1 227.7 457.6 181.5 449.6C135.3 441.7 146.1 447.2 116.6 428.2C87.1 409.2 93.0 416.3 93.0 392.5C93.0 368.7 87.1 375.8 116.6 356.8C146.1 337.8 135.3 343.3 181.5 335.4Z" fill="url(#gb)"/><path d="M238.0 612.0C282.0 612.0 269.5 615.7 304.0 592.5C338.5 569.4 326.7 573.1 341.4 542.5C356.1 511.9 350.9 522.6 348.0 500.8C345.1 479.0 369.3 486.4 332.6 477.2C295.9 467.9 301.1 473.0 238.0 473.0C174.9 473.0 180.1 467.9 143.4 477.2C106.7 486.4 130.9 479.0 128.0 500.8C125.1 522.6 119.9 511.9 134.6 542.5C149.3 573.1 137.5 569.4 172.0 592.5C206.5 615.7 194.0 612.0 238.0 612.0Z" fill="url(#gr)"/><path d="M488.0 230.0C488.0 239.3 489.1 235.9 483.6 244.0C478.1 252.1 481.0 249.6 471.5 254.2C462.0 258.9 466.0 258.0 455.0 258.0C444.0 258.0 448.0 258.9 438.5 254.2C429.0 249.6 431.9 252.1 426.4 244.0C420.9 235.9 422.0 239.3 422.0 230.0C422.0 220.7 420.9 224.1 426.4 216.0C431.9 207.9 429.0 210.4 438.5 205.8C448.0 201.1 444.0 202.0 455.0 202.0C466.0 202.0 462.0 201.1 471.5 205.8C481.0 210.4 478.1 207.9 483.6 216.0C489.1 224.1 488.0 220.7 488.0 230.0Z" fill="url(#gb)"/><path d="M488.0 400.0C488.0 409.7 489.1 406.1 483.6 414.5C478.1 422.9 481.0 420.3 471.5 425.1C462.0 429.9 466.0 429.0 455.0 429.0C444.0 429.0 448.0 429.9 438.5 425.1C429.0 420.3 431.9 422.9 426.4 414.5C420.9 406.1 422.0 409.7 422.0 400.0C422.0 390.3 420.9 393.9 426.4 385.5C431.9 377.1 429.0 379.7 438.5 374.9C448.0 370.1 444.0 371.0 455.0 371.0C466.0 371.0 462.0 370.1 471.5 374.9C481.0 379.7 478.1 377.1 483.6 385.5C489.1 393.9 488.0 390.3 488.0 400.0Z" fill="url(#gr)"/></g>
<g transform="translate(900.00,590.00) scale(0.12850)" filter="url(#bl)" stroke-linecap="round"><line x1="145" y1="178" x2="145" y2="208" stroke="#6e6e6e" stroke-width="10"/><line x1="290" y1="172" x2="290" y2="198" stroke="#6e6e6e" stroke-width="10"/><line x1="85" y1="130" x2="107" y2="135" stroke="#6e6e6e" stroke-width="10"/><line x1="305" y1="135" x2="350" y2="115" stroke="#6e6e6e" stroke-width="10"/><line x1="220" y1="293" x2="220" y2="328" stroke="#6e6e6e" stroke-width="10"/><line x1="145" y1="432" x2="145" y2="458" stroke="#6e6e6e" stroke-width="10"/><line x1="290" y1="438" x2="290" y2="462" stroke="#6e6e6e" stroke-width="10"/><line x1="85" y1="500" x2="107" y2="495" stroke="#6e6e6e" stroke-width="10"/><line x1="305" y1="490" x2="350" y2="515" stroke="#6e6e6e" stroke-width="10"/><line x1="360" y1="265" x2="360" y2="365" stroke="#6e6e6e" stroke-width="10"/><line x1="373" y1="265" x2="373" y2="365" stroke="#6e6e6e" stroke-width="10"/><line x1="365" y1="265" x2="407" y2="240" stroke="#6e6e6e" stroke-width="10"/><line x1="365" y1="365" x2="407" y2="385" stroke="#6e6e6e" stroke-width="10"/><line x1="498" y1="265" x2="498" y2="360" stroke="#6e6e6e" stroke-width="10"/><line x1="511" y1="265" x2="511" y2="360" stroke="#6e6e6e" stroke-width="10"/><line x1="505" y1="265" x2="557" y2="235" stroke="#6e6e6e" stroke-width="10"/><line x1="505" y1="360" x2="557" y2="385" stroke="#6e6e6e" stroke-width="10"/><line x1="635" y1="265" x2="635" y2="350" stroke="#6e6e6e" stroke-width="10"/><line x1="635" y1="265" x2="757" y2="195" stroke="#6e6e6e" stroke-width="10"/><line x1="635" y1="350" x2="757" y2="425" stroke="#6e6e6e" stroke-width="10"/><path d="M209.3 43.0C251.3 43.0 238.3 39.3 269.1 62.5C299.9 85.6 288.8 81.9 301.7 112.5C314.6 143.1 310.8 132.4 308.0 154.2C305.2 176.0 328.3 168.6 293.3 177.8C258.3 187.1 263.2 182.0 203.0 182.0C142.8 182.0 147.7 187.1 112.7 177.8C77.7 168.6 100.8 176.0 98.0 154.2C95.2 132.4 89.2 143.1 104.3 112.5C119.3 81.9 108.2 85.6 143.2 62.5C178.2 39.3 167.3 43.0 209.3 43.0Z" fill="url(#gb)"/><path d="M191.0 185.3C231.7 177.7 214.4 179.2 256.0 183.0C297.6 186.8 283.7 177.7 315.8 196.7C347.9 215.7 333.1 215.6 352.2 240.0C371.3 264.4 383.4 255.6 373.0 270.0C362.6 284.4 360.0 274.3 321.0 283.3C282.0 292.3 299.3 293.2 256.0 297.0C212.7 300.8 231.7 302.3 191.0 294.7C150.3 287.1 159.8 292.4 133.8 274.2C107.8 256.0 113.0 262.8 113.0 240.0C113.0 217.2 107.8 224.0 133.8 205.8C159.8 187.6 150.3 192.9 191.0 185.3Z" fill="url(#gr)"/><path d="M191.0 325.4C231.7 317.4 214.4 319.0 256.0 323.0C297.6 327.0 283.7 325.4 315.8 337.3C347.9 349.2 333.1 356.1 352.2 358.7C371.3 361.3 383.4 329.1 373.0 345.0C362.6 360.9 360.0 374.0 321.0 406.3C282.0 438.6 299.3 430.9 256.0 442.0C212.7 453.1 231.7 447.6 191.0 439.6C150.3 431.7 159.8 437.2 133.8 418.2C107.8 399.2 113.0 406.3 113.0 382.5C113.0 358.7 107.8 365.8 133.8 346.8C159.8 327.8 150.3 333.3 191.0 325.4Z" fill="url(#gb)"/><path d="M209.3 582.0C251.3 582.0 238.3 585.7 269.1 562.5C299.9 539.4 288.8 543.1 301.7 512.5C314.6 481.9 310.8 492.6 308.0 470.8C305.2 449.0 328.3 456.4 293.3 447.2C258.3 437.9 263.2 443.0 203.0 443.0C142.8 443.0 147.7 437.9 112.7 447.2C77.7 456.4 100.8 449.0 98.0 470.8C95.2 492.6 89.2 481.9 104.3 512.5C119.3 543.1 108.2 539.4 143.2 562.5C178.2 585.7 167.3 582.0 209.3 582.0Z" fill="url(#gr)"/><path d="M431.5 266.5C412.1 261.3 422.9 266.5 412.1 258.1C401.4 249.7 404.6 253.9 399.3 241.4C394.0 228.9 394.8 234.1 396.2 220.6C397.7 207.1 395.8 212.0 403.6 200.9C411.4 189.7 407.4 193.1 419.7 187.2C431.9 181.3 426.7 182.3 440.3 183.1C453.9 183.8 448.9 182.2 460.4 189.5C471.9 196.7 463.4 188.3 474.8 204.8C486.2 221.3 482.2 214.8 494.6 238.9C507.0 263.0 520.1 265.5 512.0 277.0C503.9 288.5 497.1 277.0 470.2 273.5C443.4 270.0 450.8 271.6 431.5 266.5Z" fill="url(#gb)"/><path d="M472.8 408.6C461.6 422.9 469.1 416.3 457.0 422.5C444.8 428.6 450.0 427.5 436.4 427.0C422.8 426.4 427.8 428.0 416.2 420.9C404.6 413.9 408.3 417.6 401.5 405.8C394.8 394.0 396.2 399.1 396.0 385.5C395.8 371.9 394.6 377.0 401.0 365.1C407.5 353.1 403.9 357.0 415.3 349.6C426.8 342.3 417.3 345.4 435.4 343.1C453.4 340.7 445.3 342.0 469.5 342.6C493.7 343.3 501.0 332.7 508.0 345.0C515.0 357.3 502.2 358.2 490.5 379.4C478.8 400.6 483.9 394.2 472.8 408.6Z" fill="url(#gr)"/><path d="M643.0 266.0C639.4 272.4 642.2 270.9 631.5 272.0C620.8 273.2 625.8 273.8 611.0 269.5C596.2 265.2 602.0 267.7 587.0 259.1C572.0 250.4 577.1 254.2 566.0 243.5C554.8 232.8 557.8 236.8 553.5 227.0C549.2 217.2 549.3 220.4 553.0 214.0C556.6 207.6 553.8 209.1 564.5 208.0C575.2 206.8 570.2 206.2 585.0 210.5C599.8 214.8 594.0 212.3 609.0 220.9C624.0 229.6 618.9 225.8 630.0 236.5C641.2 247.2 638.2 243.2 642.5 253.0C646.8 262.8 646.7 259.6 643.0 266.0Z" fill="url(#gr)"/><path d="M643.9 350.6C647.4 357.1 647.6 353.9 642.9 363.6C638.3 373.2 641.4 369.3 629.9 379.6C618.4 389.9 623.6 386.3 608.3 394.4C593.0 402.6 599.0 400.2 584.0 404.0C569.0 407.8 574.0 407.4 563.4 405.9C552.8 404.3 555.5 405.9 552.1 399.4C548.6 392.9 548.4 396.1 553.1 386.4C557.7 376.8 554.6 380.7 566.1 370.4C577.6 360.1 572.4 363.7 587.7 355.6C603.0 347.4 597.0 349.8 612.0 346.0C627.0 342.2 622.0 342.6 632.6 344.1C643.2 345.7 640.5 344.1 643.9 350.6Z" fill="url(#gb)"/><path d="M776.0 193.0C776.0 197.7 776.5 196.0 774.1 200.0C771.8 204.0 773.0 202.8 769.0 205.1C765.0 207.5 766.7 207.0 762.0 207.0C757.3 207.0 759.0 207.5 755.0 205.1C751.0 202.8 752.2 204.0 749.9 200.0C747.5 196.0 748.0 197.7 748.0 193.0C748.0 188.3 747.5 190.0 749.9 186.0C752.2 182.0 751.0 183.2 755.0 180.9C759.0 178.5 757.3 179.0 762.0 179.0C766.7 179.0 765.0 178.5 769.0 180.9C773.0 183.2 771.8 182.0 774.1 186.0C776.5 190.0 776.0 188.3 776.0 193.0Z" fill="url(#gb)"/><path d="M776.0 428.0C776.0 432.7 776.5 431.0 774.1 435.0C771.8 439.0 773.0 437.8 769.0 440.1C765.0 442.5 766.7 442.0 762.0 442.0C757.3 442.0 759.0 442.5 755.0 440.1C751.0 437.8 752.2 439.0 749.9 435.0C747.5 431.0 748.0 432.7 748.0 428.0C748.0 423.3 747.5 425.0 749.9 421.0C752.2 417.0 751.0 418.2 755.0 415.9C759.0 413.5 757.3 414.0 762.0 414.0C766.7 414.0 765.0 413.5 769.0 415.9C773.0 418.2 771.8 417.0 774.1 421.0C776.5 425.0 776.0 423.3 776.0 428.0Z" fill="url(#gr)"/></g>
<g id="cov"><g transform="translate(34.1,69.9) scale(0.955,1)"><rect x="9.98" y="-3.21" width="5.04" height="4.56" fill="#fff"/><rect x="19.25" y="-3.21" width="5.06" height="4.56" fill="#fff"/></g><g transform="translate(245.3,284.9) scale(0.955,1)"><rect x="47.47" y="-3.21" width="5.04" height="4.56" fill="#fff"/><rect x="56.74" y="-3.21" width="5.06" height="4.56" fill="#fff"/></g><g transform="translate(651.8,533.9) scale(0.955,1)"><rect x="32.47" y="-3.21" width="5.04" height="4.56" fill="#fff"/><rect x="41.73" y="-3.21" width="5.06" height="4.56" fill="#fff"/></g><g transform="translate(804.7,397.0) scale(0.970,1)"><rect x="30.50" y="-2.64" width="4.10" height="3.99" fill="#fff"/><rect x="38.08" y="-2.64" width="4.19" height="3.99" fill="#fff"/></g><g transform="translate(926.0,289.9) scale(0.955,1)"><rect x="47.47" y="-3.21" width="5.04" height="4.56" fill="#fff"/><rect x="56.74" y="-3.21" width="5.06" height="4.56" fill="#fff"/></g><g transform="translate(151.5,18.8) scale(0.955,1)"><rect x="-14.00" y="-3.21" width="5.04" height="4.56" fill="#fff"/><rect x="-4.74" y="-3.21" width="5.06" height="4.56" fill="#fff"/></g></g>
</g>
</svg>
</body></html>
